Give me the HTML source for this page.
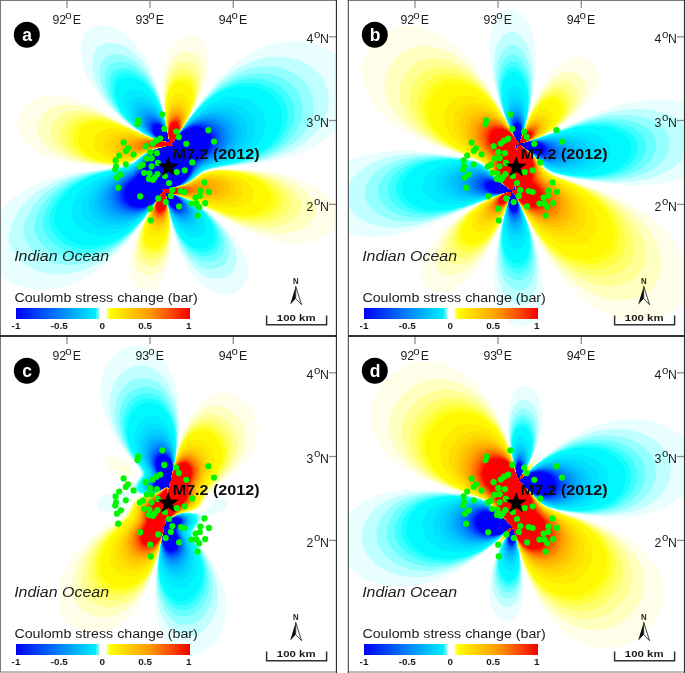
<!DOCTYPE html>
<html><head><meta charset="utf-8"><title>Coulomb stress change</title>
<style>
html,body{margin:0;padding:0;background:#fff;}
body{width:685px;height:673px;overflow:hidden;}
svg{display:block;}
text{font-family:'Liberation Sans', sans-serif;}
.dt{fill:#06f506;}
</style></head><body>
<svg width="685" height="673" viewBox="0 0 685 673">
<defs><clipPath id="cpa"><rect x="0" y="0" width="336" height="336"/></clipPath><clipPath id="cpb"><rect x="348" y="0" width="336" height="336"/></clipPath><clipPath id="cpc"><rect x="0" y="336" width="336" height="336"/></clipPath><clipPath id="cpd"><rect x="348" y="336" width="336" height="336"/></clipPath>
<filter id="soft" x="0" y="0" width="685" height="673" filterUnits="userSpaceOnUse"><feGaussianBlur stdDeviation="0.45"/></filter>
<linearGradient id="gb"><stop offset="0" stop-color="#0000f5"/><stop offset="1" stop-color="#00f0ff"/></linearGradient>
<linearGradient id="gw1"><stop offset="0" stop-color="#00f5ff"/><stop offset="1" stop-color="#fff"/></linearGradient>
<linearGradient id="gw2"><stop offset="0" stop-color="#fff"/><stop offset="1" stop-color="#ffff00"/></linearGradient>
<linearGradient id="gr"><stop offset="0" stop-color="#ffff00"/><stop offset="0.5" stop-color="#ff9900"/><stop offset="1" stop-color="#f50000"/></linearGradient>
</defs>
<rect width="685" height="673" fill="#fff"/>
<g filter="url(#soft)">
<g clip-path="url(#cpa)"><path fill="#e9ffff" fill-rule="evenodd" d="M169.5 142.8L160.1 140.5L148.8 136.5L140.8 132.5L132.8 127.5L122.2 119.5L113.1 111.5L104.5 102.5L96.4 92.5L90.5 83.5L85.9 74.5L82.7 65.5L81.0 57.5L80.5 49.5L81.4 41.5L83.9 34.5L87.5 28.9L93.5 26.1L99.5 25.1L106.5 25.6L114.5 27.9L121.5 31.5L128.5 36.7L134.5 42.5L140.5 50.0L145.5 57.8L149.5 65.5L156.5 83.6L162.5 106.6L169.5 140.6L169.5 142.8ZM45.5 289.5L32.5 289.0L20.5 286.4L9.5 281.7L0.5 275.5L0.5 210.9L6.3 204.5L12.9 198.5L21.2 192.5L29.6 187.5L40.2 182.5L50.5 178.7L62.5 175.3L76.5 172.4L116.5 167.3L125.5 165.6L133.5 162.3L143.6 154.5L150.6 150.5L156.0 148.5L167.9 145.5L172.5 146.1L172.8 145.5L171.5 145.3L170.9 143.5L172.5 142.5L174.1 140.5L202.5 98.7L216.5 81.4L226.5 71.1L237.5 61.9L248.5 54.5L259.5 48.8L269.5 45.1L280.5 42.3L290.5 41.1L300.5 41.1L310.5 42.6L319.5 45.3L328.3 49.5L335.5 54.5L335.5 130.2L327.6 137.5L319.2 143.5L310.4 148.5L300.5 152.9L290.5 156.5L277.5 160.0L262.5 162.9L219.5 167.7L209.5 169.4L201.5 172.7L191.4 180.5L184.4 184.5L179.0 186.5L167.1 189.5L162.5 188.9L162.2 189.5L163.5 189.7L164.1 191.5L162.5 192.5L160.9 194.5L134.5 233.0L121.5 249.1L107.5 262.9L92.5 274.1L77.5 282.0L69.5 285.1L61.5 287.3L53.5 288.8L45.5 289.5ZM226.5 294.5L221.5 294.4L216.5 293.4L210.5 291.0L205.5 288.0L200.5 284.1L195.5 279.0L187.5 268.0L180.8 254.5L175.5 239.0L170.5 218.7L165.5 194.4L165.5 192.2L174.9 194.5L186.1 198.5L195.8 203.5L204.9 209.5L216.1 218.5L225.4 227.5L233.9 237.5L240.0 246.5L244.4 255.5L247.2 264.5L247.9 272.5L246.9 279.5L244.2 285.5L239.5 290.4L233.5 293.5L226.5 294.5Z"/>
<path fill="#bfffff" fill-rule="evenodd" d="M169.5 142.8L160.1 140.5L151.4 137.5L144.8 134.5L136.3 129.5L128.0 123.5L119.9 116.5L113.1 109.5L106.5 101.5L101.1 93.5L97.5 86.5L94.4 78.5L92.8 71.5L92.2 64.5L92.9 57.5L94.8 51.5L98.0 46.5L102.5 44.1L108.5 42.9L114.5 43.2L120.5 44.8L126.5 47.6L132.5 51.7L138.5 57.2L143.5 63.1L151.5 76.2L155.5 85.3L158.5 93.7L164.5 116.7L169.5 140.6L169.5 142.8ZM61.5 274.5L52.5 274.3L43.5 272.8L35.5 270.2L28.5 266.7L22.5 262.5L16.6 256.5L12.5 250.5L9.4 243.5L8.9 238.5L9.9 230.5L11.9 223.5L15.0 216.5L18.6 210.5L23.1 204.5L28.9 198.5L34.7 193.5L41.9 188.5L49.0 184.5L64.5 177.9L74.5 174.9L85.0 172.5L118.5 167.4L126.5 165.6L133.5 162.5L143.7 154.5L150.7 150.5L156.1 148.5L167.9 145.5L172.5 146.1L172.8 145.5L171.5 145.3L170.9 143.5L172.5 142.5L174.1 140.5L198.5 105.3L210.5 90.8L219.5 81.8L229.5 73.7L239.5 67.3L249.5 62.5L259.5 59.1L269.5 57.1L279.5 56.5L289.5 57.5L298.5 59.9L307.5 64.0L314.5 69.1L320.6 75.5L324.8 82.5L327.8 91.5L328.7 100.5L327.6 109.5L324.6 118.5L319.5 127.5L312.9 135.5L304.9 142.5L299.1 146.5L291.5 150.8L275.1 157.5L264.4 160.5L252.5 163.0L217.5 167.6L208.5 169.4L201.5 172.5L191.3 180.5L184.3 184.5L178.9 186.5L167.1 189.5L162.5 188.9L162.2 189.5L163.5 189.7L164.1 191.5L162.5 192.5L160.9 194.5L139.5 225.3L127.5 239.9L115.5 251.6L102.5 261.2L89.5 268.0L75.5 272.6L61.5 274.5ZM220.5 278.6L215.5 278.8L211.5 278.3L206.5 276.7L201.5 274.1L193.5 267.6L185.5 257.6L179.5 246.3L174.5 232.8L169.5 213.5L165.5 194.4L165.5 192.2L174.9 194.5L183.5 197.5L192.0 201.5L200.0 206.5L209.1 213.5L216.6 220.5L222.9 227.5L228.7 235.5L233.1 243.5L235.5 250.5L236.7 257.5L236.3 263.5L234.5 269.1L231.4 273.5L226.5 276.9L220.5 278.6Z"/>
<path fill="#94ffff" fill-rule="evenodd" d="M169.5 142.8L163.6 141.5L154.2 138.5L147.1 135.5L139.8 131.5L132.6 126.5L125.3 120.5L119.2 114.5L113.2 107.5L109.0 101.5L105.0 94.5L102.2 87.5L100.3 80.5L99.7 73.5L100.2 67.5L102.1 61.5L104.5 57.7L108.5 55.5L113.5 54.2L118.5 54.2L124.5 55.5L130.5 58.2L135.5 61.5L140.5 65.9L145.5 71.6L149.5 77.3L153.5 84.4L159.5 99.1L164.5 117.3L169.5 140.6L169.5 142.8ZM77.5 264.6L68.5 265.1L60.5 264.5L52.5 262.7L45.5 260.0L39.4 256.5L33.5 251.6L29.2 246.5L25.8 240.5L23.7 234.5L23.8 231.5L25.0 223.5L27.4 216.5L30.9 209.5L35.0 203.5L40.3 197.5L45.9 192.5L57.8 184.5L72.5 177.8L91.2 172.5L119.5 167.6L126.5 165.9L133.5 162.7L143.8 154.5L150.8 150.5L157.5 148.1L167.9 145.5L172.5 146.1L172.8 145.5L171.5 145.3L170.9 143.5L172.5 142.5L174.1 140.5L192.5 114.0L205.5 97.9L213.5 89.9L222.5 82.5L231.5 76.6L240.5 72.1L249.5 68.9L259.5 66.9L268.5 66.3L277.5 67.1L285.5 69.2L293.5 72.7L300.3 77.5L305.5 82.8L309.8 89.5L312.6 97.5L313.5 105.5L312.8 113.5L310.4 121.5L306.2 129.5L300.8 136.5L293.3 143.5L280.9 151.5L267.1 157.5L247.5 162.7L216.5 167.4L208.5 169.2L201.5 172.3L191.2 180.5L184.2 184.5L177.5 186.9L167.1 189.5L162.5 188.9L162.2 189.5L163.5 189.7L164.1 191.5L162.5 192.5L160.9 194.5L144.5 218.1L133.5 231.7L122.5 242.8L111.5 251.3L100.5 257.6L89.5 262.0L77.5 264.6ZM215.5 268.5L211.5 268.9L207.5 268.5L202.5 267.0L198.5 265.0L190.5 258.7L183.5 249.9L177.5 238.6L172.5 224.6L168.5 208.6L165.5 194.4L165.5 192.2L174.8 194.5L183.4 197.5L189.8 200.5L196.5 204.5L204.6 210.5L211.3 216.5L216.8 222.5L222.0 229.5L226.0 236.5L228.2 242.5L229.4 248.5L229.3 254.5L227.5 260.3L224.5 264.3L220.5 267.1L215.5 268.5Z"/>
<path fill="#6affff" fill-rule="evenodd" d="M169.5 142.8L163.6 141.5L154.3 138.5L141.8 132.5L135.8 128.5L128.3 122.5L122.2 116.5L117.1 110.5L113.0 104.5L109.2 97.5L106.9 91.5L105.5 85.5L105.1 79.5L105.5 74.5L107.0 69.5L109.5 65.4L113.5 63.2L118.5 62.1L123.5 62.3L128.5 63.6L133.5 65.8L138.5 69.1L143.5 73.6L147.5 78.2L154.5 89.3L160.5 103.8L165.5 122.0L169.5 140.6L169.5 142.8ZM86.5 257.6L78.5 258.4L70.5 258.1L62.5 256.6L55.5 254.1L49.5 250.7L44.2 246.5L39.8 241.5L36.3 235.5L34.3 229.5L34.4 226.5L35.6 219.5L38.0 212.5L41.1 206.5L45.4 200.5L49.8 195.5L55.5 190.5L65.9 183.5L79.0 177.5L94.5 172.8L120.5 167.7L127.5 165.9L133.5 163.0L144.0 154.5L150.8 150.5L157.5 148.1L167.9 145.5L172.5 146.1L172.8 145.5L171.5 145.3L170.9 143.5L172.5 142.5L174.1 140.5L190.5 117.0L202.5 102.4L210.5 94.5L218.5 88.0L226.5 82.8L234.5 78.8L242.5 75.9L251.5 73.9L260.5 73.3L268.5 73.9L276.5 75.9L283.5 78.9L290.2 83.5L295.2 88.5L299.1 94.5L301.6 101.5L302.7 108.5L302.1 116.5L299.8 124.5L296.2 131.5L290.8 138.5L284.5 144.5L274.2 151.5L261.2 157.5L243.9 162.5L214.5 167.5L207.5 169.2L201.5 172.1L191.0 180.5L184.2 184.5L177.5 186.9L167.1 189.5L162.5 188.9L162.2 189.5L163.5 189.7L164.1 191.5L162.5 192.5L160.9 194.5L142.5 220.3L134.5 229.6L127.5 236.6L118.5 243.9L107.5 250.6L97.5 254.8L86.5 257.6ZM210.5 261.6L203.5 261.4L199.5 260.1L195.5 258.1L188.5 252.5L181.5 243.6L176.5 234.1L172.2 222.5L168.5 208.4L165.5 194.4L165.5 192.2L171.4 193.5L180.7 196.5L187.6 199.5L194.6 203.5L201.5 208.5L208.2 214.5L213.7 220.5L218.0 226.5L221.3 232.5L223.5 238.5L224.4 244.5L224.0 249.5L222.5 253.9L219.5 257.8L215.5 260.4L210.5 261.6Z"/>
<path fill="#3fffff" fill-rule="evenodd" d="M169.5 142.8L163.6 141.5L154.4 138.5L142.1 132.5L130.1 123.5L120.7 113.5L113.8 102.5L111.3 96.5L109.7 90.5L109.2 84.5L109.6 79.5L111.2 74.5L113.2 71.5L117.5 69.1L121.5 68.2L125.5 68.2L130.5 69.3L134.5 70.9L139.5 73.9L144.5 78.2L148.5 82.6L155.0 92.5L160.5 105.1L165.5 122.4L169.5 140.6L169.5 142.8ZM91.5 252.6L83.5 253.3L76.5 253.0L69.5 251.7L63.5 249.7L57.5 246.5L52.3 242.5L47.8 237.5L44.8 232.5L42.4 225.5L43.3 218.5L45.4 211.5L48.2 205.5L52.3 199.5L56.6 194.5L62.2 189.5L72.7 182.5L86.0 176.5L97.5 173.0L122.5 167.6L129.5 165.4L134.5 162.5L145.5 153.5L152.5 149.8L167.9 145.5L172.5 146.1L172.8 145.5L171.5 145.3L170.9 143.5L172.5 142.5L174.1 140.5L188.5 119.9L199.5 106.5L206.5 99.5L214.5 92.8L221.5 88.2L229.5 84.0L237.5 81.1L245.5 79.3L253.5 78.6L261.5 79.1L268.5 80.6L275.6 83.5L281.8 87.5L287.0 92.5L291.0 98.5L293.2 104.5L294.4 111.5L293.8 119.5L291.8 126.5L288.2 133.5L283.7 139.5L277.5 145.5L267.2 152.5L255.5 157.9L240.1 162.5L214.5 167.2L207.5 169.0L201.5 171.8L190.9 180.5L184.1 184.5L177.5 186.9L167.1 189.5L162.5 188.9L162.2 189.5L163.5 189.7L164.1 191.5L162.5 192.5L160.9 194.5L151.5 208.1L143.5 218.6L136.5 226.6L129.5 233.5L121.5 239.9L111.5 245.9L101.5 250.1L91.5 252.6ZM210.5 255.6L203.5 256.4L199.5 255.6L195.5 254.1L188.5 249.3L181.5 241.2L176.5 232.4L171.8 220.5L168.5 208.2L165.5 194.4L165.5 192.2L171.4 193.5L180.6 196.5L192.7 202.5L198.4 206.5L204.3 211.5L213.1 221.5L216.7 227.5L218.9 232.5L220.1 237.5L220.4 242.5L219.5 247.1L217.5 250.9L214.5 253.8L210.5 255.6Z"/>
<path fill="#15ffff" fill-rule="evenodd" d="M169.5 142.7L157.2 139.5L149.7 136.5L144.0 133.5L132.9 125.5L127.6 120.5L123.3 115.5L119.8 110.5L116.5 104.5L114.1 98.5L112.9 93.5L112.5 88.5L112.9 83.5L114.5 78.5L116.5 76.0L119.5 74.3L123.5 73.2L127.5 73.0L132.5 74.0L137.5 76.1L141.5 78.7L145.5 82.0L149.5 86.4L156.5 97.2L161.5 109.0L166.5 126.8L169.5 140.6L169.5 142.7ZM95.5 248.6L88.5 249.2L81.5 249.0L74.5 247.6L68.4 245.5L62.9 242.5L57.9 238.5L53.6 233.5L50.8 228.5L49.1 223.5L49.0 221.5L50.1 214.5L52.1 208.5L55.2 202.5L58.8 197.5L63.3 192.5L67.8 188.5L78.4 181.5L90.5 176.1L100.5 173.0L122.5 167.9L129.5 165.6L134.5 162.7L145.7 153.5L152.5 149.9L167.9 145.5L172.5 146.1L172.8 145.5L171.5 145.3L170.9 143.5L173.3 141.5L188.5 120.1L198.5 108.3L205.5 101.5L212.5 95.8L219.5 91.3L226.5 87.8L234.5 84.9L242.5 83.3L250.5 82.8L257.5 83.4L264.5 85.2L270.5 87.8L276.1 91.5L281.1 96.5L284.9 102.5L286.9 108.5L287.7 114.5L287.2 121.5L285.2 128.5L282.2 134.5L277.8 140.5L271.6 146.5L261.2 153.5L247.4 159.5L235.5 162.9L213.5 167.1L205.5 169.5L200.5 172.3L189.3 181.5L181.5 185.5L167.1 189.5L162.5 188.9L162.2 189.5L163.5 189.7L164.1 191.5L162.5 192.5L160.9 194.5L151.5 208.0L144.5 217.1L131.5 230.6L122.5 237.6L113.5 242.8L104.5 246.4L95.5 248.6ZM206.5 251.7L200.5 252.1L193.5 249.8L186.5 244.8L180.5 237.8L175.5 228.9L171.5 219.0L168.5 208.1L165.5 194.4L165.5 192.3L177.8 195.5L185.2 198.5L190.8 201.5L196.7 205.5L202.6 210.5L207.3 215.5L211.1 220.5L214.0 225.5L216.0 230.5L217.1 235.5L217.0 240.5L215.9 244.5L213.5 248.0L210.5 250.3L206.5 251.7Z"/>
<path fill="#00f8ff" fill-rule="evenodd" d="M169.5 142.7L157.3 139.5L146.0 134.5L134.6 126.5L125.8 117.5L119.4 107.5L115.9 97.5L115.3 92.5L115.5 87.5L117.0 82.5L118.5 80.4L121.5 78.4L125.5 77.2L129.5 77.0L133.5 77.7L137.5 79.2L142.5 82.1L146.5 85.4L150.5 89.7L156.5 98.6L161.5 109.8L166.5 127.0L169.5 140.6L169.5 142.7ZM96.5 245.6L89.5 245.9L83.5 245.3L77.5 244.0L71.5 241.6L66.4 238.5L61.8 234.5L58.6 230.5L55.9 225.5L54.4 220.5L54.4 218.5L55.5 212.5L57.6 206.5L60.2 201.5L63.6 196.5L68.2 191.5L72.7 187.5L81.7 181.5L93.5 176.1L104.7 172.5L124.5 167.7L130.5 165.4L135.5 162.2L145.8 153.5L152.5 149.9L167.9 145.5L172.5 146.1L172.8 145.5L171.5 145.3L170.9 143.5L173.4 141.5L186.5 122.9L196.5 111.0L202.5 105.0L209.5 99.3L216.5 94.6L223.5 91.1L231.5 88.2L238.5 86.8L246.5 86.2L253.5 86.9L260.5 88.7L266.5 91.5L271.5 94.9L276.0 99.5L279.2 104.5L281.4 110.5L282.2 116.5L281.7 123.5L279.6 130.5L276.5 136.5L271.9 142.5L266.6 147.5L255.9 154.5L244.4 159.5L233.5 162.7L213.5 166.8L205.5 169.3L200.5 172.1L189.2 181.5L182.5 185.1L167.1 189.5L162.5 188.9L162.2 189.5L163.5 189.7L164.1 191.5L162.5 192.5L160.9 194.5L151.5 208.0L144.5 216.8L132.5 228.9L124.5 235.0L115.5 240.1L105.5 243.8L96.5 245.6ZM202.5 248.6L196.5 248.1L189.5 244.9L183.5 239.8L178.5 233.2L173.5 223.6L170.5 215.4L165.5 194.4L165.5 192.3L171.3 193.5L180.4 196.5L190.5 201.5L200.9 209.5L205.6 214.5L209.3 219.5L212.0 224.5L213.8 229.5L214.6 234.5L214.2 238.5L212.7 242.5L210.2 245.5L206.7 247.5L202.5 248.6Z"/>
<path fill="#00ebff" fill-rule="evenodd" d="M169.5 142.7L157.6 139.5L148.7 135.5L139.9 129.5L132.8 122.5L127.4 114.5L124.5 106.5L124.0 98.5L124.9 94.5L126.5 92.4L129.5 90.4L132.5 89.5L135.5 89.3L139.5 89.9L146.5 93.2L153.5 99.6L158.5 106.8L163.5 117.7L167.5 131.7L169.5 140.7L169.5 142.7ZM105.5 235.6L99.5 235.5L94.5 234.8L85.3 231.5L80.7 228.5L77.4 225.5L74.4 221.5L72.4 217.5L71.1 211.5L72.1 206.5L73.9 201.5L78.7 193.5L86.6 185.5L93.9 180.5L101.8 176.5L130.5 166.5L135.5 163.2L144.9 154.5L151.5 150.5L158.5 147.9L167.9 145.5L172.5 146.1L172.8 145.5L171.5 145.3L170.9 143.5L173.4 141.5L183.5 127.3L190.5 118.9L196.5 113.0L202.5 108.1L208.5 104.1L214.5 101.1L220.5 98.9L227.5 97.3L233.5 96.9L239.5 97.3L245.5 98.7L250.5 100.8L255.5 104.0L259.5 108.0L262.5 112.5L264.4 117.5L265.2 122.5L264.8 128.5L263.2 134.5L260.7 139.5L257.1 144.5L252.0 149.5L244.5 154.8L234.7 159.5L227.5 162.0L210.5 166.4L204.5 168.7L199.5 171.9L190.1 180.5L182.5 184.9L167.1 189.5L162.5 188.9L162.2 189.5L163.5 189.7L164.1 191.5L161.6 193.5L148.5 211.3L143.5 216.7L137.5 222.0L129.5 227.7L121.5 231.7L113.5 234.3L105.5 235.6ZM197.5 237.6L192.5 237.7L186.5 235.4L181.5 231.6L176.5 225.7L173.5 220.9L170.5 213.8L167.5 203.2L165.5 194.3L165.5 192.3L177.4 195.5L186.2 199.5L194.6 205.5L200.9 212.5L205.1 220.5L206.0 224.5L206.0 228.5L205.2 231.5L203.5 234.2L201.5 235.9L197.5 237.6Z"/>
<path fill="#00dfff" fill-rule="evenodd" d="M169.5 142.7L160.6 140.5L151.2 136.5L143.5 131.5L136.4 124.5L131.8 117.5L129.3 109.5L129.6 102.5L130.7 100.5L132.5 98.7L137.5 96.7L143.5 97.3L149.5 100.2L155.5 105.6L160.5 112.9L164.5 121.8L167.5 132.0L169.5 140.7L169.5 142.7ZM111.5 229.5L102.5 228.8L97.5 227.3L93.5 225.4L89.5 222.6L86.5 219.6L84.3 216.5L82.4 212.5L81.3 207.5L82.1 203.5L83.9 198.5L88.1 191.5L95.0 184.5L100.5 180.5L107.8 176.5L126.5 169.4L131.5 167.0L135.5 164.1L145.4 154.5L151.8 150.5L158.5 148.0L168.0 145.5L172.5 146.1L172.8 145.5L171.5 145.3L170.9 143.5L173.4 141.5L181.5 130.2L187.5 123.0L197.5 113.9L203.5 109.8L208.5 107.2L214.5 105.0L220.5 103.6L226.5 103.2L231.5 103.6L236.5 104.7L241.5 106.7L245.8 109.5L249.5 113.0L252.5 117.5L254.0 121.5L254.8 126.5L254.6 131.5L253.3 136.5L250.9 141.5L247.3 146.5L243.3 150.5L236.4 155.5L228.5 159.5L209.5 165.6L203.5 168.2L199.5 171.0L189.6 180.5L183.2 184.5L176.5 187.0L167.0 189.5L162.5 188.9L162.2 189.5L163.5 189.7L164.1 191.5L161.6 193.5L149.5 209.6L141.5 217.2L133.5 222.7L126.5 226.2L118.5 228.6L111.5 229.5ZM194.5 230.9L190.5 231.4L185.5 230.2L180.5 227.0L175.5 221.9L172.5 217.1L169.5 210.0L165.5 194.3L165.5 192.3L174.4 194.5L183.7 198.5L191.0 203.5L196.6 209.5L199.8 215.5L200.8 219.5L200.9 222.5L200.3 225.5L199.2 227.5L197.5 229.2L194.5 230.9Z"/>
<path fill="#00d2ff" fill-rule="evenodd" d="M169.5 142.7L160.8 140.5L153.6 137.5L147.0 133.5L140.4 127.5L135.5 120.5L133.2 114.5L132.9 108.5L133.6 106.5L135.5 104.0L139.5 102.0L142.5 101.7L145.5 102.1L151.5 104.9L156.5 109.3L160.5 114.6L164.5 122.7L167.5 132.2L169.5 140.7L169.5 142.7ZM122.5 224.6L112.5 225.3L103.5 223.3L99.5 221.3L95.6 218.5L90.8 212.5L89.2 208.5L88.4 204.5L89.6 199.5L93.7 191.5L100.0 184.5L105.3 180.5L110.4 177.5L127.5 170.1L132.5 167.4L136.5 164.1L144.7 155.5L151.5 150.8L158.5 148.0L168.0 145.5L172.5 146.1L172.8 145.5L171.5 145.3L170.9 143.5L173.4 141.5L185.5 125.6L193.5 118.1L203.5 111.9L208.5 109.8L214.5 108.2L220.5 107.6L225.5 107.8L230.5 108.9L235.5 110.9L239.4 113.5L242.5 116.5L245.2 120.5L246.8 124.5L247.6 129.5L247.2 134.5L245.7 139.5L243.6 143.5L240.7 147.5L236.8 151.5L231.4 155.5L226.5 158.3L208.5 164.9L202.5 167.8L198.5 170.9L190.3 179.5L182.8 184.5L176.5 187.0L167.0 189.5L162.5 188.9L162.2 189.5L163.5 189.7L164.1 191.5L161.6 193.5L151.5 207.0L145.5 213.0L140.5 216.8L133.5 220.8L128.5 223.0L122.5 224.6ZM191.5 226.5L187.5 227.0L183.5 225.9L178.5 223.0L174.5 218.8L171.5 214.0L169.5 209.3L166.5 198.6L165.5 192.3L174.2 194.5L183.2 198.5L188.8 202.5L193.5 207.5L196.7 213.5L197.3 218.5L196.7 221.5L195.6 223.5L193.5 225.5L191.5 226.5Z"/>
<path fill="#00c5ff" fill-rule="evenodd" d="M169.5 142.7L160.9 140.5L154.0 137.5L147.7 133.5L142.4 128.5L138.3 122.5L135.9 116.5L135.9 111.5L138.4 107.5L142.5 105.6L145.5 105.5L148.5 106.2L153.5 108.8L158.5 113.4L162.5 119.3L165.5 126.0L169.5 140.7L169.5 142.7ZM125.5 221.6L116.5 222.1L108.5 220.4L101.5 216.5L98.5 213.5L96.4 210.5L94.2 204.5L93.9 201.5L94.4 199.5L98.1 191.5L104.0 184.5L112.2 178.5L132.5 168.4L136.5 165.0L145.1 155.5L150.6 151.5L157.3 148.5L168.0 145.5L172.5 146.1L172.8 145.5L171.5 145.2L170.9 143.5L173.4 141.5L183.5 128.2L191.5 120.6L200.5 114.9L210.5 111.5L215.5 110.8L220.5 110.9L225.5 111.9L229.5 113.4L233.2 115.5L236.7 118.5L239.0 121.5L241.0 125.5L241.9 129.5L242.0 134.5L240.8 139.5L239.0 143.5L236.3 147.5L232.6 151.5L225.9 156.5L202.5 166.8L198.5 170.0L189.9 179.5L183.5 184.0L176.5 186.9L167.0 189.5L162.5 188.9L162.2 189.5L163.5 189.8L164.1 191.5L162.5 192.5L154.5 203.2L147.5 210.7L143.5 213.9L138.5 216.9L131.5 220.0L125.5 221.6ZM188.5 223.5L184.5 223.7L180.5 222.4L176.5 219.6L173.5 216.2L170.5 211.0L168.5 205.9L165.5 194.3L165.5 192.3L174.1 194.5L180.9 197.5L186.9 201.5L191.5 206.5L194.4 212.5L194.6 217.5L193.8 219.5L192.2 221.5L188.5 223.5Z"/>
<path fill="#00b8ff" fill-rule="evenodd" d="M169.5 142.7L164.0 141.5L156.3 138.5L149.7 134.5L145.2 130.5L140.8 124.5L138.4 118.5L138.2 114.5L140.5 110.4L144.5 108.5L148.5 108.7L153.5 110.7L158.5 114.8L162.5 120.3L165.5 126.5L168.5 136.6L169.5 142.7ZM125.5 219.6L117.5 219.4L110.5 217.4L104.5 213.5L101.8 210.5L100.0 207.5L98.9 204.5L98.3 200.5L99.2 196.5L102.9 189.5L108.3 183.5L115.3 178.5L133.5 168.7L136.5 166.0L144.5 156.5L150.9 151.5L158.5 148.1L168.0 145.5L172.5 146.1L172.8 145.5L171.5 145.2L170.9 143.5L173.4 141.5L181.5 130.7L188.5 123.6L196.5 118.1L206.5 114.3L211.5 113.4L216.5 113.4L221.5 114.2L225.5 115.6L229.5 117.9L232.5 120.6L234.8 123.5L236.8 127.5L237.6 131.5L237.5 136.5L236.5 140.5L234.7 144.5L232.0 148.5L228.2 152.5L221.5 156.9L206.5 163.7L201.5 166.5L197.5 170.2L190.5 178.5L183.5 183.8L176.5 186.9L167.0 189.5L162.5 188.9L162.2 189.5L163.5 189.8L164.1 191.5L162.5 192.5L154.5 203.1L147.5 210.2L142.5 213.8L137.5 216.4L130.5 218.7L125.5 219.6ZM185.5 221.6L181.5 221.1L178.5 219.7L175.5 217.4L172.5 213.8L168.5 205.5L165.5 194.3L165.5 192.3L174.0 194.5L180.5 197.5L186.2 201.5L189.8 205.5L192.3 210.5L192.6 215.5L190.3 219.5L188.5 220.8L185.5 221.6Z"/>
<path fill="#00acff" fill-rule="evenodd" d="M169.5 142.7L164.1 141.5L156.6 138.5L150.2 134.5L145.9 130.5L142.4 125.5L140.5 120.5L140.5 116.0L142.5 112.6L146.5 110.9L150.5 111.2L155.5 113.6L159.5 117.1L162.5 121.1L165.5 127.0L168.5 136.6L169.5 142.7ZM128.5 217.5L121.5 217.6L114.5 215.9L108.7 212.5L104.3 207.5L102.3 202.5L102.0 197.5L105.1 190.5L109.9 184.5L117.8 178.5L133.7 169.5L137.5 165.7L144.9 156.5L151.2 151.5L157.6 148.5L168.0 145.5L172.5 146.1L172.8 145.5L171.5 145.2L170.9 143.5L173.4 141.5L180.5 132.0L187.5 124.9L194.5 120.1L204.5 116.2L213.5 115.4L218.5 116.2L222.5 117.6L225.9 119.5L229.3 122.5L231.6 125.5L233.4 129.5L234.1 133.5L233.9 137.5L232.9 141.5L231.1 145.5L225.5 152.4L218.5 157.0L201.5 165.6L197.5 169.3L190.1 178.5L183.8 183.5L177.4 186.5L167.0 189.5L162.5 188.9L162.2 189.5L163.5 189.8L164.1 191.5L162.5 192.5L154.5 202.9L148.5 209.0L144.5 211.9L139.5 214.6L134.5 216.3L128.5 217.5ZM185.5 219.6L182.5 219.7L178.5 218.4L175.5 216.4L172.5 213.1L168.5 205.2L165.5 194.3L165.5 192.3L170.9 193.5L178.4 196.5L184.4 200.5L188.2 204.5L190.7 209.5L191.0 213.5L189.1 217.5L185.5 219.6Z"/>
<path fill="#009fff" fill-rule="evenodd" d="M169.5 142.7L164.1 141.5L156.8 138.5L152.0 135.5L147.5 131.5L144.0 126.5L142.2 121.5L142.4 117.5L144.3 114.5L147.5 113.0L151.5 113.2L156.5 115.5L160.5 119.2L163.5 123.4L166.5 129.9L169.5 140.7L169.5 142.7ZM132.5 215.6L124.5 216.1L117.5 214.5L112.0 211.5L107.5 206.6L105.4 201.5L105.0 196.5L107.6 190.5L112.3 184.5L118.5 179.5L134.5 169.7L137.5 166.7L144.3 157.5L150.5 152.1L156.5 149.0L164.1 146.5L168.5 145.4L172.5 146.1L172.8 145.5L171.5 145.2L170.9 143.5L173.4 141.5L180.5 132.1L186.5 126.1L193.5 121.3L202.5 118.0L211.5 117.2L219.5 119.1L223.5 121.3L226.1 123.5L228.4 126.5L229.9 129.5L230.8 132.5L231.0 136.5L229.4 143.5L227.2 147.5L224.9 150.5L217.5 156.1L200.5 165.4L197.5 168.3L189.8 178.5L183.5 183.5L177.2 186.5L169.5 188.9L166.5 189.6L162.5 188.9L162.2 189.5L163.5 189.8L164.1 191.5L162.5 192.5L155.5 201.6L150.5 206.9L146.5 210.1L141.5 213.0L132.5 215.6ZM185.5 217.7L182.5 218.3L178.5 217.3L175.5 215.5L172.5 212.4L168.5 204.9L165.5 194.3L165.5 192.3L170.9 193.5L178.2 196.5L182.8 199.5L186.7 203.5L189.0 207.5L189.7 211.5L188.4 215.5L185.5 217.7Z"/>
<path fill="#0092ff" fill-rule="evenodd" d="M169.5 142.7L164.2 141.5L157.1 138.5L152.4 135.5L149.1 132.5L146.0 128.5L143.9 123.5L143.9 119.5L145.5 116.4L148.5 114.8L152.5 114.9L156.5 116.6L160.5 120.0L163.5 123.9L166.5 130.2L169.5 140.7L169.5 142.7ZM132.5 214.6L125.5 214.6L119.5 213.1L114.5 210.4L110.0 205.5L108.0 200.5L107.6 195.5L110.3 189.5L114.4 184.5L120.5 179.5L131.5 172.8L135.5 169.7L144.7 157.5L150.2 152.5L156.5 149.1L164.2 146.5L168.5 145.4L172.5 146.2L172.8 145.5L171.5 145.2L170.9 143.5L173.4 141.5L182.5 130.1L187.5 125.7L191.5 123.0L195.5 121.0L200.5 119.4L209.5 118.6L213.5 119.2L217.4 120.5L223.4 124.5L225.8 127.5L227.3 130.5L228.2 133.5L228.4 137.5L226.6 144.5L224.5 148.2L222.4 150.5L216.2 155.5L203.5 162.5L199.5 165.4L197.5 167.4L190.3 177.5L184.8 182.5L178.5 185.9L170.8 188.5L166.5 189.6L162.5 188.8L162.2 189.5L163.5 189.8L164.1 191.5L162.5 192.5L155.5 201.5L150.5 206.6L142.5 211.9L137.5 213.7L132.5 214.6ZM183.5 216.8L180.5 216.8L177.5 215.9L174.5 213.9L171.5 210.4L169.5 207.0L167.5 201.8L165.5 194.3L165.5 192.3L170.8 193.5L177.9 196.5L182.4 199.5L186.1 203.5L188.1 207.5L188.4 211.5L186.5 215.2L183.5 216.8Z"/>
<path fill="#0085ff" fill-rule="evenodd" d="M169.5 142.7L164.3 141.5L157.3 138.5L152.8 135.5L149.6 132.5L146.8 128.5L145.3 124.5L145.3 120.5L147.2 117.5L150.5 116.2L154.5 116.7L158.5 118.9L161.5 121.8L164.5 126.1L166.5 130.5L169.5 140.7L169.5 142.7ZM133.5 213.5L126.5 213.3L120.5 211.6L115.6 208.5L112.2 204.5L110.2 199.5L110.0 194.5L112.2 189.5L116.3 184.5L122.2 179.5L135.5 170.6L138.5 167.1L145.0 157.5L150.5 152.5L156.5 149.2L164.2 146.5L168.5 145.4L172.5 146.2L172.8 145.5L171.5 145.2L170.9 143.5L172.5 142.5L182.5 130.3L190.5 124.1L198.5 120.8L207.5 119.8L215.0 121.5L218.5 123.3L221.2 125.5L223.6 128.5L225.1 131.5L226.1 137.5L224.6 144.5L222.9 147.5L220.3 150.5L214.2 155.5L199.5 164.5L196.5 167.9L190.0 177.5L184.5 182.5L178.5 185.8L170.8 188.5L166.5 189.6L162.5 188.8L162.2 189.5L163.5 189.8L164.1 191.5L162.5 192.5L155.5 201.4L150.5 206.4L146.5 209.3L142.5 211.4L137.5 213.0L133.5 213.5ZM182.5 215.7L179.5 215.6L176.5 214.5L173.5 212.3L171.5 210.0L169.5 206.6L167.5 201.6L165.5 194.3L165.5 192.3L170.7 193.5L177.7 196.5L182.0 199.5L184.8 202.5L186.9 206.5L187.3 210.5L186.7 212.5L185.5 214.2L182.5 215.7Z"/>
<path fill="#0079ff" fill-rule="evenodd" d="M169.5 142.7L164.3 141.5L159.4 139.5L154.4 136.5L150.1 132.5L147.5 128.5L146.3 124.5L146.5 121.5L148.5 118.6L151.5 117.5L154.5 117.8L158.5 119.7L161.5 122.4L164.5 126.5L166.5 130.7L169.5 140.8L169.5 142.7ZM135.5 212.5L129.5 212.5L122.5 210.7L117.5 207.6L114.1 203.5L112.2 198.5L112.1 193.5L114.0 189.5L118.0 184.5L123.8 179.5L135.5 171.5L138.5 168.0L145.4 157.5L150.7 152.5L156.5 149.2L164.3 146.5L168.5 145.4L172.5 146.2L172.8 145.5L171.5 145.2L170.9 143.5L172.5 142.5L182.5 130.4L189.5 125.0L197.5 121.7L205.5 120.9L213.2 122.5L216.5 124.2L219.3 126.5L221.7 129.5L223.2 132.5L224.1 138.5L222.7 144.5L218.4 150.5L213.5 154.7L202.5 161.5L198.5 164.6L190.4 176.5L184.3 182.5L178.5 185.8L170.7 188.5L166.5 189.6L162.5 188.8L162.2 189.5L163.5 189.8L164.1 191.5L162.5 192.5L156.5 200.2L151.5 205.4L144.5 210.0L139.5 211.8L135.5 212.5ZM181.5 214.7L179.5 214.7L176.5 213.8L173.5 211.7L171.5 209.5L169.5 206.3L167.5 201.5L165.5 194.2L165.5 192.3L170.7 193.5L177.5 196.5L181.6 199.5L184.3 202.5L186.2 206.5L186.3 210.5L184.5 213.4L181.5 214.7Z"/>
<path fill="#006cff" fill-rule="evenodd" d="M169.5 142.7L164.4 141.5L159.6 139.5L154.7 136.5L151.4 133.5L148.6 129.5L147.4 125.5L147.5 122.5L149.5 119.7L152.5 118.6L155.5 119.0L159.5 121.1L162.5 124.0L166.5 130.9L169.5 140.8L169.5 142.7ZM137.5 211.6L130.5 211.6L124.5 210.0L120.1 207.5L116.3 203.5L114.2 198.5L113.9 193.5L115.6 189.5L119.5 184.5L123.9 180.5L136.5 171.3L144.9 158.5L151.0 152.5L156.1 149.5L164.3 146.5L168.5 145.4L172.5 146.2L172.8 145.5L171.5 145.2L170.9 143.5L172.5 142.5L181.5 131.6L188.5 126.0L195.5 122.9L203.5 121.8L207.5 122.2L211.5 123.4L214.5 124.9L217.5 127.2L221.1 132.5L222.2 138.5L220.9 144.5L216.7 150.5L212.2 154.5L198.5 163.7L196.5 166.1L190.1 176.5L184.0 182.5L178.9 185.5L170.7 188.5L166.5 189.6L162.5 188.8L162.2 189.5L163.5 189.8L164.1 191.5L162.5 192.5L156.5 200.2L152.5 204.3L145.5 209.1L137.5 211.6ZM181.5 213.7L179.5 213.9L176.5 213.1L173.5 211.2L171.5 209.1L169.5 206.1L167.5 201.4L165.5 194.2L165.5 192.3L170.6 193.5L175.4 195.5L180.2 198.5L183.1 201.5L185.3 205.5L185.6 208.5L184.5 211.7L181.5 213.7Z"/>
<path fill="#005fff" fill-rule="evenodd" d="M169.5 142.7L164.4 141.5L159.7 139.5L152.7 134.5L150.3 131.5L148.5 127.5L148.3 124.5L149.5 121.4L151.5 120.0L154.5 119.7L158.5 121.1L161.5 123.4L164.5 127.2L166.5 131.1L169.5 140.8L169.5 142.7ZM139.5 210.7L133.5 211.1L127.5 209.9L122.5 207.4L118.3 203.5L115.9 198.5L115.6 193.5L117.1 189.5L120.9 184.5L125.3 180.5L136.5 172.2L139.5 168.2L145.2 158.5L151.2 152.5L156.2 149.5L163.5 146.8L168.5 145.4L172.5 146.2L172.8 145.5L171.5 145.2L170.9 143.5L172.5 142.5L181.5 131.7L187.5 126.9L194.5 123.8L202.5 122.7L209.5 124.0L215.5 127.5L219.2 132.5L220.6 138.5L219.2 144.5L215.2 150.5L210.7 154.5L200.5 161.3L197.5 163.9L189.8 176.5L185.1 181.5L180.7 184.5L173.8 187.5L166.5 189.6L162.5 188.8L162.2 189.5L163.5 189.8L164.1 191.5L162.5 192.5L153.5 203.3L146.5 208.3L139.5 210.7ZM181.5 212.7L179.5 213.1L176.5 212.5L173.5 210.7L171.5 208.7L169.5 205.8L167.5 201.2L165.5 194.2L165.5 192.3L170.6 193.5L175.3 195.5L179.9 198.5L182.7 201.5L184.7 205.5L184.8 208.5L183.5 211.4L181.5 212.7Z"/>
<path fill="#0052ff" fill-rule="evenodd" d="M169.5 142.7L164.5 141.5L159.8 139.5L153.1 134.5L150.8 131.5L149.2 127.5L149.2 124.5L150.5 122.1L153.5 120.6L156.5 120.9L159.5 122.3L162.5 124.9L166.5 131.3L169.5 140.8L169.5 142.7ZM141.5 209.8L137.5 210.4L132.5 210.2L128.5 209.2L124.5 207.3L121.1 204.5L118.8 201.5L117.4 197.5L117.2 193.5L118.4 189.5L122.1 184.5L137.8 171.5L144.1 160.5L147.1 156.5L152.8 151.5L159.5 148.1L168.2 145.5L172.5 146.2L172.8 145.5L171.5 145.2L170.9 143.5L172.5 142.5L179.5 133.8L184.5 129.2L191.5 125.2L197.5 123.6L204.5 123.7L210.1 125.5L214.5 128.5L217.9 133.5L219.0 138.5L217.7 144.5L213.8 150.5L209.3 154.5L197.5 163.1L190.2 175.5L184.9 181.5L179.5 185.1L172.5 187.9L166.5 189.5L162.5 188.8L162.2 189.5L163.5 189.8L164.1 191.5L162.5 192.5L154.5 202.2L148.5 206.9L141.5 209.8ZM181.5 211.7L179.5 212.3L176.5 211.9L173.5 210.3L171.5 208.4L169.5 205.5L167.5 201.1L165.5 194.2L165.5 192.3L170.5 193.5L175.2 195.5L178.4 197.5L181.6 200.5L183.5 203.5L184.2 206.5L183.7 209.5L181.5 211.7Z"/>
<path fill="#0046ff" fill-rule="evenodd" d="M169.5 142.7L164.5 141.5L159.9 139.5L156.7 137.5L153.4 134.5L151.3 131.5L149.9 127.5L150.2 124.5L151.5 122.6L153.5 121.6L156.5 121.6L159.5 122.8L162.5 125.3L165.5 129.5L167.5 133.9L169.5 140.8L169.5 142.7ZM140.5 209.5L135.5 209.8L131.5 209.2L127.5 207.8L124.5 205.9L121.9 203.5L119.9 200.5L118.8 197.5L118.6 193.5L119.7 189.5L123.3 184.5L127.6 180.5L135.6 174.5L138.5 171.5L143.8 161.5L147.3 156.5L153.0 151.5L158.7 148.5L168.2 145.5L172.5 146.2L172.8 145.5L171.5 145.2L170.9 143.5L172.5 142.5L178.5 135.0L182.5 131.0L186.5 128.1L190.5 126.0L196.5 124.3L202.5 124.3L207.5 125.5L212.5 128.5L215.8 132.5L217.3 136.5L217.4 140.5L215.9 145.5L213.3 149.5L210.5 152.5L197.3 162.5L195.5 165.0L191.2 173.5L187.7 178.5L182.0 183.5L176.3 186.5L166.8 189.5L162.5 188.8L162.2 189.5L163.5 189.8L164.1 191.5L162.5 192.5L154.5 202.1L147.5 207.2L140.5 209.5ZM179.5 211.6L177.5 211.6L174.5 210.5L170.5 206.8L167.5 201.0L165.5 194.2L165.5 192.3L170.5 193.5L175.1 195.5L178.2 197.5L181.3 200.5L183.3 204.5L183.5 207.5L181.9 210.5L179.5 211.6Z"/>
<path fill="#0039ff" fill-rule="evenodd" d="M169.5 142.7L164.6 141.5L160.1 139.5L156.9 137.5L153.7 134.5L151.7 131.5L150.6 128.5L150.8 125.5L151.9 123.5L153.5 122.5L156.5 122.2L159.5 123.3L162.5 125.6L165.5 129.7L167.5 134.0L169.5 140.8L169.5 142.7ZM142.5 208.7L138.5 209.2L134.5 209.1L130.5 208.1L126.5 206.1L123.5 203.5L121.3 200.5L120.2 197.5L119.9 193.5L120.9 189.5L124.4 184.5L138.5 172.3L144.1 161.5L147.6 156.5L152.5 152.0L158.8 148.5L168.2 145.5L172.5 146.2L172.8 145.5L171.5 145.2L170.9 143.5L172.5 142.5L181.5 132.0L185.5 128.9L189.5 126.8L195.5 125.0L201.5 124.9L207.4 126.5L211.5 129.2L214.3 132.5L215.9 136.5L216.1 140.5L214.6 145.5L212.1 149.5L209.3 152.5L199.5 159.8L196.5 162.7L190.9 173.5L187.4 178.5L182.5 183.0L176.2 186.5L166.8 189.5L162.5 188.8L162.2 189.5L163.5 189.8L164.1 191.5L162.5 192.5L155.5 201.0L149.5 205.8L142.5 208.7ZM180.5 210.5L178.5 211.1L175.5 210.6L172.5 208.7L170.5 206.5L167.5 200.9L165.5 194.2L165.5 192.3L172.9 194.5L176.6 196.5L180.1 199.5L182.2 202.5L183.0 205.5L182.5 208.5L180.5 210.5Z"/>
<path fill="#002cff" fill-rule="evenodd" d="M169.5 142.7L162.2 140.5L158.6 138.5L154.9 135.5L152.6 132.5L151.4 129.5L151.3 126.5L152.5 124.2L154.5 123.0L157.5 123.0L160.5 124.4L163.5 127.0L165.5 129.9L167.5 134.2L169.5 140.8L169.5 142.7ZM140.5 208.6L136.5 208.7L132.5 207.9L128.9 206.5L126.0 204.5L123.3 201.5L121.8 198.5L121.1 195.5L121.2 192.5L122.5 188.5L125.4 184.5L136.5 175.2L139.0 172.5L145.0 160.5L147.8 156.5L152.0 152.5L158.9 148.5L168.2 145.5L172.5 146.2L172.8 145.5L171.5 145.2L170.9 143.5L172.5 142.5L181.5 132.1L185.5 129.1L189.5 127.0L194.5 125.6L200.5 125.4L205.5 126.7L210.2 129.5L212.8 132.5L214.6 136.5L214.9 140.5L213.5 145.5L211.0 149.5L208.2 152.5L196.5 161.9L194.5 165.0L190.0 174.5L187.2 178.5L183.0 182.5L176.1 186.5L166.8 189.5L162.5 188.8L162.2 189.5L163.5 189.8L164.1 191.5L162.5 192.5L154.5 201.9L147.5 206.7L140.5 208.6ZM180.5 209.7L178.5 210.4L175.5 210.1L172.5 208.4L170.5 206.3L167.5 200.8L165.5 194.2L165.5 192.3L172.8 194.5L176.4 196.5L179.9 199.5L181.8 202.5L182.5 205.5L182.2 207.5L180.5 209.7Z"/>
<path fill="#001fff" fill-rule="evenodd" d="M169.5 142.7L162.2 140.5L158.7 138.5L155.1 135.5L153.0 132.5L151.9 129.5L152.0 126.5L153.3 124.5L155.5 123.6L158.5 123.8L161.5 125.5L163.5 127.3L165.5 130.1L167.5 134.3L169.5 140.8L169.5 142.7ZM143.5 207.8L139.5 208.3L135.5 208.0L131.5 206.9L128.5 205.3L126.3 203.5L123.9 200.5L122.6 197.5L122.2 193.5L123.1 189.5L125.5 185.5L129.4 181.5L136.9 175.5L139.5 172.6L144.7 161.5L148.0 156.5L152.2 152.5L159.0 148.5L168.2 145.5L172.5 146.3L172.8 145.5L171.5 145.2L170.9 143.5L172.5 142.5L180.5 133.1L184.5 129.9L188.5 127.7L194.5 126.0L199.5 125.9L204.5 127.1L208.7 129.5L211.5 132.5L213.3 136.5L213.7 140.5L212.4 145.5L208.2 151.5L196.2 161.5L194.5 164.1L190.3 173.5L187.0 178.5L182.8 182.5L176.0 186.5L166.8 189.5L162.5 188.7L162.2 189.5L163.5 189.8L164.1 191.5L162.5 192.5L155.5 200.9L150.5 204.9L143.5 207.8ZM179.5 209.5L177.5 210.0L174.5 209.3L170.5 206.1L167.5 200.7L165.5 194.2L165.5 192.3L172.8 194.5L176.3 196.5L179.6 199.5L181.5 202.5L182.0 205.5L181.5 207.6L179.5 209.5Z"/>
<path fill="#0013ff" fill-rule="evenodd" d="M169.5 142.7L162.3 140.5L158.8 138.5L155.4 135.5L153.3 132.5L152.3 129.5L152.4 127.5L153.5 125.4L155.5 124.2L158.5 124.3L161.5 125.8L163.5 127.6L165.5 130.3L167.5 134.4L169.5 140.8L169.5 142.7ZM142.5 207.6L138.5 207.8L134.5 207.2L128.5 204.3L125.8 201.5L124.1 198.5L123.3 195.5L123.3 192.5L124.5 188.5L127.3 184.5L139.5 173.4L145.0 161.5L148.3 156.5L153.7 151.5L159.1 148.5L168.2 145.5L172.5 146.3L172.8 145.5L171.5 145.2L170.9 143.5L172.5 142.5L180.5 133.2L184.5 130.1L188.5 128.0L194.5 126.4L199.5 126.5L204.5 127.9L208.4 130.5L210.9 133.5L212.4 137.5L212.6 141.5L211.4 145.5L207.2 151.5L195.6 161.5L190.0 173.5L186.7 178.5L181.3 183.5L175.9 186.5L166.8 189.5L162.5 188.7L162.2 189.5L163.5 189.8L164.1 191.5L162.5 192.5L155.5 200.8L149.5 205.3L142.5 207.6ZM179.5 208.8L177.5 209.5L174.5 209.0L170.5 205.9L167.5 200.6L165.5 194.2L165.5 192.3L172.7 194.5L176.2 196.5L179.4 199.5L181.1 202.5L181.6 204.5L180.9 207.5L179.5 208.8Z"/>
<path fill="#0006ff" fill-rule="evenodd" d="M169.5 142.7L162.4 140.5L159.0 138.5L155.6 135.5L153.6 132.5L152.8 129.5L153.0 127.5L154.4 125.5L156.5 124.7L158.5 124.8L161.5 126.1L163.5 127.9L165.5 130.5L167.5 134.5L169.5 140.9L169.5 142.7ZM145.5 206.7L141.5 207.4L137.5 207.3L133.5 206.2L130.5 204.7L127.7 202.5L125.6 199.5L124.5 196.5L124.2 193.5L125.0 189.5L127.3 185.5L139.9 173.5L145.2 161.5L148.5 156.5L153.9 151.5L159.2 148.5L168.3 145.5L172.5 146.3L172.8 145.5L171.5 145.2L170.9 143.5L172.5 142.5L180.5 133.3L187.5 128.7L192.5 127.1L197.5 126.8L202.5 127.9L207.1 130.5L209.8 133.5L211.4 137.5L211.6 141.5L210.5 145.5L206.3 151.5L195.5 160.9L193.5 164.3L189.8 173.5L186.5 178.5L181.1 183.5L175.8 186.5L166.7 189.5L162.5 188.7L162.2 189.5L163.5 189.8L164.1 191.5L162.5 192.5L156.5 199.7L151.5 203.9L145.5 206.7ZM178.5 208.7L176.5 209.0L174.5 208.6L170.5 205.6L167.5 200.5L165.5 194.1L165.5 192.3L172.6 194.5L176.0 196.5L179.2 199.5L180.8 202.5L181.2 204.5L180.5 207.0L178.5 208.7Z"/>
<path fill="#0000ff" fill-rule="evenodd" d="M169.5 142.7L162.5 140.5L159.1 138.5L155.8 135.5L153.9 132.5L153.4 130.5L153.3 128.5L154.5 126.2L156.5 125.2L158.5 125.2L160.5 125.9L163.5 128.1L165.5 130.6L167.5 134.6L169.5 140.9L169.5 142.7ZM144.5 206.6L137.5 206.8L133.5 205.6L130.5 203.9L127.9 201.5L126.1 198.5L125.2 195.5L125.2 192.5L126.3 188.5L128.1 185.5L138.5 176.0L140.5 173.5L145.0 162.5L148.7 156.5L154.0 151.5L160.5 148.0L168.3 145.5L172.5 146.3L172.9 145.5L171.5 145.2L170.9 143.5L172.5 142.5L180.5 133.4L187.5 128.9L192.5 127.4L197.5 127.3L202.4 128.5L205.8 130.5L208.7 133.5L210.4 137.5L210.7 141.5L209.6 145.5L205.5 151.5L195.2 160.5L193.5 163.4L190.0 172.5L186.3 178.5L181.0 183.5L174.5 187.0L166.7 189.5L162.5 188.7L162.1 189.5L163.5 189.8L164.1 191.5L162.5 192.5L156.5 199.7L150.5 204.4L144.5 206.6ZM177.5 208.5L173.5 207.8L169.5 204.2L166.5 197.6L165.5 192.3L170.2 193.5L174.4 195.5L179.0 199.5L180.5 202.5L180.6 205.5L179.5 207.5L177.5 208.5Z"/>
<path fill="#ffffe9" fill-rule="evenodd" d="M118.5 165.5L107.5 166.0L95.5 165.7L72.5 163.3L62.5 161.2L53.0 158.5L45.2 155.5L37.4 151.5L31.5 147.5L26.0 142.5L22.0 137.5L19.0 131.5L17.6 125.5L17.7 120.5L18.9 115.5L21.6 109.5L24.6 105.5L29.2 101.5L34.5 98.6L39.5 96.9L45.5 95.7L52.5 95.3L59.5 95.7L67.5 97.1L80.5 101.0L94.5 107.0L107.5 114.0L133.8 129.5L145.7 135.5L156.6 139.5L169.5 142.8L165.0 115.5L162.9 92.5L163.5 73.5L164.7 65.5L166.5 58.5L169.2 51.5L172.5 45.7L176.5 41.0L180.5 38.1L184.5 36.4L188.5 35.9L196.5 37.2L200.5 39.0L203.5 41.7L205.5 44.6L207.5 49.3L208.5 53.8L208.8 64.5L206.4 77.5L200.9 93.5L192.7 110.5L178.2 134.5L173.3 141.5L170.9 143.5L171.5 145.3L172.8 145.5L172.5 146.1L167.9 145.5L152.7 149.5L144.5 153.5L131.5 162.4L125.5 164.5L118.5 165.5ZM150.5 289.7L145.5 290.0L139.5 288.3L136.5 286.9L133.5 284.3L131.1 280.5L129.5 275.5L128.8 269.5L129.1 262.5L132.2 248.5L138.1 233.5L144.1 221.5L151.1 209.5L160.9 194.5L162.5 192.5L164.1 191.5L163.5 189.7L162.2 189.5L162.5 188.9L167.1 189.5L183.5 185.0L190.5 181.5L202.5 173.0L210.5 170.2L218.5 169.2L229.5 168.7L256.5 169.9L270.0 171.5L283.5 174.1L295.7 177.5L306.1 181.5L315.7 186.5L323.0 191.5L329.6 197.5L335.5 205.0L335.5 226.2L329.5 232.8L321.5 237.9L312.5 241.2L301.5 243.1L289.5 243.2L280.5 242.1L271.5 240.1L253.5 234.0L234.5 224.8L193.7 201.5L181.5 196.5L165.5 192.2L169.7 217.5L171.1 230.5L171.5 245.5L170.4 258.5L167.5 270.4L163.5 279.0L160.5 283.1L157.5 286.1L154.5 288.2L150.5 289.7Z"/>
<path fill="#ffffbf" fill-rule="evenodd" d="M123.5 164.6L115.5 165.3L106.5 165.4L86.1 163.5L69.2 159.5L61.4 156.5L55.5 153.5L49.6 149.5L45.2 145.5L42.0 141.5L39.3 136.5L38.0 131.5L37.9 126.5L38.9 122.5L41.5 116.5L43.7 113.5L47.5 110.1L51.5 107.8L56.5 105.9L61.5 104.9L67.5 104.4L80.5 105.7L91.5 108.8L102.5 113.2L145.4 135.5L156.5 139.5L169.5 142.8L165.3 116.5L163.9 100.5L164.3 84.5L166.9 71.5L169.5 64.7L172.5 59.7L175.5 56.3L179.5 53.4L182.5 52.2L186.5 51.8L192.5 52.9L196.5 54.7L198.5 56.5L200.7 59.5L202.4 63.5L203.2 67.5L203.4 76.5L201.4 87.5L196.9 100.5L189.7 115.5L176.2 137.5L172.5 142.5L170.9 143.5L171.5 145.3L172.7 145.5L172.5 146.1L167.9 145.5L152.6 149.5L144.4 153.5L132.5 161.7L128.5 163.4L123.5 164.6ZM153.5 274.8L149.5 275.4L146.5 274.9L141.5 273.2L138.0 270.5L136.1 267.5L134.5 263.1L133.9 258.5L134.0 252.5L136.2 241.5L141.1 228.5L146.0 218.5L153.0 206.5L160.9 194.5L162.5 192.5L164.1 191.5L163.5 189.7L162.3 189.5L162.5 188.9L167.1 189.5L183.5 185.1L190.6 181.5L202.5 173.2L210.5 170.5L217.5 169.6L227.5 169.2L248.5 170.3L261.5 172.2L272.5 174.7L284.0 178.5L292.7 182.5L300.7 187.5L306.7 192.5L311.9 198.5L315.8 205.5L316.5 207.5L316.3 210.5L314.3 216.5L310.0 222.5L304.5 226.9L297.5 230.4L289.5 232.6L280.5 233.6L271.5 233.4L257.5 231.0L242.5 226.2L226.5 218.9L191.9 200.5L178.5 195.5L165.5 192.2L165.5 194.4L168.9 212.5L170.2 223.5L170.6 236.5L169.8 247.5L167.5 257.5L163.9 265.5L159.5 271.1L156.5 273.4L153.5 274.8Z"/>
<path fill="#ffff94" fill-rule="evenodd" d="M121.5 164.5L106.5 164.8L89.5 162.6L75.5 158.6L65.1 153.5L60.9 150.5L56.7 146.5L53.8 142.5L51.6 137.5L50.8 133.5L51.0 129.5L52.9 123.5L54.5 120.5L57.0 117.5L60.5 114.7L68.5 111.3L78.5 110.1L89.5 111.3L99.5 114.0L109.5 117.9L138.6 132.5L147.6 136.5L159.8 140.5L169.5 142.8L165.9 120.5L164.5 104.5L165.0 90.5L167.2 79.5L169.0 74.5L171.5 70.0L174.5 66.3L177.5 63.8L180.5 62.4L184.5 61.8L190.5 62.8L193.5 64.2L195.5 65.9L197.5 68.6L199.8 75.5L200.1 83.5L198.3 93.5L194.2 105.5L187.9 118.5L174.8 139.5L172.5 142.5L170.9 143.5L171.5 145.3L172.7 145.5L172.5 146.0L167.9 145.5L152.6 149.5L145.9 152.5L131.5 162.0L127.5 163.4L121.5 164.5ZM154.5 265.7L151.5 266.2L148.5 265.8L143.5 264.0L140.5 261.4L138.5 257.9L137.5 254.5L137.2 245.5L139.2 235.5L143.4 224.5L147.2 216.5L153.0 206.5L160.9 194.5L162.5 192.5L164.1 191.5L163.5 189.7L162.3 189.5L162.5 189.0L167.1 189.5L178.5 186.7L184.5 184.7L190.8 181.5L201.5 174.0L208.5 171.2L221.5 169.7L238.5 170.2L249.5 171.6L260.5 173.9L269.5 176.6L278.8 180.5L285.7 184.5L292.2 189.5L297.6 195.5L301.1 201.5L301.9 203.5L301.8 205.5L300.1 211.5L296.8 216.5L291.5 221.1L285.5 224.2L278.5 226.3L270.5 227.4L262.5 227.4L250.5 225.7L237.5 222.0L223.5 216.1L189.9 199.5L178.6 195.5L165.5 192.2L169.7 220.5L170.0 231.5L169.2 241.5L167.1 250.5L163.9 257.5L159.5 262.8L154.5 265.7Z"/>
<path fill="#ffff6a" fill-rule="evenodd" d="M125.5 163.6L119.5 164.4L112.5 164.5L97.5 162.9L84.3 159.5L73.7 154.5L66.2 148.5L63.1 144.5L61.2 140.5L60.2 136.5L60.3 132.5L63.1 124.5L65.4 121.5L68.5 118.8L75.5 115.6L84.5 114.3L94.5 115.0L103.5 117.2L112.5 120.4L148.5 136.9L159.8 140.5L169.5 142.8L166.1 121.5L165.0 108.5L165.3 95.5L167.5 84.8L171.5 76.2L174.5 72.6L177.5 70.4L180.5 69.2L183.5 68.9L188.5 69.8L191.5 71.0L193.5 72.7L195.5 75.5L197.4 81.5L197.7 88.5L196.2 97.5L192.4 108.5L186.6 120.5L174.8 139.5L172.5 142.5L170.9 143.5L171.5 145.3L172.7 145.5L172.5 146.0L167.9 145.5L151.5 149.9L144.1 153.5L132.5 161.2L125.5 163.6ZM153.5 259.6L150.5 259.4L145.5 257.7L142.0 254.5L140.5 251.5L139.5 247.5L139.6 239.5L142.3 228.5L147.9 215.5L158.8 197.5L162.5 192.5L164.1 191.5L163.5 189.7L162.3 189.5L162.5 189.0L167.1 189.5L184.5 184.8L190.9 181.5L201.5 174.2L208.5 171.4L218.5 170.1L232.5 170.4L242.3 171.5L252.5 173.5L261.5 176.2L269.5 179.5L276.6 183.5L283.0 188.5L287.4 193.5L290.9 199.5L291.4 201.5L291.0 204.5L289.1 209.5L286.2 213.5L281.5 217.3L275.5 220.3L269.5 222.1L262.5 223.1L254.5 223.1L243.5 221.5L231.5 218.1L218.5 212.8L190.2 199.5L178.7 195.5L165.5 192.2L169.4 219.5L169.5 230.4L168.6 238.5L166.5 246.4L162.7 253.5L158.5 257.6L153.5 259.6Z"/>
<path fill="#ffff3f" fill-rule="evenodd" d="M123.5 163.6L111.5 163.9L98.5 162.1L86.8 158.5L77.7 153.5L71.4 147.5L69.4 144.5L67.8 140.5L67.3 136.5L67.7 133.5L69.3 128.5L71.1 125.5L75.5 121.5L82.5 118.4L90.5 117.4L100.5 118.2L108.5 120.1L116.5 122.9L139.9 133.5L149.9 137.5L163.4 141.5L169.5 142.8L166.3 122.5L165.3 111.5L165.6 99.5L167.5 89.7L169.5 84.5L171.5 81.0L176.5 76.0L179.5 74.6L182.5 74.2L187.5 75.1L190.5 76.6L193.8 80.5L195.7 86.5L195.8 93.5L194.3 101.5L190.4 112.5L184.9 123.5L174.1 140.5L172.5 142.5L170.9 143.5L171.5 145.3L172.7 145.5L172.5 146.0L167.9 145.5L152.4 149.5L144.5 153.2L132.5 161.0L128.5 162.6L123.5 163.6ZM154.5 254.6L151.5 254.5L147.5 253.2L145.5 252.0L143.5 249.8L141.4 244.5L141.2 236.5L143.6 226.5L148.1 215.5L158.8 197.5L162.5 192.5L164.1 191.5L163.5 189.7L162.3 189.5L162.5 189.0L167.1 189.5L184.5 184.8L191.1 181.5L201.5 174.4L207.5 172.0L216.5 170.6L228.5 170.6L237.5 171.6L247.3 173.5L256.5 176.3L263.9 179.5L270.6 183.5L275.6 187.5L280.0 192.5L282.9 197.5L283.1 201.5L281.4 206.5L278.6 210.5L274.5 214.0L269.5 216.7L263.5 218.6L256.5 219.7L249.5 219.8L239.5 218.5L228.5 215.7L216.5 211.1L187.9 198.5L175.3 194.5L165.5 192.2L169.1 217.5L169.3 225.5L168.4 234.5L166.5 242.1L163.5 248.1L159.5 252.4L154.5 254.6Z"/>
<path fill="#ffff15" fill-rule="evenodd" d="M120.5 163.6L109.5 163.1L98.5 161.0L88.9 157.5L81.0 152.5L75.7 146.5L73.4 140.5L73.6 134.5L74.9 130.5L76.7 127.5L81.2 123.5L87.5 120.9L95.5 119.8L104.5 120.6L111.5 122.2L119.5 124.9L149.8 137.5L163.4 141.5L169.5 142.8L166.4 122.5L165.6 112.5L166.0 101.5L167.8 92.5L171.5 84.8L173.5 82.3L176.5 80.0L179.5 78.7L182.5 78.6L186.5 79.4L189.5 80.8L192.5 84.5L194.1 89.5L194.4 95.5L193.1 103.5L189.7 113.5L184.8 123.5L174.1 140.5L172.5 142.5L170.9 143.5L171.5 145.3L172.7 145.5L172.5 146.0L167.9 145.5L152.3 149.5L144.5 153.1L131.5 161.2L126.5 162.8L120.5 163.6ZM155.5 250.6L152.5 250.6L148.5 249.3L145.0 246.5L143.5 243.7L142.7 240.5L142.6 233.5L144.7 224.5L149.2 213.5L160.2 195.5L162.5 192.5L164.1 191.5L163.5 189.7L162.3 189.5L162.5 189.0L167.1 189.5L184.5 184.8L191.2 181.5L201.5 174.6L207.5 172.2L216.5 170.9L227.5 171.0L236.5 172.1L244.5 173.9L252.7 176.5L258.5 179.1L264.4 182.5L269.4 186.5L273.1 190.5L276.2 195.5L276.7 198.5L275.5 203.5L273.0 207.5L268.6 211.5L263.5 214.2L258.5 215.9L252.5 216.9L245.5 217.1L235.5 216.0L224.5 213.2L213.5 209.2L188.2 198.5L175.3 194.5L165.5 192.2L168.9 216.5L169.1 223.5L168.3 231.5L166.5 238.6L163.5 244.6L159.5 248.8L155.5 250.6Z"/>
<path fill="#fff800" fill-rule="evenodd" d="M126.5 162.5L116.5 163.2L105.5 161.8L95.5 158.8L87.5 154.5L83.8 151.5L81.2 148.5L78.4 142.5L78.3 136.5L79.4 132.5L81.1 129.5L85.5 125.5L91.5 122.9L98.5 121.9L106.5 122.4L120.5 125.9L150.5 137.8L169.5 142.8L166.9 126.5L165.8 114.5L166.1 104.5L167.9 95.5L171.5 87.9L173.5 85.5L176.5 83.2L179.5 82.2L181.5 82.1L186.5 83.1L188.5 84.2L191.5 88.0L192.9 92.5L193.1 98.5L192.0 105.5L189.0 114.5L184.1 124.5L174.1 140.5L172.5 142.5L170.9 143.5L171.5 145.3L172.7 145.5L172.5 146.0L167.9 145.5L152.2 149.5L144.5 153.0L133.5 160.0L126.5 162.5ZM157.5 246.9L154.5 247.5L152.5 247.2L148.5 245.7L146.5 244.1L144.2 239.5L143.6 232.5L145.7 222.5L149.4 213.5L158.8 197.5L162.5 192.5L164.1 191.5L163.5 189.7L162.3 189.5L162.5 189.0L167.1 189.5L184.5 184.9L190.5 182.0L201.5 174.9L207.5 172.5L215.5 171.3L225.5 171.3L240.5 173.8L248.5 176.3L254.5 179.0L259.5 181.9L264.1 185.5L267.8 189.5L270.9 194.5L271.2 198.5L269.9 202.5L267.1 206.5L263.6 209.5L258.5 212.2L253.5 213.8L247.5 214.8L241.5 214.9L232.5 214.0L222.5 211.6L212.5 208.2L187.5 198.2L175.3 194.5L165.5 192.2L168.6 213.5L168.9 220.5L168.5 226.5L166.9 234.5L164.5 240.2L161.5 244.2L157.5 246.9Z"/>
<path fill="#ffeb00" fill-rule="evenodd" d="M128.5 160.7L121.5 161.4L113.8 160.5L106.5 158.2L100.1 154.5L96.1 150.5L93.7 145.5L93.8 139.5L96.0 134.5L99.5 131.4L104.5 129.2L110.5 128.2L117.5 128.5L126.5 130.4L151.9 138.5L169.5 142.8L167.2 127.5L166.5 118.5L166.9 110.5L168.5 103.5L171.5 97.5L175.5 93.8L179.5 92.8L183.5 93.6L185.5 94.7L187.8 97.5L189.3 102.5L189.3 107.5L188.2 113.5L185.7 120.5L181.1 129.5L174.1 140.5L172.5 142.5L170.9 143.5L171.5 145.3L172.7 145.5L172.5 146.0L167.9 145.5L151.7 149.5L144.6 152.5L133.5 159.0L128.5 160.7ZM156.5 237.5L151.5 236.2L148.7 233.5L147.2 228.5L147.3 222.5L149.1 215.5L152.8 207.5L160.9 194.5L162.5 192.5L164.1 191.5L163.5 189.7L162.3 189.5L162.5 189.0L167.1 189.5L181.5 186.1L189.5 182.9L200.5 176.4L204.5 174.5L210.5 173.1L217.5 172.8L227.5 173.7L239.1 177.5L244.5 180.5L248.4 183.5L251.3 186.5L254.0 190.5L254.2 193.5L253.0 197.5L251.0 200.5L248.5 202.8L244.5 205.2L240.5 206.7L230.5 208.1L222.5 207.6L214.5 206.2L186.7 197.5L165.5 192.2L168.1 211.5L168.2 217.5L167.5 223.5L165.5 229.5L163.5 233.0L160.5 236.1L156.5 237.5Z"/>
<path fill="#ffdf00" fill-rule="evenodd" d="M126.5 159.6L121.5 159.5L115.5 158.1L110.1 155.5L106.5 152.5L104.4 149.5L103.3 145.5L103.8 140.5L106.3 136.5L109.5 134.2L113.5 132.7L118.5 131.9L123.5 132.1L132.5 133.6L169.5 142.8L167.0 122.5L167.2 115.5L168.5 109.1L171.5 103.2L175.5 99.8L179.5 99.3L182.5 100.2L184.5 101.6L186.3 104.5L187.0 107.5L187.1 112.5L186.1 117.5L184.0 123.5L179.8 131.5L174.1 140.5L172.5 142.5L170.9 143.5L171.5 145.3L172.7 145.5L172.5 146.0L167.8 145.5L152.5 149.1L145.9 151.5L133.5 157.9L126.5 159.6ZM157.5 231.6L153.5 230.6L150.9 228.5L149.1 223.5L149.0 219.5L150.4 213.5L154.1 205.5L160.9 194.5L162.5 192.5L164.1 191.5L163.5 189.7L162.3 189.5L162.5 189.0L167.2 189.5L182.5 185.9L190.5 182.8L203.5 176.0L208.5 174.7L213.5 174.3L224.5 175.4L230.9 177.5L237.5 181.5L240.8 184.5L243.1 187.5L243.5 190.5L242.8 193.5L241.2 196.5L239.3 198.5L236.4 200.5L232.5 202.3L223.5 203.9L215.5 203.7L208.5 202.5L165.5 192.2L167.8 209.5L167.3 219.5L165.7 224.5L163.5 227.8L160.5 230.6L157.5 231.6Z"/>
<path fill="#ffd200" fill-rule="evenodd" d="M130.5 157.5L125.5 157.8L121.5 157.2L117.2 155.5L113.3 152.5L110.9 148.5L110.4 144.5L111.1 141.5L113.3 138.5L116.2 136.5L119.5 135.3L124.5 134.6L129.5 134.7L139.5 136.3L169.5 142.8L167.3 123.5L167.5 117.5L169.0 111.5L171.5 107.1L173.5 105.1L175.5 104.0L177.5 103.6L180.5 104.2L183.5 106.1L184.8 108.5L185.7 112.5L184.9 119.5L182.8 125.5L179.2 132.5L174.1 140.5L172.5 142.5L170.9 143.5L171.5 145.3L172.7 145.5L172.5 146.0L167.8 145.5L152.5 148.9L145.0 151.5L134.5 156.4L130.5 157.5ZM158.5 227.6L155.5 227.1L151.9 224.5L150.5 221.5L150.2 217.5L151.6 211.5L154.7 204.5L160.9 194.5L162.5 192.5L164.1 191.5L163.5 189.7L162.3 189.5L162.5 189.0L167.2 189.5L182.5 186.1L190.0 183.5L202.5 177.5L210.5 175.9L218.5 176.4L226.5 178.4L231.2 181.5L235.1 185.5L235.6 187.5L235.4 190.5L234.1 193.5L232.4 195.5L229.9 197.5L226.5 199.2L218.5 200.9L210.5 200.7L201.5 199.6L165.5 192.2L167.5 208.5L167.0 217.5L165.5 221.9L163.5 224.8L161.5 226.4L158.5 227.6Z"/>
<path fill="#ffc500" fill-rule="evenodd" d="M132.5 155.7L128.5 156.1L125.5 155.7L122.0 154.5L119.1 152.5L117.5 150.5L116.1 146.5L116.4 143.5L118.4 140.5L121.2 138.5L124.5 137.3L133.5 136.6L147.5 138.4L169.5 142.8L167.5 124.5L167.9 118.5L169.3 113.5L171.5 109.8L175.5 107.1L178.5 107.1L180.5 107.7L182.5 109.2L183.9 111.5L184.6 114.5L183.9 121.5L181.7 127.5L177.9 134.5L173.3 141.5L170.9 143.5L171.5 145.3L172.7 145.5L172.5 146.0L167.8 145.5L152.5 148.8L132.5 155.7ZM160.5 224.6L157.5 225.0L153.5 223.2L151.7 220.5L151.1 216.5L152.0 211.5L154.9 204.5L160.9 194.5L162.5 192.5L164.1 191.5L163.5 189.7L162.3 189.5L162.5 189.0L167.2 189.5L183.5 186.0L190.5 183.7L202.5 178.7L208.5 177.4L214.5 177.7L221.6 179.5L226.1 181.5L228.9 184.5L229.4 186.5L229.2 189.5L226.7 193.5L221.5 196.9L215.5 198.2L206.5 198.5L196.5 197.8L181.5 195.5L165.5 192.2L167.3 206.5L167.0 214.5L165.9 218.5L164.5 221.3L162.5 223.5L160.5 224.6Z"/>
<path fill="#ffb800" fill-rule="evenodd" d="M135.5 153.7L131.5 154.3L128.5 154.0L125.5 152.9L123.5 151.5L121.9 149.5L121.1 147.5L121.3 144.5L122.4 142.5L124.7 140.5L127.5 139.2L131.5 138.3L136.5 138.0L151.5 139.3L169.5 142.8L167.7 125.5L168.0 120.5L169.4 115.5L171.5 111.9L174.5 109.7L177.5 109.4L181.5 111.1L182.6 112.5L183.7 115.5L183.8 118.5L183.2 122.5L181.0 128.5L177.9 134.5L173.3 141.5L170.9 143.5L171.5 145.3L172.5 145.3L172.5 146.0L168.5 145.4L154.5 148.2L135.5 153.7ZM160.5 222.8L157.5 223.0L154.3 221.5L152.3 218.5L151.9 214.5L152.9 209.5L156.0 202.5L160.9 194.5L162.5 192.5L164.1 191.5L163.5 189.7L162.5 189.7L162.5 189.0L166.5 189.6L183.5 186.2L201.5 180.2L207.5 179.1L212.5 179.3L217.1 180.5L221.2 182.5L223.3 184.5L224.1 187.5L223.6 189.5L222.2 191.5L217.1 194.5L209.5 196.3L200.5 196.9L189.5 196.3L179.5 195.0L165.5 192.2L167.1 205.5L166.8 213.5L164.5 219.5L162.5 221.7L160.5 222.8Z"/>
<path fill="#ffac00" fill-rule="evenodd" d="M134.5 152.5L131.5 152.4L128.8 151.5L126.4 149.5L125.5 147.5L125.9 144.5L127.5 142.5L132.5 140.0L138.5 139.1L147.5 139.2L156.5 140.3L169.5 142.8L167.8 126.5L168.2 121.5L169.5 116.9L171.5 113.6L174.5 111.5L177.5 111.3L179.5 111.9L181.5 113.5L182.6 115.5L183.1 118.5L182.3 124.5L180.0 130.5L176.1 137.5L172.5 142.5L170.9 143.5L171.5 145.3L172.5 145.3L172.5 146.0L167.8 145.5L134.5 152.5ZM158.5 221.5L155.5 220.5L153.5 218.5L152.6 215.5L152.6 212.5L153.8 207.5L157.2 200.5L161.7 193.5L164.1 191.5L163.5 189.7L162.5 189.7L162.5 189.0L167.2 189.5L185.5 185.9L204.5 181.2L211.5 181.8L214.9 183.5L216.6 185.5L216.7 188.5L214.1 191.5L209.5 193.7L202.5 195.2L194.5 195.8L185.5 195.5L165.5 192.2L167.0 205.5L166.5 213.1L165.5 216.2L163.5 219.3L161.5 220.9L158.5 221.5Z"/>
<path fill="#ff9f00" fill-rule="evenodd" d="M140.5 150.5L135.5 150.9L131.5 149.7L129.8 147.5L130.2 144.5L132.2 142.5L134.5 141.3L138.5 140.2L143.5 139.7L155.5 140.3L169.5 142.8L168.0 127.5L168.4 122.5L169.5 118.4L171.5 115.1L174.5 113.0L177.5 112.9L180.6 114.5L182.4 118.5L182.0 124.5L180.3 129.5L177.2 135.5L173.3 141.5L170.9 143.5L171.5 145.3L172.5 145.3L172.5 146.0L167.8 145.5L140.5 150.5ZM161.5 219.6L158.5 220.1L155.5 218.9L153.5 216.1L153.0 212.5L154.0 207.5L156.7 201.5L160.9 194.5L162.5 192.5L164.1 191.5L163.5 189.7L162.5 189.7L162.5 189.0L167.2 189.5L201.5 183.3L206.5 183.7L209.6 185.5L210.3 187.5L208.4 190.5L204.5 192.7L197.2 194.5L189.5 195.2L182.5 195.0L165.5 192.2L166.9 203.5L166.7 210.5L164.7 216.5L161.5 219.6Z"/>
<path fill="#ff9200" fill-rule="evenodd" d="M140.5 149.5L135.5 148.7L133.7 146.5L134.2 144.5L135.1 143.5L140.5 141.0L145.5 140.2L152.5 140.2L169.5 142.8L168.1 128.5L168.5 123.5L169.5 119.7L171.5 116.3L174.5 114.3L177.5 114.3L180.5 116.1L181.5 117.9L182.0 120.5L181.5 125.5L179.8 130.5L176.0 137.5L172.5 142.5L170.9 143.5L171.5 145.3L172.5 145.3L172.5 146.0L168.5 145.4L156.5 147.6L140.5 149.5ZM160.5 218.8L158.5 219.0L155.5 217.5L153.8 214.5L153.5 211.5L154.5 206.5L157.3 200.5L161.7 193.5L164.1 191.5L163.5 189.7L162.5 189.7L162.5 189.0L166.5 189.6L178.5 187.4L195.5 185.3L200.5 185.4L203.2 186.5L203.9 188.5L202.4 190.5L200.9 191.5L196.5 193.3L191.5 194.3L180.5 194.7L165.5 192.2L166.8 203.5L166.5 210.2L164.5 215.7L162.5 217.9L160.5 218.8Z"/>
<path fill="#ff8500" fill-rule="evenodd" d="M155.5 147.6L141.5 148.4L138.5 147.5L137.5 145.5L138.7 143.5L140.2 142.5L143.5 141.3L148.5 140.5L156.5 140.6L169.5 142.8L168.2 129.5L168.5 124.6L169.5 120.8L171.5 117.4L173.5 115.8L176.5 115.3L179.5 116.6L180.9 118.5L181.5 120.5L181.0 126.5L179.2 131.5L176.0 137.5L172.5 142.5L170.9 143.5L171.5 145.3L172.5 145.3L172.5 145.9L168.5 145.4L155.5 147.6ZM160.5 217.9L158.5 217.9L155.5 216.2L154.1 213.5L153.9 210.5L155.0 205.5L157.3 200.5L161.7 193.5L164.1 191.5L163.5 189.7L162.5 189.7L162.5 189.1L166.5 189.6L178.5 187.5L190.5 186.5L195.5 186.8L197.5 187.5L198.4 188.5L197.6 190.5L194.4 192.5L186.5 194.4L178.5 194.4L165.5 192.2L166.7 203.5L166.4 209.5L164.5 214.8L162.5 216.9L160.5 217.9Z"/>
<path fill="#ff7900" fill-rule="evenodd" d="M154.5 147.6L143.5 147.5L141.3 146.5L140.7 145.5L140.9 144.5L141.7 143.5L144.5 142.0L151.5 140.7L158.5 140.9L169.5 142.8L168.3 129.5L169.5 121.8L171.5 118.3L173.5 116.8L176.5 116.3L179.1 117.5L180.5 119.3L181.1 121.5L180.8 126.5L179.1 131.5L176.0 137.5L172.5 142.5L170.9 143.5L171.5 145.3L172.5 145.3L172.5 145.9L168.5 145.4L154.5 147.6ZM161.5 216.6L158.5 217.0L156.5 216.0L154.7 213.5L154.2 210.5L155.2 205.5L157.3 200.5L161.7 193.5L164.1 191.5L163.5 189.7L162.5 189.7L162.5 189.1L166.5 189.6L177.5 187.8L185.5 187.1L191.5 187.5L193.9 188.5L194.4 189.5L193.0 191.5L189.5 193.2L185.5 194.1L177.5 194.2L165.5 192.2L166.6 202.5L166.4 208.5L164.5 213.9L161.5 216.6Z"/>
<path fill="#ff6c00" fill-rule="evenodd" d="M153.5 147.5L148.9 147.5L145.5 146.9L143.4 145.5L143.4 144.5L144.1 143.5L146.5 142.1L152.5 140.9L159.5 141.1L169.5 142.8L168.3 130.5L169.5 122.7L171.5 119.2L173.5 117.7L175.5 117.2L178.5 118.1L179.8 119.5L180.6 121.5L180.6 126.5L179.1 131.5L176.0 137.5L172.5 142.5L170.9 143.5L171.5 145.3L172.5 145.3L172.5 145.9L168.5 145.4L153.5 147.5ZM161.5 215.9L158.5 216.1L156.5 215.0L154.9 212.5L154.5 209.5L155.3 205.5L157.9 199.5L161.7 193.5L164.1 191.5L163.5 189.7L162.5 189.7L162.5 189.1L166.5 189.6L176.5 187.9L184.5 187.4L189.5 188.1L191.5 189.5L190.6 191.5L189.0 192.5L182.5 194.1L175.5 193.9L165.5 192.2L166.6 202.5L166.2 208.5L164.5 213.2L161.5 215.9Z"/>
<path fill="#ff5f00" fill-rule="evenodd" d="M161.5 146.6L154.5 147.3L149.5 147.1L147.0 146.5L145.6 145.5L145.4 144.5L147.4 142.5L153.5 141.1L159.5 141.2L169.5 142.8L168.4 130.5L169.5 123.5L171.5 120.0L173.5 118.5L175.5 118.0L178.5 119.1L180.4 122.5L180.2 127.5L179.0 131.5L176.0 137.5L172.5 142.5L170.9 143.5L171.5 145.3L172.5 145.3L172.5 145.9L168.5 145.4L161.5 146.6ZM162.5 214.6L159.5 215.5L157.5 214.8L155.5 212.7L154.8 209.5L155.7 204.5L157.9 199.5L161.7 193.5L164.1 191.5L163.5 189.7L162.5 189.7L162.5 189.1L166.5 189.6L174.5 188.2L182.5 187.7L187.5 188.4L189.3 189.5L189.4 190.5L188.8 191.5L187.3 192.5L182.5 193.8L175.5 193.8L165.5 192.2L166.5 201.5L166.4 206.5L165.0 211.5L162.5 214.6Z"/>
<path fill="#ff5200" fill-rule="evenodd" d="M161.5 146.6L155.5 147.1L150.5 146.8L147.5 145.6L147.1 144.5L148.9 142.5L154.5 141.2L160.5 141.3L169.5 142.8L168.5 131.5L169.5 124.2L170.5 122.0L172.5 119.7L174.5 118.8L177.5 119.3L178.9 120.5L179.9 122.5L180.1 127.5L178.9 131.5L175.9 137.5L172.5 142.5L170.9 143.5L171.5 145.4L172.5 145.3L172.5 145.9L168.5 145.4L161.5 146.6ZM161.5 214.5L158.5 214.6L156.5 213.3L155.5 211.5L155.1 208.5L155.8 204.5L158.0 199.5L161.7 193.5L164.1 191.5L163.5 189.6L162.5 189.7L162.5 189.1L166.5 189.6L174.5 188.3L181.5 187.9L186.0 188.5L187.6 189.5L187.9 190.5L185.9 192.5L181.5 193.7L175.5 193.8L165.5 192.2L166.4 201.5L166.1 207.5L164.5 211.9L161.5 214.5Z"/>
<path fill="#ff4600" fill-rule="evenodd" d="M161.5 146.6L155.5 147.0L151.5 146.7L148.8 145.5L148.4 144.5L150.2 142.5L155.5 141.3L160.5 141.4L169.5 142.8L168.5 131.5L169.5 124.9L170.5 122.7L172.5 120.4L174.5 119.5L177.5 120.1L179.0 121.5L179.8 123.5L179.7 128.5L178.4 132.5L175.9 137.5L172.5 142.5L170.9 143.5L171.5 145.4L172.5 145.3L172.5 145.9L168.5 145.4L161.5 146.6ZM161.5 213.9L158.5 213.9L156.5 212.5L155.6 210.5L155.4 207.5L156.3 203.5L159.1 197.5L162.5 192.5L164.1 191.5L163.5 189.6L162.5 189.7L162.5 189.1L166.5 189.6L179.5 188.0L184.3 188.5L186.2 189.5L186.6 190.5L185.5 192.0L180.5 193.6L174.5 193.6L165.5 192.2L166.4 201.5L166.2 206.5L164.5 211.3L161.5 213.9Z"/>
<path fill="#ff3900" fill-rule="evenodd" d="M161.5 146.6L152.5 146.6L149.9 145.5L149.5 144.5L149.9 143.5L151.3 142.5L155.5 141.4L160.5 141.4L169.5 142.8L168.6 132.5L169.5 125.5L170.5 123.2L172.5 121.0L174.5 120.1L177.5 120.8L179.5 123.7L179.6 128.5L178.4 132.5L175.9 137.5L172.5 142.5L170.9 143.5L171.5 145.4L172.5 145.3L172.5 145.9L168.5 145.4L161.5 146.6ZM160.5 213.6L158.5 213.3L156.5 211.7L155.5 207.5L156.3 203.5L159.1 197.5L162.5 192.5L164.1 191.5L163.5 189.6L162.5 189.7L162.5 189.1L166.5 189.6L173.5 188.4L179.5 188.1L182.9 188.5L185.1 189.5L185.5 190.5L185.1 191.5L183.7 192.5L180.3 193.5L174.5 193.6L165.5 192.2L166.4 201.5L165.8 207.5L163.5 212.1L160.5 213.6Z"/>
<path fill="#ff2c00" fill-rule="evenodd" d="M161.5 146.5L153.4 146.5L150.9 145.5L150.4 144.5L150.8 143.5L152.2 142.5L156.0 141.5L160.5 141.5L169.5 142.8L168.6 132.5L169.5 126.0L170.5 123.8L172.5 121.5L174.5 120.7L177.5 121.5L179.4 124.5L179.2 129.5L175.9 137.5L172.5 142.5L170.9 143.5L171.5 145.4L172.5 145.3L172.5 145.9L168.5 145.4L161.5 146.5ZM161.5 212.9L159.5 213.1L157.5 212.1L156.3 210.5L155.7 207.5L156.4 203.5L158.1 199.5L161.7 193.5L164.1 191.5L163.5 189.6L162.5 189.7L162.5 189.1L166.5 189.6L178.5 188.2L181.6 188.5L184.1 189.5L184.6 190.5L184.2 191.5L182.8 192.5L179.5 193.4L174.5 193.5L165.5 192.2L166.3 201.5L165.9 206.5L164.5 210.3L161.5 212.9Z"/>
<path fill="#ff1f00" fill-rule="evenodd" d="M161.5 146.5L154.5 146.5L151.8 145.5L151.2 144.5L151.6 143.5L152.9 142.5L156.5 141.6L161.5 141.6L169.5 142.8L168.7 132.5L169.5 126.5L170.5 124.3L172.5 122.0L174.5 121.3L177.5 122.1L178.6 123.5L179.3 125.5L179.1 129.5L175.9 137.5L172.5 142.5L170.9 143.5L171.5 145.4L172.5 145.4L172.5 145.9L168.5 145.4L161.5 146.5ZM160.5 212.6L158.5 212.2L156.7 210.5L155.9 206.5L156.8 202.5L159.1 197.5L162.5 192.5L164.1 191.5L163.5 189.6L162.5 189.6L162.5 189.1L166.5 189.6L177.5 188.3L180.5 188.5L183.2 189.5L183.8 190.5L183.4 191.5L182.1 192.5L178.5 193.4L173.5 193.4L165.5 192.2L166.3 201.5L165.8 206.5L163.5 211.1L160.5 212.6Z"/>
<path fill="#ff1300" fill-rule="evenodd" d="M160.5 146.6L154.5 146.2L152.6 145.5L151.9 144.5L152.3 143.5L153.7 142.5L157.5 141.6L169.5 142.8L168.7 132.5L169.7 126.5L171.5 123.4L173.5 122.0L175.5 121.8L177.5 122.8L179.0 125.5L178.8 130.5L175.3 138.5L172.5 142.5L170.9 143.5L171.5 145.4L172.5 145.4L172.5 145.9L168.5 145.4L160.5 146.6ZM162.5 211.5L159.5 212.1L157.5 210.9L156.5 209.3L156.1 206.5L156.9 202.5L159.1 197.5L162.5 192.5L164.1 191.5L163.5 189.6L162.5 189.6L162.5 189.1L166.5 189.6L177.5 188.4L182.4 189.5L183.1 190.5L182.7 191.5L181.3 192.5L178.5 193.3L173.5 193.3L165.5 192.2L166.1 204.5L165.0 208.5L162.5 211.5Z"/>
<path fill="#ff0600" fill-rule="evenodd" d="M160.5 146.5L154.5 146.0L153.3 145.5L152.6 144.5L152.9 143.5L154.5 142.4L158.5 141.7L169.5 142.8L168.8 132.5L169.9 126.5L171.5 123.8L173.5 122.4L175.5 122.3L177.5 123.3L178.9 126.5L178.7 130.5L175.3 138.5L172.5 142.5L170.8 143.5L171.5 145.4L172.5 145.4L172.5 145.8L168.5 145.4L160.5 146.5ZM161.5 211.6L159.5 211.6L157.5 210.4L156.5 208.5L156.3 206.5L157.0 202.5L159.2 197.5L162.5 192.5L164.2 191.5L163.5 189.6L162.5 189.6L162.5 189.2L166.5 189.6L176.5 188.4L181.7 189.5L182.4 190.5L182.1 191.5L178.5 193.1L173.5 193.3L165.5 192.2L166.2 200.5L165.8 205.5L164.5 209.0L161.5 211.6Z"/>
<path fill="#ff0000" fill-rule="evenodd" d="M159.5 146.5L153.9 145.5L153.1 144.5L153.5 143.5L155.5 142.3L159.5 141.7L169.5 142.8L168.8 133.5L169.7 127.5L170.5 125.6L172.5 123.4L174.5 122.7L177.0 123.5L178.7 126.5L178.6 130.5L175.2 138.5L172.5 142.5L170.8 143.5L171.5 145.4L172.5 145.4L172.5 145.8L168.5 145.4L159.5 146.5ZM162.5 210.8L160.5 211.4L158.5 210.8L157.3 209.5L156.4 206.5L157.0 202.5L159.2 197.5L162.5 192.5L164.2 191.5L163.5 189.6L162.5 189.6L162.5 189.2L166.5 189.6L176.5 188.5L181.1 189.5L181.9 190.5L181.5 191.5L180.1 192.5L177.5 193.1L173.5 193.2L165.5 192.2L166.2 200.5L165.9 204.5L164.5 208.7L162.5 210.8Z"/></g>
<g clip-path="url(#cpb)"><path fill="#e9ffff" fill-rule="evenodd" d="M653.5 184.5L632.5 185.4L609.5 184.1L581.5 180.1L558.5 174.9L550.5 171.9L546.5 169.4L533.4 155.5L522.1 146.5L518.6 144.5L519.1 143.5L517.5 142.5L516.1 140.5L509.2 126.5L500.2 104.5L494.1 84.5L490.5 66.5L489.2 49.5L490.5 35.0L492.1 28.5L494.5 22.4L497.5 17.4L500.5 14.0L505.5 10.7L511.5 9.3L515.5 9.9L520.5 13.4L525.5 19.2L529.5 26.3L532.9 35.5L535.1 45.5L536.1 54.5L536.3 64.5L535.7 75.5L534.4 86.5L530.2 107.5L525.9 123.5L520.5 140.0L519.9 142.5L520.5 143.1L527.5 141.5L542.2 136.5L594.5 113.7L609.5 108.2L623.5 104.1L639.5 100.9L655.5 99.5L670.5 100.1L683.5 102.3L683.5 177.6L669.5 181.9L653.5 184.5ZM517.5 149.3L516.5 149.2L515.0 146.5L516.5 144.6L518.5 144.7L519.3 145.5L517.9 146.5L517.5 149.3ZM525.5 325.7L520.5 326.3L514.5 324.8L509.5 322.1L505.5 318.3L501.5 312.6L498.5 306.1L495.9 297.5L494.4 288.5L493.7 279.5L493.8 270.5L496.1 249.5L500.2 229.5L505.1 211.5L510.5 195.0L511.1 192.5L510.5 191.9L500.4 194.5L486.3 199.5L436.5 222.1L422.5 227.6L409.5 231.8L394.5 235.3L380.5 237.1L367.5 237.3L355.5 235.8L348.5 234.1L348.5 160.7L358.5 156.8L368.5 154.1L380.5 152.0L392.5 150.9L405.5 150.7L419.5 151.3L434.5 152.9L450.5 155.3L470.5 159.6L478.5 162.2L482.5 164.3L486.5 167.4L494.5 176.5L498.7 180.5L508.9 188.5L511.5 189.6L512.4 190.5L511.9 191.5L513.5 192.5L514.9 194.5L520.8 206.5L527.0 220.5L531.5 232.5L538.4 255.5L540.7 266.5L542.1 276.5L542.6 285.5L542.4 294.5L541.3 302.5L539.5 309.4L536.8 315.5L533.5 320.3L529.5 323.8L525.5 325.7ZM514.5 190.4L512.5 190.3L511.7 189.5L513.1 188.5L513.5 185.7L514.5 185.8L516.0 188.5L514.5 190.4Z"/>
<path fill="#bfffff" fill-rule="evenodd" d="M632.5 181.6L614.5 182.4L595.5 181.2L574.5 178.3L556.5 174.0L550.5 171.6L546.5 169.1L533.5 155.5L522.1 146.5L518.6 144.5L519.1 143.5L516.7 141.5L511.1 130.5L502.7 110.5L497.5 93.5L494.5 78.5L493.5 64.5L494.7 52.5L497.9 42.5L500.5 38.2L503.5 34.9L507.5 32.4L512.5 31.4L515.5 31.8L520.5 35.4L524.5 40.2L528.0 46.5L530.5 53.5L532.4 62.5L533.4 78.5L532.0 95.5L527.6 116.5L519.9 142.5L520.5 143.1L527.5 141.5L542.5 136.5L578.5 121.9L592.5 116.8L608.5 112.3L622.5 109.8L631.5 109.0L640.5 109.0L648.5 109.6L656.5 111.0L663.5 113.0L670.5 115.8L677.0 119.5L682.0 123.5L683.5 125.4L683.5 157.1L681.0 160.5L677.1 164.5L672.1 168.5L661.2 174.5L647.5 179.0L632.5 181.6ZM517.5 149.3L516.5 149.2L515.0 146.5L516.5 144.6L518.5 144.7L519.3 145.5L517.9 146.5L517.5 149.3ZM523.5 303.6L519.5 304.1L514.5 302.9L510.5 300.8L506.5 297.1L503.4 292.5L500.5 286.2L498.6 279.5L497.4 272.5L496.8 257.5L498.7 239.5L503.3 218.5L511.1 192.5L510.5 191.9L503.5 193.5L488.6 198.5L447.5 215.8L427.5 222.7L416.5 225.4L406.5 227.0L396.5 227.7L387.5 227.5L376.5 225.7L366.5 222.2L357.5 216.7L351.5 210.5L348.5 205.5L348.5 185.2L352.4 178.5L356.7 173.5L361.2 169.5L367.1 165.5L373.5 162.2L380.2 159.5L388.5 157.1L405.5 154.3L426.5 153.8L450.5 156.0L462.5 158.1L472.5 160.5L479.5 163.0L484.5 165.9L497.5 179.5L508.9 188.5L512.4 190.5L511.9 191.5L513.5 192.5L514.9 194.5L523.9 213.5L529.0 226.5L532.9 238.5L535.9 250.5L537.6 261.5L538.2 272.5L537.5 281.5L535.5 290.1L532.5 296.3L528.5 301.0L523.5 303.6ZM514.5 190.4L512.5 190.3L511.7 189.5L513.1 188.5L513.5 185.7L514.5 185.8L516.0 188.5L514.5 190.4Z"/>
<path fill="#94ffff" fill-rule="evenodd" d="M620.5 179.6L604.5 180.4L587.5 179.4L569.5 176.8L554.5 173.0L550.5 171.4L546.5 168.9L533.5 155.5L522.1 146.5L518.6 144.5L519.1 143.5L517.5 142.5L515.1 138.5L508.9 125.5L504.4 114.5L500.0 100.5L497.2 87.5L496.2 74.5L497.3 63.5L500.3 54.5L504.7 48.5L508.5 46.0L512.5 45.0L515.5 45.3L519.5 48.0L523.5 52.5L526.5 57.8L529.0 64.5L530.6 71.5L531.7 85.5L530.5 100.5L526.7 119.5L519.9 142.5L520.5 143.1L527.5 141.5L539.9 137.5L585.5 120.8L599.5 117.2L612.5 115.2L628.5 114.9L642.5 117.1L648.5 118.9L654.5 121.5L660.5 125.2L664.3 128.5L666.9 132.5L668.6 136.5L669.4 140.5L669.6 144.5L668.9 149.5L667.5 153.5L665.3 157.5L662.3 161.5L654.2 168.5L644.9 173.5L633.5 177.3L620.5 179.6ZM517.5 149.3L516.5 149.2L515.0 146.5L516.5 144.6L518.5 144.7L519.3 145.5L517.9 146.5L517.5 149.3ZM523.5 289.6L519.5 290.4L514.5 289.4L510.5 287.2L507.6 284.5L504.5 280.1L502.5 275.9L500.5 269.7L499.3 263.5L498.7 249.5L500.1 234.5L504.2 215.5L511.1 192.5L510.5 191.9L503.5 193.5L491.2 197.5L454.5 212.0L436.5 217.8L426.5 220.1L417.5 221.4L408.5 221.8L400.5 221.4L390.2 219.5L381.5 216.1L374.4 211.5L368.9 205.5L365.9 199.5L364.7 192.5L366.5 184.5L370.4 177.5L373.9 173.5L378.4 169.5L388.4 163.5L401.5 158.9L416.5 156.2L435.5 155.6L455.5 157.4L473.5 161.1L479.5 163.2L484.5 166.1L497.5 179.5L508.9 188.5L512.4 190.5L511.9 191.5L513.5 192.5L514.9 194.5L522.1 209.5L529.7 229.5L532.7 240.5L534.6 250.5L535.4 259.5L535.1 268.5L533.8 275.5L531.5 281.6L527.5 287.0L523.5 289.6ZM514.5 190.4L512.5 190.3L511.7 189.5L513.1 188.5L513.5 185.7L514.5 185.8L516.0 188.5L514.5 190.4Z"/>
<path fill="#6affff" fill-rule="evenodd" d="M607.5 178.5L594.5 178.9L579.5 177.9L564.5 175.4L553.5 172.4L549.5 170.6L545.5 167.9L533.6 155.5L522.1 146.5L518.6 144.5L519.1 143.5L517.5 142.5L515.1 138.5L505.3 116.5L501.2 103.5L498.9 91.5L498.2 80.5L499.3 70.5L502.2 62.5L506.5 57.1L509.5 55.3L513.5 54.5L515.5 54.8L519.5 57.4L522.5 60.8L525.5 65.8L527.7 71.5L529.5 79.0L530.4 91.5L529.3 105.5L525.9 122.5L519.9 142.5L520.5 143.1L524.1 142.5L537.1 138.5L579.5 124.0L592.5 120.8L604.5 119.1L618.5 119.0L631.5 121.0L637.5 123.0L643.1 125.5L647.9 128.5L651.4 131.5L653.9 135.5L655.5 139.5L656.2 143.5L656.1 147.5L655.3 151.5L653.7 155.5L648.7 162.5L641.4 168.5L631.4 173.5L620.5 176.7L607.5 178.5ZM517.5 149.3L516.5 149.1L515.0 146.5L516.5 144.6L518.5 144.7L519.3 145.5L517.9 146.5L517.5 149.3ZM520.5 280.7L517.5 280.7L513.5 279.6L510.5 277.7L507.5 274.7L504.8 270.5L502.7 265.5L500.3 254.5L500.0 242.5L501.4 229.5L505.1 212.5L511.1 192.5L510.5 191.9L506.9 192.5L494.0 196.5L459.5 209.3L443.5 214.2L434.5 216.2L425.5 217.4L417.5 217.7L409.5 217.2L400.5 215.3L392.5 212.0L386.0 207.5L380.9 201.5L378.4 195.5L377.9 189.5L379.8 182.5L383.4 176.5L390.7 169.5L400.5 163.8L412.5 159.7L425.5 157.5L442.5 157.1L460.5 158.7L475.5 162.0L480.5 163.9L484.5 166.3L497.4 179.5L508.9 188.5L512.4 190.5L511.9 191.5L513.5 192.5L514.9 194.5L522.1 209.5L528.5 226.5L531.2 236.5L532.8 245.5L533.4 254.5L532.9 262.5L531.3 269.5L528.5 275.1L524.5 279.1L520.5 280.7ZM514.5 190.4L512.5 190.3L511.7 189.5L513.1 188.5L513.5 185.7L514.5 185.9L516.0 188.5L514.5 190.4Z"/>
<path fill="#3fffff" fill-rule="evenodd" d="M599.5 177.5L587.5 177.7L574.5 176.7L561.5 174.4L552.5 171.7L545.5 167.7L533.6 155.5L522.1 146.5L518.6 144.5L519.1 143.5L517.5 142.5L515.1 138.5L506.2 118.5L502.4 106.5L500.2 95.5L499.6 85.5L500.6 76.5L503.5 68.7L507.5 63.9L510.5 62.3L514.5 61.7L516.5 62.4L519.5 64.6L522.5 68.0L525.5 73.4L527.5 79.1L528.7 84.5L529.5 95.5L528.5 108.5L525.8 122.5L519.9 142.5L520.5 143.1L530.9 140.5L575.5 126.1L587.5 123.4L598.5 122.1L611.5 122.1L623.5 124.1L633.5 128.0L641.5 133.7L643.4 136.5L645.1 140.5L646.0 144.5L645.9 148.5L644.0 155.5L639.1 162.5L631.6 168.5L622.5 172.9L611.5 176.0L599.5 177.5ZM517.5 149.3L516.5 149.1L515.0 146.5L516.5 144.6L518.5 144.7L519.3 145.5L517.9 146.5L517.5 149.3ZM519.5 273.5L516.5 273.4L512.5 272.0L507.5 267.4L503.5 259.6L501.3 249.5L501.0 238.5L502.2 226.5L505.2 212.5L511.1 192.5L510.5 191.9L497.0 195.5L463.5 207.3L448.5 211.7L432.5 214.4L424.5 214.6L417.5 214.1L409.5 212.5L401.9 209.5L395.9 205.5L391.4 200.5L388.8 195.5L387.8 189.5L389.3 182.5L392.8 176.5L396.4 172.5L400.0 169.5L408.6 164.5L419.5 160.8L431.5 158.7L446.5 158.1L462.5 159.5L476.5 162.6L480.5 164.2L484.5 166.5L497.4 179.5L508.9 188.5L512.4 190.5L511.9 191.5L514.3 193.5L519.8 204.5L526.9 222.5L529.5 231.5L531.2 240.5L531.9 248.5L531.5 256.5L530.2 262.5L527.5 268.1L523.5 272.1L519.5 273.5ZM514.5 190.4L512.5 190.3L511.7 189.5L513.1 188.5L513.5 185.7L514.5 185.9L516.0 188.5L514.5 190.4Z"/>
<path fill="#15ffff" fill-rule="evenodd" d="M595.5 176.5L584.5 176.8L572.5 175.9L560.5 173.9L551.5 171.1L545.5 167.5L533.7 155.5L522.1 146.5L518.6 144.5L519.1 143.5L517.5 142.5L515.1 138.5L507.1 120.5L503.5 109.5L501.5 99.5L500.8 89.5L501.7 81.5L504.1 74.5L507.5 70.0L510.5 68.1L514.5 67.4L516.5 68.0L519.5 70.2L522.5 73.7L524.5 77.2L526.5 82.4L527.8 87.5L528.7 98.5L527.9 110.5L524.9 125.5L519.9 142.5L520.5 143.1L527.6 141.5L571.5 128.1L582.5 125.7L593.5 124.4L605.5 124.5L616.5 126.4L626.5 130.4L633.7 135.5L635.7 138.5L637.3 142.5L637.8 149.5L635.7 156.5L631.4 162.5L625.4 167.5L616.5 172.0L606.5 174.9L595.5 176.5ZM517.5 149.3L516.5 149.1L515.0 146.5L516.5 144.6L518.5 144.7L519.3 145.5L517.9 146.5L517.5 149.3ZM520.5 267.6L517.5 267.9L513.5 266.9L510.5 265.0L508.5 262.9L504.5 255.9L502.2 246.5L501.7 236.5L502.7 225.5L506.0 209.5L511.1 192.5L510.5 191.9L500.1 194.5L465.5 206.1L452.5 209.7L437.5 212.0L430.5 212.2L423.5 211.7L415.5 210.0L408.5 207.0L403.3 203.5L398.9 198.5L396.5 193.5L395.7 188.5L396.9 182.5L400.2 176.5L406.1 170.5L414.3 165.5L424.5 161.8L435.5 159.7L449.5 159.0L464.5 160.2L476.5 162.9L480.5 164.4L484.5 166.7L498.5 180.5L508.9 188.5L512.4 190.5L511.9 191.5L513.5 192.5L515.9 196.5L525.0 217.5L527.9 226.5L529.8 235.5L530.7 243.5L530.5 250.3L529.5 256.1L527.4 261.5L524.5 265.3L520.5 267.6ZM514.5 190.4L512.5 190.3L511.7 189.5L513.1 188.5L513.5 185.7L514.5 185.9L516.0 188.5L514.5 190.4Z"/>
<path fill="#00f8ff" fill-rule="evenodd" d="M592.5 175.6L582.5 176.0L571.5 175.3L560.5 173.5L551.5 170.8L545.5 167.3L532.5 154.5L522.1 146.5L518.6 144.5L519.1 143.5L517.5 142.5L516.2 140.5L508.3 123.5L504.6 112.5L502.4 102.5L501.8 93.5L502.5 85.5L505.0 78.5L508.5 74.1L511.5 72.4L514.5 72.0L516.5 72.6L519.5 74.7L522.5 78.4L524.5 82.1L527.3 91.5L528.1 101.5L527.4 112.5L524.9 125.5L519.9 142.5L520.5 143.1L527.6 141.5L567.5 129.8L579.5 127.3L589.5 126.2L601.5 126.5L611.7 128.5L621.2 132.5L627.7 137.5L630.6 143.5L631.1 150.5L629.3 156.5L625.0 162.5L618.9 167.5L611.5 171.3L602.5 174.0L592.5 175.6ZM517.5 149.3L516.5 149.1L515.1 146.5L516.5 144.6L518.5 144.7L519.3 145.5L517.9 146.5L517.5 149.3ZM520.5 262.8L517.5 263.2L514.5 262.7L511.5 261.2L509.5 259.4L505.5 253.2L502.9 243.5L502.3 234.5L503.2 223.5L506.1 209.5L511.1 192.5L510.5 191.9L503.4 193.5L467.5 205.0L455.5 208.1L441.5 210.1L428.5 209.7L421.5 208.2L414.8 205.5L409.5 201.9L405.5 197.5L403.0 192.5L402.2 187.5L403.6 181.5L406.4 176.5L412.3 170.5L419.5 166.1L429.1 162.5L439.5 160.5L452.5 159.8L465.5 160.8L477.5 163.5L484.5 166.9L498.5 180.5L508.9 188.5L512.4 190.5L511.9 191.5L513.5 192.5L515.9 196.5L523.8 214.5L526.8 223.5L528.6 231.5L529.6 238.5L529.6 245.5L528.5 252.4L526.5 257.4L523.5 261.1L520.5 262.8ZM514.5 190.4L512.5 190.3L511.7 189.5L513.1 188.5L513.5 185.7L514.5 185.9L515.9 188.5L514.5 190.4Z"/>
<path fill="#00ebff" fill-rule="evenodd" d="M582.5 172.5L574.5 173.2L565.5 172.7L557.5 171.4L550.5 169.3L544.5 165.6L530.2 152.5L518.6 144.5L519.1 143.5L517.5 142.5L516.2 140.5L510.2 127.5L507.3 119.5L505.4 111.5L504.7 104.5L505.2 97.5L506.7 92.5L509.5 88.2L511.5 86.7L514.5 85.9L516.5 86.3L518.5 87.6L522.5 92.6L525.5 101.1L526.3 109.5L526.0 117.5L523.9 128.5L519.9 142.5L520.5 143.1L556.5 134.2L568.5 132.4L577.5 131.9L587.0 132.5L595.5 134.5L602.5 137.8L608.3 142.5L610.3 147.5L610.5 152.5L608.9 157.5L606.2 161.5L601.7 165.5L596.5 168.5L589.5 171.1L582.5 172.5ZM517.5 149.2L516.5 149.1L515.1 146.5L516.5 144.6L518.5 144.8L519.3 145.5L517.9 146.5L517.5 149.2ZM519.5 248.8L517.5 249.2L514.5 248.9L510.5 246.5L508.5 244.1L506.6 240.5L504.7 233.5L504.2 226.5L504.9 217.5L507.1 206.5L511.1 192.5L510.5 191.9L466.5 203.2L453.5 204.5L442.5 203.6L436.5 201.9L431.6 199.5L427.7 196.5L424.5 192.5L422.9 188.5L422.5 183.5L423.8 179.5L426.3 175.5L431.6 170.5L437.5 167.2L445.1 164.5L453.5 163.0L463.5 162.6L472.5 163.6L480.5 165.8L485.5 168.6L498.3 180.5L508.9 188.5L512.4 190.5L511.9 191.5L514.3 193.5L520.0 205.5L525.1 220.5L526.3 227.5L526.6 233.5L526.1 238.5L524.5 243.6L522.5 246.6L519.5 248.8ZM514.5 190.4L512.5 190.2L511.7 189.5L513.1 188.5L513.5 185.8L514.5 185.9L515.9 188.5L514.5 190.4Z"/>
<path fill="#00dfff" fill-rule="evenodd" d="M574.5 170.5L561.5 170.6L554.5 169.4L549.5 167.8L544.5 164.8L528.9 151.5L518.6 144.5L519.1 143.5L516.7 141.5L511.1 129.5L508.4 121.5L506.9 114.5L506.5 108.5L507.2 102.5L508.8 98.5L511.5 95.3L513.5 94.2L515.5 94.0L519.5 96.5L522.5 100.9L524.6 107.5L525.3 114.5L525.0 121.5L522.8 132.5L519.9 142.5L520.5 143.1L549.5 136.5L559.5 135.3L569.5 135.1L578.5 136.0L585.5 138.0L592.3 141.5L596.6 145.5L598.0 149.5L598.0 153.5L596.8 157.5L594.0 161.5L590.7 164.5L585.4 167.5L579.7 169.5L574.5 170.5ZM517.5 149.2L516.5 149.0L515.1 146.5L516.5 144.6L518.5 144.8L519.2 145.5L517.9 146.5L517.5 149.2ZM518.5 240.7L514.5 240.9L510.5 238.4L507.5 233.7L505.8 227.5L505.4 220.5L505.9 213.5L508.2 202.5L511.1 192.5L510.5 191.9L485.5 198.0L472.5 200.5L461.5 201.3L451.5 200.1L446.5 198.5L442.5 196.5L438.8 193.5L436.5 190.5L434.9 186.5L434.7 182.5L436.0 178.5L438.0 175.5L441.0 172.5L445.5 169.5L454.5 166.1L465.5 164.7L476.5 165.8L481.5 167.3L485.5 169.5L498.1 180.5L508.9 188.5L511.5 189.6L512.4 190.5L511.9 191.5L513.5 192.5L514.8 194.5L519.9 205.5L522.7 213.5L524.4 221.5L524.7 228.5L523.6 234.5L521.5 238.5L518.5 240.7ZM514.5 190.4L512.5 190.2L511.8 189.5L513.1 188.5L513.5 185.8L514.5 186.0L515.9 188.5L514.5 190.4Z"/>
<path fill="#00d2ff" fill-rule="evenodd" d="M569.5 168.6L558.5 168.7L552.5 167.7L548.5 166.3L543.5 163.2L529.0 151.5L518.6 144.5L519.1 143.5L516.7 141.5L512.0 131.5L509.6 124.5L508.2 118.5L507.7 113.5L508.1 108.5L509.5 104.0L511.5 101.2L513.5 99.9L515.5 99.5L518.5 101.0L521.5 104.6L524.0 111.5L524.6 117.5L524.4 123.5L522.7 132.5L519.9 142.5L520.5 143.1L544.5 138.0L553.5 137.0L561.5 137.0L570.5 138.0L577.5 139.9L582.8 142.5L587.5 146.5L589.1 149.5L589.4 153.5L588.2 157.5L586.2 160.5L583.1 163.5L579.5 165.7L575.5 167.4L569.5 168.6ZM517.5 149.1L516.5 149.0L515.1 146.5L516.5 144.6L518.5 144.8L519.2 145.5L517.9 146.5L517.5 149.1ZM516.5 235.5L513.5 235.1L510.5 233.0L507.9 228.5L506.5 223.3L506.1 217.5L506.5 211.5L508.2 202.5L511.1 192.5L510.5 191.9L492.5 196.1L478.5 198.5L467.5 199.2L458.5 198.0L453.9 196.5L450.1 194.5L446.6 191.5L444.5 188.5L443.5 185.5L443.3 181.5L444.4 178.5L446.4 175.5L449.6 172.5L452.7 170.5L460.5 167.6L469.5 166.5L478.5 167.4L482.5 168.7L486.5 171.0L499.3 181.5L508.9 188.5L511.5 189.6L512.4 190.5L511.9 191.5L513.5 192.5L514.8 194.5L519.0 203.5L522.0 212.5L523.3 219.5L523.4 225.5L522.2 230.5L519.5 234.3L516.5 235.5ZM514.5 190.4L512.5 190.2L511.8 189.5L513.1 188.5L513.5 185.9L514.5 186.0L515.9 188.5L514.5 190.4Z"/>
<path fill="#00c5ff" fill-rule="evenodd" d="M567.5 166.6L562.5 167.2L557.5 167.2L551.5 166.3L547.5 164.9L542.5 161.8L522.1 146.5L518.6 144.5L519.1 143.5L516.7 141.5L512.1 131.5L509.0 120.5L508.6 115.5L509.2 110.5L510.5 107.1L512.5 104.7L515.5 103.5L518.5 104.9L521.5 108.7L523.5 114.3L524.1 119.5L523.9 125.5L522.7 132.5L519.9 142.5L520.5 143.1L540.5 138.9L549.5 138.1L557.5 138.3L565.5 139.5L572.1 141.5L577.5 144.4L580.9 147.5L582.3 149.5L582.7 153.5L582.0 156.5L580.3 159.5L575.5 163.8L567.5 166.6ZM517.5 149.1L516.5 148.9L515.1 146.5L516.5 144.6L518.5 144.8L519.2 145.5L517.9 146.5L517.5 149.1ZM518.5 230.7L516.5 231.4L514.5 231.4L511.5 230.0L508.9 226.5L507.2 221.5L506.7 216.5L506.9 210.5L508.3 202.5L511.1 192.5L510.5 191.9L493.5 195.7L482.5 197.3L472.5 197.7L463.5 196.5L456.5 193.5L453.8 191.5L451.4 188.5L450.1 185.5L449.7 182.5L450.3 179.5L452.0 176.5L456.4 172.5L463.5 169.4L471.5 168.2L479.5 168.8L486.5 171.8L508.9 188.5L511.5 189.6L512.4 190.5L511.9 191.5L514.3 193.5L518.1 201.5L520.6 208.5L522.1 214.5L522.5 219.5L522.1 224.5L520.5 228.6L518.5 230.7ZM514.5 190.4L512.5 190.2L511.8 189.5L513.1 188.5L513.5 185.9L514.5 186.1L515.9 188.5L514.5 190.4Z"/>
<path fill="#00b8ff" fill-rule="evenodd" d="M560.5 165.6L551.5 165.2L545.5 163.0L522.2 146.5L518.6 144.5L519.1 143.5L516.7 141.5L513.0 133.5L509.7 122.5L509.6 114.5L510.5 111.1L512.5 108.1L515.5 106.6L518.5 108.0L521.5 111.8L523.1 116.5L523.7 121.5L523.5 126.5L521.9 135.5L519.9 142.5L520.5 143.2L539.5 139.4L553.5 139.2L560.5 140.3L567.3 142.5L572.5 145.4L575.7 148.5L577.0 150.5L577.4 153.5L576.7 156.5L574.8 159.5L572.5 161.5L568.9 163.5L560.5 165.6ZM517.5 149.1L516.5 148.8L515.2 146.5L516.5 144.6L518.5 144.8L519.2 145.5L517.9 146.5L517.5 149.1ZM517.5 227.9L514.5 228.3L511.5 226.9L509.1 223.5L507.5 218.5L507.1 213.5L507.4 208.5L509.1 199.5L511.1 192.5L510.5 191.8L495.5 195.1L485.5 196.4L475.5 196.5L467.5 195.2L460.5 192.1L456.2 187.5L455.1 184.5L455.0 181.5L455.9 178.5L457.3 176.5L461.5 173.1L467.5 170.6L473.5 169.7L480.5 170.1L487.5 173.1L508.8 188.5L511.5 189.6L512.4 190.5L511.9 191.5L514.3 193.5L518.0 201.5L520.1 207.5L521.5 213.5L521.8 218.5L521.2 222.5L519.5 226.2L517.5 227.9ZM514.5 190.4L512.5 190.2L511.8 189.5L513.1 188.5L513.5 185.9L514.5 186.2L515.8 188.5L514.5 190.4Z"/>
<path fill="#00acff" fill-rule="evenodd" d="M561.5 163.5L552.5 164.1L545.5 162.2L518.6 144.5L519.1 143.5L516.7 141.5L513.8 135.5L510.4 124.5L510.1 116.5L510.9 113.5L512.5 110.9L515.5 109.2L518.5 110.4L521.1 113.5L522.6 117.5L523.3 121.5L523.3 126.5L522.1 134.5L519.8 142.5L520.5 143.2L537.5 139.8L550.5 139.8L556.5 140.9L562.5 142.9L567.3 145.5L570.7 148.5L572.9 152.5L572.4 155.5L571.3 157.5L566.8 161.5L561.5 163.5ZM517.5 149.0L516.5 148.8L515.2 146.5L516.5 144.6L518.5 144.8L519.2 145.5L517.9 146.5L517.5 149.0ZM516.5 225.7L513.5 225.6L511.5 224.4L509.4 221.5L507.8 216.5L507.7 207.5L509.1 199.5L511.2 192.5L510.5 191.8L496.5 194.8L488.5 195.8L478.5 195.7L470.5 194.2L464.5 191.3L462.4 189.5L460.3 186.5L459.6 184.5L459.5 181.5L460.6 178.5L462.0 176.5L466.2 173.5L470.5 171.9L477.5 171.0L482.5 171.7L488.5 174.4L508.8 188.5L511.5 189.6L512.4 190.5L511.9 191.5L514.3 193.5L517.2 199.5L519.7 206.5L521.0 212.5L521.1 217.5L520.5 220.9L518.5 224.4L516.5 225.7ZM514.5 190.4L512.5 190.2L511.8 189.5L513.1 188.5L513.5 186.0L514.5 186.2L515.8 188.5L514.5 190.4Z"/>
<path fill="#009fff" fill-rule="evenodd" d="M556.5 162.5L549.5 162.6L543.5 160.6L518.6 144.5L519.1 143.5L516.8 141.5L513.1 133.5L510.7 124.5L510.7 117.5L511.7 114.5L513.5 112.2L515.5 111.3L518.5 112.4L521.0 115.5L522.5 119.5L523.1 123.5L523.0 128.5L521.8 135.5L519.8 142.5L520.5 143.2L536.5 140.1L547.5 140.2L553.5 141.3L558.5 143.1L563.0 145.5L566.3 148.5L568.2 151.5L568.7 153.5L566.9 157.5L562.5 160.9L556.5 162.5ZM517.5 149.0L516.5 148.7L515.2 146.5L516.5 144.6L518.5 144.8L519.2 145.5L517.9 146.5L517.5 149.0ZM515.5 223.7L512.5 223.1L510.5 221.2L509.1 218.5L508.0 214.5L507.9 206.5L509.2 199.5L511.2 192.5L510.5 191.8L497.5 194.5L490.5 195.3L481.5 195.1L473.5 193.5L467.7 190.5L464.2 186.5L463.5 184.5L463.5 181.5L465.5 177.4L468.5 174.9L472.5 173.2L478.5 172.3L483.5 172.9L490.5 176.1L510.4 189.5L511.5 189.6L512.4 190.5L511.9 191.5L514.2 193.5L517.1 199.5L519.3 205.5L520.5 211.5L520.6 216.5L519.5 220.5L517.5 223.0L515.5 223.7ZM514.5 190.4L512.5 190.2L511.8 189.5L513.1 188.5L513.5 186.0L514.5 186.3L515.8 188.5L514.5 190.4Z"/>
<path fill="#0092ff" fill-rule="evenodd" d="M552.5 161.6L547.5 161.3L541.5 159.0L518.6 144.5L519.1 143.5L516.8 141.5L513.9 135.5L511.2 126.5L511.0 119.5L511.9 116.5L513.5 114.1L515.5 113.1L518.5 114.1L520.5 116.3L522.3 120.5L522.9 124.5L522.8 129.5L521.8 135.5L519.8 142.5L520.5 143.2L535.5 140.4L544.7 140.5L550.3 141.5L555.9 143.5L559.4 145.5L562.7 148.5L564.7 152.5L564.7 154.5L563.7 156.5L559.5 159.8L552.5 161.6ZM517.5 148.9L516.5 148.7L515.2 146.5L516.5 144.6L518.5 144.8L519.2 145.5L517.9 146.5L517.5 148.9ZM516.5 221.6L513.5 221.8L511.5 220.6L509.5 217.6L508.5 214.5L508.0 210.5L508.2 205.5L511.2 192.5L510.5 191.8L498.5 194.2L491.5 195.0L483.5 194.7L476.5 193.1L471.2 190.5L467.6 186.5L466.9 184.5L466.9 181.5L469.2 177.5L472.5 175.2L477.5 173.7L480.5 173.4L484.5 174.0L491.5 177.1L510.3 189.5L511.5 189.6L512.4 190.5L511.9 191.5L514.2 193.5L516.7 198.5L518.9 204.5L520.0 209.5L520.2 213.5L519.7 217.5L518.5 220.0L516.5 221.6ZM514.5 190.4L512.5 190.2L511.8 189.5L513.1 188.5L513.5 186.1L514.5 186.3L515.8 188.5L514.5 190.4Z"/>
<path fill="#0085ff" fill-rule="evenodd" d="M550.5 160.6L545.5 160.0L540.5 158.0L518.6 144.5L519.1 143.5L516.8 141.5L513.9 135.5L511.6 127.5L511.4 120.5L512.4 117.5L513.5 115.8L515.5 114.6L518.5 115.6L520.5 117.8L522.0 121.5L522.7 129.5L521.8 135.5L519.8 142.5L520.5 143.2L534.5 140.6L543.5 140.8L553.0 143.5L556.4 145.5L559.6 148.5L561.4 152.5L561.3 154.5L560.5 156.0L556.5 159.0L550.5 160.6ZM517.5 148.9L516.5 148.6L515.2 146.5L516.5 144.6L518.5 144.8L519.2 145.5L517.9 146.5L517.5 148.9ZM516.5 220.0L513.5 220.3L511.5 219.1L509.8 216.5L508.7 213.5L508.3 205.5L509.2 199.5L511.2 192.5L510.5 191.8L499.5 194.0L492.5 194.7L486.5 194.4L479.5 193.0L474.3 190.5L470.6 186.5L469.8 182.5L470.3 180.5L471.7 178.5L474.4 176.5L478.5 174.9L481.5 174.5L485.5 175.0L492.5 178.0L510.3 189.5L511.5 189.6L512.4 190.5L511.9 191.5L514.2 193.5L516.2 197.5L518.5 203.5L519.6 208.5L519.5 215.5L518.5 218.1L516.5 220.0ZM514.5 190.4L512.5 190.2L511.8 189.5L513.1 188.5L513.5 186.1L514.5 186.4L515.8 188.5L514.5 190.4Z"/>
<path fill="#0079ff" fill-rule="evenodd" d="M549.5 159.5L544.5 159.0L539.5 157.1L518.6 144.5L519.1 143.5L516.8 141.5L514.0 135.5L511.8 127.5L511.5 123.5L511.9 120.5L512.7 118.5L514.5 116.4L516.5 116.0L519.5 117.7L521.2 120.5L522.1 123.5L522.5 130.5L519.8 142.5L520.5 143.2L533.5 140.8L541.5 140.9L550.5 143.5L556.2 147.5L558.4 151.5L558.4 153.5L557.6 155.5L553.3 158.5L549.5 159.5ZM517.5 148.8L516.5 148.6L515.3 146.5L516.5 144.6L518.5 144.8L519.2 145.5L517.8 146.5L517.5 148.8ZM516.5 218.6L513.5 219.0L511.5 217.7L510.0 215.5L508.9 212.5L508.4 205.5L509.3 199.5L511.2 192.5L510.5 191.8L499.5 193.9L493.5 194.5L487.5 194.1L481.5 192.7L476.9 190.5L473.1 186.5L472.5 182.5L473.9 179.5L479.5 176.0L482.5 175.5L486.5 176.0L493.5 178.9L510.3 189.5L511.5 189.6L512.4 190.5L511.9 191.5L513.5 192.5L515.8 196.5L519.1 206.5L519.5 210.5L519.1 214.5L518.4 216.5L516.5 218.6ZM514.5 190.4L512.5 190.2L511.8 189.5L513.2 188.5L513.5 186.2L514.5 186.4L515.7 188.5L514.5 190.4Z"/>
<path fill="#006cff" fill-rule="evenodd" d="M548.5 158.5L543.5 158.1L538.5 156.3L518.6 144.5L519.1 143.5L516.8 141.5L514.8 137.5L512.1 128.5L511.8 124.5L512.2 121.5L513.0 119.5L514.5 117.7L516.5 117.1L518.5 117.9L520.5 120.2L522.0 124.5L522.2 132.5L519.8 142.5L520.5 143.2L531.5 141.2L538.5 140.9L544.5 142.0L550.3 144.5L554.7 148.5L555.7 150.5L555.9 152.5L555.2 154.5L553.4 156.5L551.5 157.7L548.5 158.5ZM517.5 148.8L516.5 148.5L515.3 146.5L516.5 144.7L518.5 144.8L519.2 145.5L517.8 146.5L517.5 148.8ZM515.5 217.8L513.5 217.8L511.5 216.6L509.6 213.5L508.8 210.5L508.6 204.5L511.2 192.5L510.5 191.8L494.5 194.3L488.5 193.9L483.2 192.5L477.8 189.5L475.4 186.5L474.8 184.5L474.9 182.5L476.8 179.5L479.4 177.5L481.5 176.7L484.5 176.4L488.5 177.1L495.5 180.2L510.3 189.5L511.5 189.6L512.4 190.5L511.9 191.5L513.5 192.5L515.7 196.5L518.9 206.5L519.3 210.5L518.6 214.5L517.5 216.5L515.5 217.8ZM514.5 190.3L512.5 190.2L511.8 189.5L513.2 188.5L513.5 186.2L514.5 186.5L515.7 188.5L514.5 190.3Z"/>
<path fill="#005fff" fill-rule="evenodd" d="M547.5 157.6L542.5 157.3L537.5 155.6L530.5 151.9L518.7 144.5L519.1 143.5L517.5 142.5L515.7 139.5L512.4 129.5L512.4 122.5L514.5 118.8L516.5 118.2L518.5 118.9L520.5 121.3L521.7 124.5L522.1 132.5L519.8 142.5L520.5 143.2L530.5 141.4L536.5 141.0L541.5 141.6L546.8 143.5L552.0 147.5L553.2 149.5L553.6 151.5L553.2 153.5L552.0 155.5L550.5 156.7L547.5 157.6ZM517.5 148.7L516.5 148.5L515.3 146.5L516.5 144.7L518.5 144.8L519.2 145.5L517.8 146.5L517.5 148.7ZM515.5 216.7L513.5 216.8L511.5 215.5L509.7 212.5L508.9 209.5L508.9 202.5L511.2 192.5L510.5 191.8L500.5 193.6L494.5 194.1L489.5 193.7L485.1 192.5L479.7 189.5L477.4 186.5L476.9 183.5L479.1 179.5L481.5 177.9L483.5 177.4L486.5 177.3L490.5 178.2L498.5 182.0L512.3 190.5L511.9 191.5L514.2 193.5L516.2 197.5L518.8 206.5L518.5 213.2L517.5 215.2L515.5 216.7ZM514.5 190.3L512.5 190.2L511.8 189.5L513.2 188.5L513.5 186.3L514.5 186.5L515.7 188.5L514.5 190.3Z"/>
<path fill="#0052ff" fill-rule="evenodd" d="M547.5 156.6L542.5 156.8L537.5 155.3L530.5 151.8L518.7 144.5L519.1 143.5L516.8 141.5L514.9 137.5L512.5 129.5L512.5 123.8L514.5 119.8L516.5 119.1L518.5 119.8L520.5 122.2L521.7 125.5L522.1 132.5L519.8 142.5L520.5 143.2L530.5 141.4L535.5 141.1L540.5 141.7L545.5 143.5L549.5 146.5L551.0 148.5L551.7 150.5L551.7 152.5L550.8 154.5L547.5 156.6ZM517.5 148.7L516.5 148.5L515.3 146.5L516.5 144.7L518.5 144.8L519.2 145.5L517.8 146.5L517.5 148.7ZM515.5 215.8L513.5 215.9L511.5 214.6L510.1 212.5L509.1 209.5L508.9 202.5L511.2 192.5L510.5 191.8L495.5 193.9L490.5 193.5L486.6 192.5L481.4 189.5L479.2 186.5L478.8 183.5L480.5 180.1L482.5 178.8L485.5 178.0L491.5 179.0L499.5 182.6L512.3 190.5L511.9 191.5L514.2 193.5L516.1 197.5L518.5 205.5L518.8 209.5L518.2 212.5L517.2 214.5L515.5 215.8ZM514.5 190.3L512.5 190.2L511.8 189.5L513.2 188.5L513.5 186.3L514.5 186.5L515.7 188.5L514.5 190.3Z"/>
<path fill="#0046ff" fill-rule="evenodd" d="M546.5 155.9L542.5 156.3L536.5 154.6L529.5 151.2L518.7 144.5L519.1 143.5L517.5 142.5L515.8 139.5L512.8 130.5L512.7 124.5L514.5 120.8L516.5 119.9L518.5 120.7L520.5 123.0L521.5 125.6L522.0 132.5L519.8 142.5L520.5 143.2L530.5 141.5L535.5 141.3L540.5 142.0L544.4 143.5L548.3 146.5L550.3 150.5L549.7 153.5L548.5 154.8L546.5 155.9ZM517.5 148.6L516.5 148.4L515.3 146.5L516.5 144.7L518.5 144.8L519.2 145.5L517.8 146.5L517.5 148.6ZM515.5 214.9L513.5 215.1L511.5 213.8L510.1 211.5L509.2 208.5L509.1 201.5L511.2 192.5L510.5 191.8L500.5 193.5L495.5 193.8L491.5 193.4L487.5 192.3L484.0 190.5L481.2 187.5L480.3 183.5L481.9 180.5L483.5 179.5L486.5 178.7L492.5 179.6L500.5 183.3L512.3 190.5L511.9 191.5L514.2 193.5L516.1 197.5L518.4 205.5L518.1 211.5L517.2 213.5L515.5 214.9ZM514.5 190.3L512.5 190.2L511.8 189.5L513.2 188.5L513.5 186.4L514.5 186.6L515.7 188.5L514.5 190.3Z"/>
<path fill="#0039ff" fill-rule="evenodd" d="M544.5 155.5L540.5 155.5L534.5 153.6L518.7 144.5L519.1 143.5L517.5 142.5L516.3 140.5L513.0 131.5L512.8 125.5L514.5 121.6L516.5 120.7L518.5 121.4L520.5 123.8L521.5 126.6L521.8 133.5L519.8 142.5L520.5 143.2L529.5 141.7L534.5 141.4L539.5 142.1L543.3 143.5L547.2 146.5L549.0 150.5L548.1 153.5L546.5 154.8L544.5 155.5ZM517.5 148.6L516.5 148.4L515.4 146.5L516.5 144.7L518.5 144.8L519.2 145.5L517.8 146.5L517.5 148.6ZM515.5 214.1L513.5 214.3L511.5 213.0L509.5 209.0L509.0 203.5L511.2 192.5L510.5 191.8L497.5 193.7L493.5 193.5L489.1 192.5L485.1 190.5L482.4 187.5L481.6 184.5L482.7 181.5L484.5 180.1L486.5 179.4L492.5 179.9L499.5 182.8L510.3 189.5L511.5 189.7L512.3 190.5L511.9 191.5L513.5 192.5L515.7 196.5L518.2 204.5L518.0 210.5L517.2 212.5L515.5 214.1ZM514.5 190.3L512.5 190.2L511.8 189.5L513.2 188.5L513.5 186.4L514.5 186.6L515.6 188.5L514.5 190.3Z"/>
<path fill="#002cff" fill-rule="evenodd" d="M544.5 154.7L540.5 155.1L534.5 153.4L529.5 151.0L518.7 144.5L519.1 143.5L517.5 142.5L516.3 140.5L513.1 131.5L512.9 126.5L514.5 122.5L516.5 121.4L518.5 122.1L520.5 124.5L521.3 126.5L521.8 133.5L519.8 142.5L520.5 143.2L529.5 141.7L534.5 141.5L538.5 142.1L542.4 143.5L546.2 146.5L547.8 149.5L547.4 152.5L544.5 154.7ZM517.5 148.6L516.5 148.4L515.4 146.5L516.5 144.7L518.5 144.8L519.2 145.5L517.8 146.5L517.5 148.6ZM514.5 213.7L512.5 213.2L511.5 212.3L509.9 209.5L509.2 206.5L509.3 200.5L511.2 192.5L510.5 191.8L497.5 193.6L493.5 193.3L489.5 192.3L486.1 190.5L483.4 187.5L482.7 184.5L484.2 181.5L485.7 180.5L488.5 179.9L494.5 180.8L501.5 184.0L512.3 190.5L511.9 191.5L514.2 193.5L516.1 197.5L518.2 205.5L517.5 211.0L516.5 212.6L514.5 213.7ZM514.5 190.3L512.5 190.2L511.8 189.5L513.2 188.5L513.5 186.4L514.5 186.6L515.6 188.5L514.5 190.3Z"/>
<path fill="#001fff" fill-rule="evenodd" d="M542.5 154.6L538.5 154.5L533.5 152.9L518.7 144.5L519.1 143.5L516.8 141.5L513.4 132.5L513.0 127.5L514.5 123.2L516.5 122.1L518.5 122.7L520.5 125.2L521.3 127.5L521.7 133.5L519.8 142.5L520.5 143.2L533.5 141.6L537.5 142.1L541.5 143.5L545.4 146.5L546.7 149.5L546.1 152.5L544.5 153.9L542.5 154.6ZM517.5 148.5L516.5 148.4L515.4 146.5L516.5 144.7L518.5 144.9L519.2 145.5L517.8 146.5L517.5 148.5ZM515.5 212.7L513.5 213.0L511.5 211.7L509.5 207.2L509.4 200.5L511.2 192.5L510.5 191.8L498.5 193.4L491.1 192.5L487.1 190.5L485.0 188.5L483.8 185.5L484.7 182.5L485.7 181.5L488.2 180.5L493.5 180.8L499.5 183.0L510.3 189.5L511.5 189.7L512.3 190.5L511.9 191.5L513.5 192.5L515.2 195.5L517.8 203.5L517.7 209.5L516.5 211.9L515.5 212.7ZM514.5 190.3L512.5 190.1L511.8 189.5L513.2 188.5L513.5 186.5L514.5 186.6L515.6 188.5L514.5 190.3Z"/>
<path fill="#0013ff" fill-rule="evenodd" d="M543.5 153.6L539.5 154.2L534.5 153.1L528.5 150.4L518.7 144.5L519.1 143.5L516.8 141.5L513.4 132.5L513.4 126.5L514.9 123.5L516.5 122.7L518.5 123.3L520.5 125.8L521.4 128.5L521.6 134.5L519.8 142.5L520.5 143.2L533.5 141.7L537.5 142.3L540.8 143.5L543.6 145.5L545.6 148.5L545.5 151.5L543.5 153.6ZM517.5 148.5L516.5 148.3L515.4 146.5L516.5 144.7L518.5 144.9L519.1 145.5L517.8 146.5L517.5 148.5ZM515.5 212.0L514.5 212.4L512.5 211.9L510.5 209.6L509.8 207.5L509.2 202.5L511.2 192.5L510.5 191.8L499.5 193.3L495.5 193.2L491.5 192.3L487.9 190.5L485.3 187.5L484.9 184.5L485.9 182.5L489.5 180.8L494.5 181.3L500.5 183.6L510.3 189.5L511.5 189.7L512.3 190.5L511.9 191.5L513.5 192.5L515.2 195.5L517.6 202.5L517.6 208.5L516.9 210.5L515.5 212.0ZM514.5 190.3L512.5 190.1L511.9 189.5L513.2 188.5L513.5 186.5L514.5 186.7L515.6 188.5L514.5 190.3Z"/>
<path fill="#0006ff" fill-rule="evenodd" d="M541.5 153.6L537.5 153.7L532.5 152.2L518.7 144.5L519.1 143.5L517.5 142.5L515.8 139.5L513.3 131.5L513.6 126.5L515.5 123.6L516.5 123.3L518.5 123.8L520.0 125.5L521.2 128.5L521.6 134.5L519.8 142.5L520.5 143.2L532.5 141.8L536.5 142.2L540.1 143.5L543.8 146.5L545.0 149.5L543.7 152.5L541.5 153.6ZM517.5 148.5L516.5 148.3L515.4 146.5L516.5 144.7L518.5 144.9L519.1 145.5L517.8 146.5L517.5 148.5ZM514.5 211.8L512.5 211.4L511.5 210.5L509.5 205.7L509.4 200.5L511.2 192.5L510.5 191.8L498.5 193.3L491.5 192.0L488.7 190.5L486.1 187.5L485.8 184.5L487.1 182.5L489.1 181.5L491.5 181.1L496.5 182.0L502.5 184.7L512.3 190.5L511.9 191.5L513.5 192.5L515.2 195.5L517.7 203.5L517.7 206.5L517.0 209.5L515.5 211.4L514.5 211.8ZM514.5 190.3L512.5 190.1L511.9 189.5L513.2 188.5L513.5 186.5L514.5 186.7L515.6 188.5L514.5 190.3Z"/>
<path fill="#0000ff" fill-rule="evenodd" d="M542.5 152.5L538.5 153.5L533.5 152.5L527.5 149.7L518.7 144.5L519.1 143.5L516.8 141.5L515.0 137.5L513.6 132.5L513.6 127.5L514.5 125.2L515.5 124.1L516.5 123.8L518.5 124.3L520.5 126.9L521.3 129.5L521.5 134.5L519.8 142.5L520.5 143.2L532.5 141.8L536.5 142.4L539.4 143.5L542.2 145.5L544.0 148.5L544.0 150.5L542.5 152.5ZM517.5 148.4L516.5 148.3L515.5 146.5L516.5 144.7L518.5 144.9L519.1 145.5L517.8 146.5L517.5 148.4ZM515.5 210.9L514.5 211.3L512.5 210.9L511.1 209.5L509.8 206.5L509.5 200.5L511.2 192.5L510.5 191.8L499.5 193.2L492.5 192.1L489.4 190.5L487.4 188.5L486.5 185.5L487.5 183.2L489.5 182.0L491.5 181.5L496.5 182.2L501.5 184.2L510.3 189.5L511.5 189.7L512.3 190.5L511.9 191.5L513.5 192.5L515.2 195.5L517.4 202.5L517.4 207.5L516.5 209.8L515.5 210.9ZM514.5 190.3L512.5 190.1L511.9 189.5L513.2 188.5L513.5 186.6L514.5 186.7L515.5 188.5L514.5 190.3Z"/>
<path fill="#ffffe9" fill-rule="evenodd" d="M646.5 321.5L637.5 321.9L627.5 320.9L618.5 318.8L608.5 315.2L598.5 310.2L589.5 304.5L580.5 297.4L571.5 288.9L563.5 280.0L556.5 271.0L548.5 259.1L541.5 247.1L516.0 196.5L513.5 192.5L511.9 191.5L512.5 190.3L514.5 190.4L516.0 188.5L514.5 185.8L513.5 185.6L513.1 188.5L511.7 189.5L510.5 189.5L508.9 188.5L496.7 178.5L485.5 165.4L479.5 161.4L471.5 158.2L433.7 145.5L421.8 140.5L409.8 134.5L394.1 124.5L386.7 118.5L380.5 112.5L373.1 103.5L367.1 93.5L363.1 82.5L361.6 72.5L362.2 63.5L364.9 54.5L368.5 48.1L373.2 41.5L376.7 37.5L383.1 32.5L390.5 28.9L399.5 26.5L408.5 26.0L417.5 26.9L427.5 29.5L437.5 33.8L446.5 39.1L456.5 46.7L466.5 56.4L475.5 67.1L484.5 80.2L495.5 99.5L515.0 138.5L517.5 142.5L519.1 143.5L518.5 144.7L516.5 144.6L515.0 146.5L516.5 149.2L517.5 149.4L517.9 146.5L519.3 145.5L520.5 145.5L522.1 146.5L534.3 156.5L545.5 169.6L551.5 173.5L559.5 176.7L584.7 184.5L602.0 190.5L616.5 196.5L628.7 202.5L639.0 208.5L647.8 214.5L656.5 221.5L663.8 228.5L670.6 236.5L676.1 244.5L680.4 252.5L683.5 260.4L683.5 295.6L681.3 300.5L678.5 305.0L674.2 309.5L669.5 313.2L664.5 316.2L658.5 318.8L646.5 321.5ZM523.5 142.6L520.5 143.1L519.9 142.5L527.5 119.7L533.5 104.3L542.5 86.1L547.5 78.3L553.5 70.8L558.5 65.8L564.5 61.3L570.5 58.2L575.5 56.8L580.5 56.6L584.5 57.4L587.5 58.8L594.1 63.5L597.1 67.5L598.5 71.5L598.9 76.5L598.2 81.5L596.4 87.5L593.4 93.5L589.5 99.5L584.7 105.5L572.1 117.5L556.5 128.5L541.0 136.5L523.5 142.6ZM443.5 292.6L436.5 292.9L429.5 290.8L424.9 286.5L422.0 280.5L421.0 272.5L422.1 264.5L425.3 255.5L430.8 245.5L437.5 236.5L446.0 227.5L455.2 219.5L466.0 211.5L475.7 205.5L487.6 199.5L500.6 194.5L510.5 191.9L511.1 192.5L510.5 195.0L497.5 231.4L489.5 248.9L481.5 262.6L472.5 274.3L463.5 282.8L453.5 289.3L448.5 291.4L443.5 292.6Z"/>
<path fill="#ffffbf" fill-rule="evenodd" d="M626.5 299.6L618.5 299.9L610.5 299.1L601.5 296.9L593.5 293.9L585.5 289.8L577.5 284.7L569.5 278.4L562.5 271.8L555.5 264.1L548.5 255.0L535.5 234.3L514.9 194.5L513.5 192.5L511.9 191.5L512.5 190.3L514.5 190.4L516.0 188.5L514.5 185.8L513.5 185.6L513.1 188.5L512.5 189.1L510.4 189.5L497.8 179.5L486.5 166.0L482.5 162.8L474.5 158.9L443.4 147.5L430.3 141.5L421.3 136.5L413.8 131.5L407.4 126.5L401.1 120.5L394.5 112.5L389.2 103.5L385.9 94.5L384.7 86.5L385.1 78.5L387.5 70.5L393.6 60.5L398.0 55.5L403.5 51.3L410.5 48.1L417.5 46.4L425.5 46.0L433.5 47.0L441.5 49.1L450.5 53.1L458.5 57.9L467.5 65.0L475.5 72.9L483.5 82.7L490.5 92.8L500.5 110.1L516.1 140.5L517.5 142.5L519.1 143.5L518.5 144.7L516.5 144.6L515.0 146.5L516.5 149.2L517.5 149.4L517.9 146.5L518.5 145.9L520.6 145.5L533.2 155.5L544.5 169.0L548.5 172.2L556.5 176.0L592.2 188.5L609.6 196.5L618.5 201.5L627.5 207.5L635.0 213.5L642.2 220.5L647.3 226.5L651.5 232.5L654.9 238.5L657.9 245.5L660.0 252.5L660.9 258.5L661.0 265.5L660.2 271.5L658.5 277.5L656.1 282.5L653.5 286.2L649.5 290.2L644.5 293.7L638.9 296.5L632.7 298.5L626.5 299.6ZM523.5 142.6L520.5 143.1L519.9 142.5L529.5 115.1L534.5 104.0L538.5 96.6L542.5 90.4L547.5 84.0L551.5 80.0L556.5 76.1L561.5 73.4L566.5 71.9L570.5 71.7L574.5 72.5L577.5 74.1L581.6 77.5L584.1 80.5L585.4 83.5L586.0 87.5L585.5 92.5L584.0 97.5L581.6 102.5L574.4 112.5L565.0 121.5L552.3 130.5L538.4 137.5L523.5 142.6ZM451.5 275.6L445.5 274.9L440.7 272.5L437.5 268.5L435.5 262.5L435.5 255.5L437.1 248.5L440.0 241.5L445.0 233.5L450.6 226.5L457.6 219.5L464.8 213.5L473.3 207.5L481.9 202.5L492.6 197.5L503.7 193.5L510.5 191.9L511.1 192.5L510.5 194.9L499.5 225.1L492.5 240.0L485.5 251.4L477.5 261.3L468.5 269.0L459.5 273.8L451.5 275.6Z"/>
<path fill="#ffff94" fill-rule="evenodd" d="M617.5 285.5L611.5 286.2L605.5 286.2L598.5 285.3L592.5 283.8L579.5 278.4L566.5 269.9L558.5 262.9L550.5 254.3L543.5 245.3L536.5 234.7L527.5 218.8L514.9 194.5L513.5 192.5L511.9 191.5L512.5 190.3L514.5 190.4L516.0 188.5L514.5 185.8L513.5 185.6L513.1 188.5L512.5 189.1L510.4 189.5L497.8 179.5L494.1 175.5L487.5 166.8L482.5 162.4L476.5 159.3L451.4 149.5L438.7 143.5L425.7 135.5L419.3 130.5L414.0 125.5L408.2 118.5L403.4 110.5L400.4 102.5L399.2 95.5L399.4 88.5L401.2 81.5L406.5 72.2L410.5 67.3L415.5 63.4L421.5 60.5L428.5 58.8L435.5 58.4L442.5 59.2L450.5 61.4L458.5 64.9L465.5 69.2L473.5 75.5L480.5 82.4L487.5 90.8L494.5 100.9L503.5 116.3L516.1 140.5L517.5 142.5L519.1 143.5L518.5 144.7L516.5 144.6L515.0 146.5L516.5 149.2L517.5 149.4L517.9 146.5L518.5 145.9L520.6 145.5L533.2 155.5L536.9 159.5L543.5 168.2L548.5 172.5L556.5 176.4L584.0 186.5L599.1 193.5L607.8 198.5L615.2 203.5L621.5 208.5L627.7 214.5L636.4 225.5L642.0 236.5L644.9 247.5L645.2 253.5L644.9 258.5L643.8 263.5L641.9 268.5L639.7 272.5L637.0 275.5L633.5 278.6L628.5 281.7L623.5 283.9L617.5 285.5ZM523.5 142.6L520.5 143.1L519.9 142.5L525.5 125.8L533.5 107.5L541.5 94.9L549.5 86.7L553.5 84.0L557.5 82.1L561.5 81.1L565.5 81.0L568.5 81.9L571.1 83.5L575.3 87.5L576.6 89.5L577.7 92.5L577.9 96.5L577.3 100.5L575.5 105.5L569.8 114.5L560.9 123.5L549.9 131.5L538.2 137.5L523.5 142.6ZM460.5 264.6L454.5 264.5L449.5 262.5L446.5 259.3L444.6 254.5L444.2 248.5L445.2 242.5L448.0 235.5L452.2 228.5L456.9 222.5L462.8 216.5L470.0 210.5L477.3 205.5L484.3 201.5L492.8 197.5L503.7 193.5L510.5 191.9L511.1 192.5L510.5 194.9L501.5 219.5L495.5 232.4L489.5 242.4L482.5 251.2L475.5 257.7L468.5 262.1L460.5 264.6Z"/>
<path fill="#ffff6a" fill-rule="evenodd" d="M604.5 276.6L593.5 276.2L582.5 273.4L571.5 268.4L560.5 260.8L553.5 254.5L546.5 246.9L539.5 237.8L533.5 228.7L525.5 214.8L514.9 194.5L513.5 192.5L511.9 191.5L512.5 190.3L514.5 190.4L516.0 188.5L514.5 185.7L513.5 185.6L513.1 188.5L512.5 189.1L510.4 189.5L502.5 183.5L496.9 178.5L487.5 166.5L483.5 162.8L476.5 158.9L453.9 149.5L442.2 143.5L430.4 135.5L421.8 127.5L416.3 120.5L412.5 113.5L410.2 106.5L409.3 99.5L409.8 93.5L411.6 87.5L416.2 79.5L420.5 74.5L425.5 71.0L430.5 68.8L436.5 67.4L443.5 67.1L450.5 68.1L457.5 70.2L463.5 72.9L470.5 77.1L477.5 82.6L484.5 89.5L491.5 98.0L497.5 106.7L505.5 120.3L516.1 140.5L517.5 142.5L519.1 143.5L518.5 144.7L516.5 144.6L515.0 146.5L516.5 149.3L517.5 149.4L517.9 146.5L518.5 145.9L520.6 145.5L533.1 155.5L537.6 160.5L543.5 168.5L548.5 172.9L555.5 176.5L580.5 186.1L593.6 192.5L607.6 201.5L618.7 211.5L626.3 221.5L631.7 232.5L633.1 237.5L634.0 243.5L634.0 248.5L633.3 253.5L631.8 258.5L629.5 263.2L623.5 269.4L619.5 272.1L614.5 274.4L604.5 276.6ZM523.5 142.6L520.5 143.1L519.9 142.5L524.5 128.7L531.5 112.4L535.5 105.5L539.5 99.8L546.5 92.7L553.5 88.6L557.5 87.5L560.5 87.4L563.5 88.1L565.9 89.5L571.1 95.5L572.1 98.5L572.2 101.5L571.6 105.5L570.1 109.5L565.1 117.5L556.1 126.5L547.7 132.5L538.0 137.5L523.5 142.6ZM467.5 256.7L462.5 257.3L457.5 256.4L453.5 253.6L451.2 249.5L450.4 244.5L451.0 238.5L453.1 232.5L457.0 225.5L461.6 219.5L466.5 214.5L472.3 209.5L479.6 204.5L486.6 200.5L495.4 196.5L503.7 193.5L510.5 191.9L511.1 192.5L510.5 194.9L503.5 214.1L498.5 225.3L492.5 235.8L486.5 243.7L480.5 249.6L474.5 253.8L467.5 256.7Z"/>
<path fill="#ffff3f" fill-rule="evenodd" d="M595.5 269.5L585.5 268.7L575.5 265.7L565.5 260.8L555.5 253.6L548.5 247.0L542.5 240.3L536.5 232.3L530.5 223.1L514.9 194.5L513.5 192.5L511.9 191.5L512.5 190.3L514.5 190.4L516.0 188.5L514.5 185.7L513.5 185.6L513.1 188.5L512.5 189.1L510.4 189.5L502.5 183.5L496.9 178.5L487.5 166.2L483.5 162.4L477.5 158.9L458.2 150.5L446.8 144.5L436.6 137.5L428.2 129.5L423.6 123.5L419.8 116.5L417.9 110.5L417.0 103.5L417.6 97.5L419.3 92.5L423.5 85.1L427.5 80.5L432.5 77.0L437.5 75.0L443.5 73.7L449.5 73.7L456.5 74.8L462.5 76.7L468.5 79.5L474.5 83.2L481.5 88.8L487.5 94.8L493.5 102.0L500.5 112.2L516.7 141.5L519.1 143.5L518.5 144.7L516.5 144.6L515.0 146.5L516.5 149.3L517.5 149.4L517.9 146.5L518.5 145.9L520.6 145.5L528.5 151.5L534.1 156.5L543.5 168.8L547.5 172.5L554.5 176.4L574.8 184.5L589.0 191.5L601.1 199.5L612.0 209.5L619.3 219.5L623.7 229.5L625.5 239.5L625.4 244.5L624.5 249.5L621.5 256.6L618.2 260.5L614.5 263.6L610.5 265.9L605.5 267.9L595.5 269.5ZM523.5 142.6L520.5 143.1L519.9 142.5L523.5 131.5L530.5 115.1L537.5 104.1L543.5 97.8L550.5 93.4L554.5 92.4L557.5 92.3L560.5 93.1L562.5 94.4L566.7 99.5L567.7 102.5L567.9 105.5L566.1 112.5L560.9 120.5L554.0 127.5L545.5 133.5L535.4 138.5L523.5 142.6ZM468.5 251.5L463.5 251.3L459.5 249.6L456.8 246.5L455.5 243.0L455.2 237.5L456.2 232.5L458.2 227.5L461.9 221.5L465.9 216.5L470.9 211.5L481.7 203.5L495.5 196.5L503.7 193.5L510.5 191.9L511.1 192.5L510.5 194.9L503.5 213.8L498.5 224.4L492.5 234.1L486.5 241.3L480.5 246.5L474.5 249.9L468.5 251.5Z"/>
<path fill="#ffff15" fill-rule="evenodd" d="M593.5 263.6L583.5 263.4L573.5 261.0L563.5 256.4L553.5 249.5L546.5 243.1L540.5 236.4L534.5 228.5L528.5 219.3L514.3 193.5L511.9 191.5L512.5 190.3L514.5 190.4L516.0 188.5L514.5 185.7L513.5 185.6L513.1 188.5L512.5 189.1L510.4 189.5L502.5 183.5L497.0 178.5L487.5 165.9L483.5 162.1L477.5 158.5L462.0 151.5L450.8 145.5L442.1 139.5L434.6 132.5L429.8 126.5L426.4 120.5L424.0 113.5L423.2 107.5L423.8 101.5L425.4 96.5L429.3 89.5L432.8 85.5L437.5 82.1L442.5 80.0L447.5 79.0L453.5 78.8L459.5 79.6L465.5 81.4L471.5 84.2L477.5 87.9L484.5 93.5L490.5 99.6L496.5 107.0L502.5 115.9L516.7 141.5L519.1 143.5L518.5 144.7L516.5 144.6L515.0 146.5L516.5 149.3L517.5 149.4L517.9 146.5L518.5 145.9L520.6 145.5L528.5 151.5L534.0 156.5L543.5 169.1L547.5 172.9L554.5 176.8L573.1 184.5L584.8 190.5L596.7 198.5L605.3 206.5L612.2 215.5L616.5 224.5L618.7 234.5L618.1 243.5L615.1 251.5L609.5 257.4L602.2 261.5L593.5 263.6ZM523.5 142.6L520.5 143.1L519.9 142.5L523.5 131.6L529.5 117.6L536.5 106.8L542.5 100.7L548.5 97.1L554.5 96.1L557.5 96.8L559.5 98.0L563.6 103.5L564.5 108.5L563.0 114.5L558.7 121.5L552.0 128.5L545.1 133.5L535.3 138.5L523.5 142.6ZM473.5 246.7L468.5 247.1L464.5 246.1L461.5 243.9L459.6 240.5L458.9 236.5L459.4 231.5L461.0 226.5L464.3 220.5L468.1 215.5L473.0 210.5L483.8 202.5L491.2 198.5L498.1 195.5L507.0 192.5L510.5 191.9L511.1 192.5L510.5 194.9L504.5 211.1L499.5 221.8L494.5 230.0L489.5 236.2L484.5 241.0L478.5 244.9L473.5 246.7Z"/>
<path fill="#fff800" fill-rule="evenodd" d="M591.5 258.6L581.5 259.0L571.5 256.9L560.5 252.1L550.5 245.1L544.5 239.6L538.5 232.9L532.5 225.0L526.5 215.7L514.3 193.5L511.9 191.5L512.5 190.3L514.5 190.4L516.0 188.5L514.5 185.7L513.5 185.6L513.1 188.5L511.7 189.5L510.5 189.5L508.9 188.5L497.0 178.5L487.5 165.6L483.5 161.7L478.5 158.7L463.5 151.5L452.9 145.5L444.7 139.5L438.5 133.5L434.6 128.5L431.2 122.5L429.1 116.5L428.3 110.5L428.6 105.5L430.1 100.5L433.8 93.5L437.5 89.3L441.5 86.4L446.5 84.2L451.5 83.2L457.5 83.0L463.5 84.0L469.5 85.9L475.5 88.8L480.5 92.1L486.5 96.9L492.5 103.0L497.5 109.2L503.5 117.8L516.7 141.5L519.1 143.5L518.5 144.7L516.5 144.6L515.0 146.5L516.5 149.3L517.5 149.4L517.9 146.5L518.5 145.9L520.6 145.5L528.5 151.5L534.0 156.5L543.5 169.4L547.5 173.2L553.5 176.7L572.5 185.0L581.1 189.5L591.5 196.5L600.3 204.5L606.5 212.5L611.0 221.5L613.1 230.5L612.9 238.5L610.2 246.5L606.2 251.5L599.5 256.0L591.5 258.6ZM523.5 142.6L520.5 143.1L519.9 142.5L522.5 134.4L528.5 120.0L531.5 114.7L535.5 109.1L541.5 103.2L547.5 99.9L550.5 99.2L553.5 99.3L557.5 101.3L560.9 106.5L561.6 111.5L559.8 117.5L555.1 124.5L550.1 129.5L543.0 134.5L535.2 138.5L523.5 142.6ZM472.5 243.5L468.5 243.0L465.5 241.5L463.5 239.1L462.2 235.5L462.1 231.5L463.1 226.5L465.3 221.5L468.5 216.5L476.0 208.5L485.8 201.5L498.2 195.5L507.0 192.5L510.5 191.9L511.1 192.5L510.5 194.9L504.5 210.9L499.5 221.1L494.5 228.9L489.5 234.7L483.5 239.6L477.5 242.6L472.5 243.5Z"/>
<path fill="#ffeb00" fill-rule="evenodd" d="M577.5 244.6L569.5 245.0L560.5 243.1L551.5 239.1L542.5 232.8L535.5 226.0L529.5 218.7L522.5 208.3L514.3 193.5L511.9 191.5L512.5 190.3L514.5 190.4L516.0 188.5L514.5 185.7L513.5 185.5L513.1 188.5L511.5 189.6L510.4 189.5L507.6 187.5L501.4 182.5L496.4 177.5L488.5 165.4L484.5 161.0L479.5 157.5L464.2 148.5L457.7 143.5L452.6 138.5L448.8 133.5L446.6 129.5L444.8 124.5L444.0 119.5L444.3 114.5L445.5 110.7L447.8 105.5L451.5 101.0L455.5 98.2L459.5 96.6L463.5 95.8L468.5 95.7L473.5 96.5L478.5 98.1L483.5 100.5L488.5 103.8L495.5 109.8L502.5 117.9L510.5 130.1L516.7 141.5L519.1 143.5L518.5 144.7L516.5 144.6L515.0 146.5L516.5 149.3L517.5 149.5L517.9 146.5L518.5 145.9L520.5 145.5L522.1 146.5L533.7 156.5L536.9 160.5L543.5 171.0L546.5 174.0L553.5 178.4L572.7 188.5L579.4 193.5L585.7 199.5L590.9 206.5L594.3 213.5L596.1 221.5L595.7 228.5L593.5 234.5L589.5 239.2L584.4 242.5L577.5 244.6ZM523.5 142.6L520.5 143.1L519.9 142.5L525.5 127.4L531.5 117.2L536.5 112.1L541.5 109.2L545.5 108.5L549.5 109.7L551.8 112.5L553.0 117.5L552.1 122.5L549.3 127.5L544.3 132.5L538.4 136.5L532.4 139.5L523.5 142.6ZM481.5 232.5L478.5 232.6L475.5 231.7L473.5 230.1L472.0 227.5L471.5 224.5L471.9 220.5L473.4 216.5L475.7 212.5L482.1 205.5L490.6 199.5L501.1 194.5L510.5 191.9L511.1 192.5L510.5 194.9L506.5 205.4L502.5 213.7L498.5 220.1L494.5 224.9L490.5 228.4L486.5 230.9L481.5 232.5Z"/>
<path fill="#ffdf00" fill-rule="evenodd" d="M568.5 236.6L560.5 236.5L552.5 234.5L544.5 230.6L536.5 224.6L530.5 218.4L525.5 212.1L519.5 203.0L514.3 193.5L511.9 191.5L512.5 190.3L514.5 190.4L516.1 188.5L514.5 185.6L513.5 185.4L513.1 188.5L512.5 189.1L510.5 189.5L503.9 184.5L495.9 176.5L488.5 163.8L486.5 161.3L482.5 157.8L467.4 147.5L460.4 140.5L455.4 132.5L453.8 127.5L453.4 123.5L453.9 119.5L455.8 113.5L457.5 110.5L460.5 107.3L463.5 105.3L467.5 103.8L471.5 103.1L475.5 103.1L480.5 104.1L484.5 105.4L493.5 110.7L499.5 115.9L504.5 121.7L510.5 130.4L516.7 141.5L519.1 143.5L518.5 144.7L516.5 144.6L514.9 146.5L516.5 149.4L517.5 149.6L517.9 146.5L519.5 145.4L520.6 145.5L523.4 147.5L529.4 152.5L534.3 157.5L537.8 162.5L542.5 171.2L545.5 174.7L550.5 178.3L569.1 189.5L573.8 193.5L577.6 197.5L581.8 203.5L584.9 210.5L585.9 216.5L585.5 222.5L583.5 227.5L579.5 231.9L574.5 234.9L568.5 236.6ZM523.5 142.6L520.5 143.1L519.9 142.5L524.5 130.0L527.5 124.4L530.5 120.2L534.5 116.4L538.5 114.3L542.5 113.8L545.5 115.1L547.8 118.5L548.4 122.5L547.3 126.5L544.7 130.5L541.7 133.5L536.0 137.5L529.6 140.5L523.5 142.6ZM488.5 225.5L484.5 226.3L481.5 225.9L479.2 224.5L477.8 222.5L477.1 219.5L477.4 216.5L480.0 210.5L485.0 204.5L493.1 198.5L501.4 194.5L510.5 191.9L511.1 192.5L510.5 194.9L507.5 202.8L501.5 214.1L495.5 221.1L491.5 224.1L488.5 225.5Z"/>
<path fill="#ffd200" fill-rule="evenodd" d="M564.5 230.7L556.5 231.1L548.5 229.3L540.5 225.3L533.5 220.0L524.5 210.1L519.5 202.8L514.3 193.5L511.9 191.5L512.5 190.3L514.5 190.4L516.1 188.5L514.5 185.5L513.5 185.4L513.1 188.5L511.5 189.6L510.5 189.5L502.8 183.5L497.8 178.5L494.8 174.5L489.5 163.8L487.2 160.5L483.5 157.0L472.2 148.5L467.1 143.5L462.1 135.5L460.7 131.5L460.1 127.5L460.4 123.5L462.1 117.5L463.9 114.5L466.5 111.8L472.5 108.7L476.5 108.1L480.5 108.2L484.5 108.9L489.5 110.8L497.5 115.7L502.5 120.3L506.5 125.0L511.5 132.2L516.7 141.5L519.1 143.5L518.5 144.7L516.5 144.6L514.9 146.5L516.5 149.5L517.5 149.6L517.9 146.5L519.5 145.4L520.5 145.5L527.1 150.5L534.8 158.5L537.9 163.5L541.5 171.2L544.5 175.3L549.5 179.2L563.7 188.5L571.3 195.5L574.9 200.5L577.6 206.5L578.8 212.5L578.5 217.5L576.6 222.5L573.5 226.2L569.5 228.9L564.5 230.7ZM523.5 142.6L520.5 143.1L519.9 142.5L524.5 130.4L529.5 122.7L532.5 119.7L536.5 117.5L540.5 117.1L543.4 118.5L545.2 121.5L545.4 124.5L544.8 127.5L542.4 131.5L539.5 134.5L535.4 137.5L529.4 140.5L523.5 142.6ZM490.5 221.6L485.5 221.8L483.0 220.5L481.5 218.5L481.0 216.5L481.3 213.5L484.1 207.5L488.5 202.5L495.4 197.5L504.1 193.5L510.5 191.9L511.1 192.5L508.5 200.2L503.5 210.0L497.5 217.3L493.5 220.2L490.5 221.6Z"/>
<path fill="#ffc500" fill-rule="evenodd" d="M560.5 226.5L554.5 227.1L547.5 226.0L540.5 223.2L534.5 219.3L529.5 215.0L524.5 209.5L519.5 202.6L514.3 193.5L511.9 191.5L512.5 190.3L514.5 190.5L516.1 188.5L514.5 185.5L513.5 185.3L513.1 188.5L512.5 189.1L510.5 189.5L502.8 183.5L498.0 178.5L494.1 172.5L488.5 160.4L485.5 157.2L472.9 146.5L469.6 142.5L467.2 138.5L465.2 131.5L465.3 126.5L466.8 120.5L470.5 115.5L473.5 113.5L476.5 112.3L483.5 111.8L491.5 113.8L499.5 118.6L507.5 126.8L512.5 134.0L516.7 141.5L519.1 143.5L518.5 144.7L516.5 144.5L514.9 146.5L516.5 149.5L517.5 149.7L517.9 146.5L519.5 145.4L520.5 145.5L528.2 151.5L532.2 155.5L535.2 159.5L541.2 172.5L543.5 175.8L547.5 179.3L560.4 188.5L567.6 195.5L570.8 200.5L572.7 205.5L573.5 210.5L573.0 215.5L571.1 219.5L568.4 222.5L564.5 225.1L560.5 226.5ZM523.5 142.6L520.5 143.1L519.9 142.5L523.5 132.8L527.5 126.0L530.5 122.7L534.5 120.1L538.5 119.5L541.1 120.5L542.7 122.5L543.3 125.5L542.3 129.5L540.5 132.5L537.6 135.5L533.3 138.5L523.5 142.6ZM491.5 218.7L487.5 218.5L485.5 217.2L484.5 215.5L484.1 213.5L484.5 210.5L487.0 205.5L490.6 201.5L495.9 197.5L504.2 193.5L510.5 191.9L511.1 192.5L508.5 200.0L503.5 209.3L497.5 215.7L494.5 217.6L491.5 218.7Z"/>
<path fill="#ffb800" fill-rule="evenodd" d="M555.5 223.7L549.5 223.8L543.5 222.6L537.5 219.9L531.5 215.8L523.5 207.8L518.5 200.9L514.3 193.5L511.9 191.5L512.5 190.3L514.5 190.5L516.1 188.5L514.5 185.4L513.5 185.2L513.1 188.5L511.5 189.6L510.5 189.5L502.9 183.5L498.2 178.5L494.4 172.5L490.7 162.5L489.1 159.5L474.6 145.5L470.3 138.5L468.9 132.5L469.6 125.5L471.5 121.0L474.7 117.5L480.5 114.9L484.5 114.5L488.5 114.9L495.5 117.3L502.5 122.1L509.5 129.8L516.7 141.5L519.1 143.5L518.5 144.7L516.5 144.5L514.9 146.5L516.5 149.6L517.5 149.8L517.9 146.5L519.5 145.4L520.5 145.5L529.1 152.5L532.8 156.5L536.1 161.5L540.5 173.0L542.5 176.2L545.5 179.2L558.8 189.5L564.4 195.5L567.0 199.5L568.5 203.5L569.2 208.5L568.9 212.5L567.1 216.5L564.5 219.5L560.5 222.2L555.5 223.7ZM523.5 142.5L520.5 143.1L519.9 142.5L523.5 133.0L527.5 126.7L530.5 123.7L533.5 121.9L536.5 121.3L539.5 122.3L541.2 124.5L541.5 127.5L540.7 130.5L538.8 133.5L533.0 138.5L523.5 142.5ZM494.5 215.9L491.5 216.4L489.5 216.0L486.9 213.5L486.7 209.5L488.9 204.5L493.6 199.5L497.9 196.5L504.4 193.5L510.5 191.9L511.1 192.5L509.5 197.4L504.5 207.2L499.5 212.9L494.5 215.9Z"/>
<path fill="#ffac00" fill-rule="evenodd" d="M554.5 220.7L549.5 221.4L543.5 220.7L536.5 218.0L530.5 214.1L522.5 206.2L518.5 200.7L514.3 193.5L511.9 191.5L512.5 190.3L514.5 190.5L516.1 188.5L514.5 185.3L513.5 185.1L513.1 188.5L511.5 189.6L510.5 189.5L503.0 183.5L498.4 178.5L494.8 172.5L490.2 159.5L487.8 156.5L476.9 145.5L472.8 138.5L471.9 133.5L472.5 127.5L474.5 122.9L477.5 119.6L482.5 117.2L488.5 116.7L494.5 118.1L500.5 121.3L504.5 124.6L508.5 128.8L512.5 134.3L516.7 141.5L519.1 143.5L518.5 144.7L516.5 144.5L514.9 146.5L516.5 149.7L517.5 149.9L517.9 146.5L519.5 145.4L520.5 145.5L528.0 151.5L532.6 156.5L536.2 162.5L539.5 172.7L541.5 176.5L544.3 179.5L558.3 191.5L562.2 196.5L564.8 201.5L565.7 208.5L564.1 213.5L560.5 217.8L554.5 220.7ZM523.5 142.5L520.5 143.1L519.9 142.5L522.5 135.3L526.5 128.5L529.5 125.3L532.5 123.5L535.5 122.8L538.5 124.0L539.6 125.5L540.1 128.5L539.2 131.5L537.3 134.5L534.1 137.5L530.9 139.5L523.5 142.5ZM496.5 213.7L492.5 214.4L490.5 213.7L489.2 212.5L488.5 210.5L488.5 208.5L490.6 203.5L494.2 199.5L498.3 196.5L504.5 193.5L510.5 191.9L511.1 192.5L510.5 194.8L505.5 205.3L501.5 210.3L496.5 213.7Z"/>
<path fill="#ff9f00" fill-rule="evenodd" d="M552.5 218.5L547.5 219.3L541.5 218.5L535.5 216.3L529.5 212.6L521.5 204.8L514.3 193.5L511.9 191.5L512.5 190.3L514.5 190.5L516.2 188.5L514.5 185.2L513.5 185.0L513.1 188.5L511.5 189.6L510.5 189.5L503.1 183.5L498.6 178.5L494.7 171.5L492.0 161.5L490.7 158.5L478.9 145.5L476.8 142.5L475.1 138.5L474.4 134.5L474.9 128.5L476.7 124.5L479.5 121.5L484.5 119.0L489.5 118.4L495.5 119.7L501.5 122.8L505.5 126.0L509.5 130.3L516.7 141.5L519.1 143.5L518.5 144.7L516.5 144.5L514.8 146.5L516.5 149.8L517.5 150.0L517.9 146.5L519.5 145.4L520.5 145.5L527.9 151.5L532.4 156.5L535.9 162.5L539.0 173.5L540.5 176.8L542.8 179.5L556.0 191.5L559.7 196.5L562.0 201.5L562.8 206.5L561.3 211.5L557.5 216.0L552.5 218.5ZM523.5 142.5L520.5 143.1L519.9 142.5L522.5 135.4L526.5 128.9L529.5 126.0L532.5 124.4L535.5 124.2L537.5 125.3L538.8 127.5L538.9 129.5L537.9 132.5L535.9 135.5L530.7 139.5L523.5 142.5ZM495.5 212.7L492.5 212.4L491.1 211.5L490.1 209.5L490.2 206.5L492.2 202.5L495.8 198.5L500.3 195.5L507.4 192.5L510.5 191.9L511.1 192.5L510.5 194.8L505.5 205.0L500.5 210.4L495.5 212.7Z"/>
<path fill="#ff9200" fill-rule="evenodd" d="M550.5 216.7L545.5 217.4L539.5 216.6L533.5 214.3L528.5 211.2L521.5 204.5L514.3 193.5L511.9 191.5L512.5 190.3L514.5 190.5L516.2 188.5L514.5 185.2L513.5 184.9L513.1 188.5L511.5 189.6L510.5 189.5L503.2 183.5L498.8 178.5L495.1 171.5L492.5 160.5L491.5 158.1L480.6 145.5L478.7 142.5L477.0 138.5L476.5 133.5L477.0 129.5L478.8 125.5L481.8 122.5L486.5 120.3L491.5 120.0L496.5 121.0L502.5 124.1L509.5 130.5L513.5 136.0L516.7 141.5L519.1 143.5L518.5 144.7L516.5 144.5L514.8 146.5L516.5 149.8L517.5 150.1L517.9 146.5L519.5 145.4L520.5 145.5L527.8 151.5L532.2 156.5L535.9 163.5L538.5 174.5L539.9 177.5L554.0 191.5L556.9 195.5L559.2 200.5L560.0 205.5L558.5 210.5L555.0 214.5L550.5 216.7ZM523.5 142.5L520.5 143.1L519.9 142.5L522.5 135.5L525.5 130.5L528.5 127.4L531.5 125.6L534.5 125.3L536.5 126.2L537.8 128.5L537.8 130.5L535.4 135.5L530.5 139.5L523.5 142.5ZM498.5 210.7L494.5 211.3L491.9 209.5L491.4 206.5L492.9 202.5L496.2 198.5L500.5 195.5L504.6 193.5L510.5 191.9L511.1 192.5L510.5 194.8L506.5 203.2L502.5 208.1L498.5 210.7Z"/>
<path fill="#ff8500" fill-rule="evenodd" d="M546.5 215.6L542.5 215.8L537.5 214.9L532.5 213.0L527.5 209.9L520.5 203.1L514.3 193.5L511.9 191.5L512.5 190.3L514.5 190.5L516.2 188.5L514.5 185.1L513.5 184.9L513.1 188.5L511.5 189.6L510.5 189.5L503.2 183.5L498.9 178.5L496.6 174.5L495.1 170.5L492.5 158.2L490.8 155.5L483.5 147.5L480.3 142.5L479.1 139.5L478.3 134.5L478.8 130.5L480.6 126.5L483.7 123.5L488.5 121.5L493.5 121.3L498.5 122.6L503.5 125.4L510.5 131.9L516.7 141.5L519.1 143.5L518.5 144.7L516.5 144.5L514.8 146.5L516.5 149.9L517.5 150.1L517.9 146.5L519.5 145.4L520.5 145.5L527.8 151.5L532.1 156.5L535.6 163.5L537.7 174.5L538.8 177.5L541.2 180.5L547.6 186.5L553.0 192.5L555.5 196.5L557.0 200.5L557.3 205.5L555.3 210.5L551.5 213.9L546.5 215.6ZM523.5 142.5L520.5 143.1L519.9 142.5L522.5 135.6L525.5 130.8L528.5 127.9L530.5 126.7L533.5 126.2L535.5 127.0L536.6 128.5L537.0 130.5L536.5 132.5L534.9 135.5L530.3 139.5L523.5 142.5ZM498.5 209.9L495.5 210.2L493.0 208.5L492.5 205.5L494.2 201.5L496.6 198.5L500.7 195.5L504.7 193.5L510.5 191.9L511.1 192.5L510.5 194.8L506.5 203.0L502.5 207.5L498.5 209.9Z"/>
<path fill="#ff7900" fill-rule="evenodd" d="M546.5 213.8L541.5 214.4L536.5 213.7L531.5 211.8L526.5 208.7L520.5 203.0L513.6 192.5L511.9 191.5L512.5 190.3L514.5 190.5L516.2 188.5L514.5 185.0L513.5 184.8L513.1 188.5L511.5 189.6L510.5 189.5L503.3 183.5L499.1 178.5L495.7 171.5L493.1 157.5L484.8 147.5L480.6 139.5L479.9 134.5L480.6 130.5L482.5 127.0L485.2 124.5L489.5 122.7L493.5 122.3L498.5 123.4L503.5 125.8L510.5 132.1L517.4 142.5L519.1 143.5L518.5 144.7L516.5 144.5L514.8 146.5L516.5 150.0L517.5 150.2L517.9 146.5L519.5 145.4L520.5 145.5L527.7 151.5L531.9 156.5L535.3 163.5L537.9 177.5L540.0 180.5L546.2 186.5L551.3 192.5L553.2 195.5L554.8 199.5L555.1 204.5L553.7 208.5L550.5 211.9L546.5 213.8ZM523.5 142.5L520.5 143.1L519.9 142.5L521.5 137.8L524.5 132.3L526.5 130.0L529.5 127.8L532.5 127.0L534.5 127.6L535.5 128.6L536.1 130.5L535.9 132.5L534.5 135.5L530.1 139.5L523.5 142.5ZM499.5 208.8L496.5 209.2L494.8 208.5L493.9 207.5L493.6 204.5L495.3 200.5L498.1 197.5L500.9 195.5L504.8 193.5L510.5 191.9L511.1 192.5L510.5 194.7L506.5 202.7L503.5 206.2L499.5 208.8Z"/>
<path fill="#ff6c00" fill-rule="evenodd" d="M544.5 212.7L540.5 213.2L535.5 212.5L531.5 211.1L526.5 208.3L520.5 202.8L513.6 192.5L511.9 191.5L512.5 190.3L514.5 190.5L516.2 188.5L514.5 184.9L513.5 184.7L513.1 188.5L511.5 189.6L510.5 189.5L503.4 183.5L499.3 178.5L497.1 174.5L495.7 170.5L494.0 157.5L492.5 154.9L485.2 146.5L481.8 138.5L481.4 134.5L482.3 130.5L484.1 127.5L486.5 125.4L490.5 123.7L494.5 123.3L499.5 124.4L504.5 126.9L510.5 132.2L517.4 142.5L519.1 143.5L518.5 144.7L516.5 144.5L514.8 146.5L516.5 150.1L517.5 150.3L517.9 146.5L519.5 145.4L520.5 145.5L527.6 151.5L531.7 156.5L533.9 160.5L535.3 164.5L536.5 175.5L537.4 178.5L539.5 181.2L545.9 187.5L549.8 192.5L552.1 196.5L553.0 199.5L553.2 203.5L551.8 207.5L549.1 210.5L544.5 212.7ZM522.5 142.7L520.5 143.1L519.9 142.5L522.5 135.8L525.5 131.3L528.5 128.8L530.5 127.9L532.5 127.8L534.1 128.5L535.0 129.5L535.4 131.5L534.7 134.5L533.4 136.5L528.2 140.5L522.5 142.7ZM500.5 207.8L498.5 208.3L496.5 208.1L494.7 206.5L494.5 203.5L495.8 200.5L498.4 197.5L501.0 195.5L504.8 193.5L510.5 191.9L511.1 192.5L510.5 194.7L507.5 201.0L504.5 204.9L500.5 207.8Z"/>
<path fill="#ff5f00" fill-rule="evenodd" d="M543.5 211.5L539.5 212.1L534.5 211.5L530.5 210.1L525.5 207.2L520.5 202.6L513.6 192.5L512.0 191.5L512.5 190.4L514.5 190.5L516.3 188.5L514.5 184.8L513.5 184.6L513.1 188.5L511.5 189.6L510.5 189.5L503.5 183.5L499.4 178.5L497.3 174.5L496.0 170.5L495.2 159.5L494.5 156.6L486.3 146.5L483.1 138.5L482.8 134.5L483.5 131.5L485.2 128.5L487.5 126.3L491.5 124.6L495.5 124.2L500.5 125.3L505.5 128.0L510.5 132.4L517.4 142.5L519.0 143.5L518.5 144.6L516.5 144.5L514.7 146.5L516.5 150.2L517.5 150.4L517.9 146.5L519.5 145.4L520.5 145.5L527.5 151.5L531.6 156.5L533.7 160.5L535.0 164.5L535.8 175.5L536.5 178.5L538.5 181.3L546.3 189.5L549.6 194.5L551.2 198.5L551.4 202.5L550.2 206.5L547.5 209.5L543.5 211.5ZM522.5 142.7L520.5 143.1L519.9 142.5L521.5 137.9L524.5 132.7L526.5 130.6L529.5 128.8L531.5 128.4L533.5 129.1L534.6 130.5L534.8 132.5L533.1 136.5L528.1 140.5L522.5 142.7ZM498.5 207.6L496.5 207.0L495.3 205.5L495.4 202.5L496.8 199.5L499.8 196.5L502.9 194.5L507.6 192.5L510.5 191.9L511.1 192.5L510.5 194.7L506.5 202.3L502.5 206.2L498.5 207.6Z"/>
<path fill="#ff5200" fill-rule="evenodd" d="M541.5 210.8L537.5 211.1L532.5 210.3L528.5 208.7L524.5 206.1L519.5 201.3L513.6 192.5L512.0 191.5L512.5 190.4L514.5 190.5L516.3 188.5L514.5 184.7L513.5 184.5L513.1 188.5L511.5 189.6L510.5 189.5L504.5 184.5L499.6 178.5L497.5 174.5L496.3 170.5L495.3 156.5L494.2 154.5L487.3 146.5L485.8 143.5L484.2 138.5L484.1 134.5L484.9 131.5L486.9 128.5L489.4 126.5L493.5 125.1L497.5 125.1L501.5 126.2L506.5 129.0L511.5 133.7L517.4 142.5L519.0 143.5L518.5 144.6L516.5 144.5L514.7 146.5L516.5 150.3L517.5 150.5L517.9 146.5L519.5 145.4L520.5 145.5L526.5 150.5L531.4 156.5L533.5 160.5L534.7 164.5L535.7 178.5L537.5 181.3L545.2 189.5L548.3 194.5L549.7 198.5L549.8 202.5L548.1 206.5L545.5 209.1L541.5 210.8ZM522.5 142.7L520.5 143.1L519.9 142.5L521.5 138.0L524.5 132.9L528.5 129.6L530.5 129.0L532.7 129.5L533.7 130.5L534.2 132.5L533.9 134.5L532.8 136.5L528.0 140.5L522.5 142.7ZM500.5 206.7L498.5 206.8L496.3 205.5L496.0 202.5L497.2 199.5L500.0 196.5L503.0 194.5L507.6 192.5L510.5 191.9L511.1 192.5L510.5 194.7L507.5 200.7L504.5 204.3L500.5 206.7Z"/>
<path fill="#ff4600" fill-rule="evenodd" d="M541.5 209.6L537.5 210.3L532.5 209.7L528.5 208.2L523.5 205.1L518.5 200.0L513.6 192.5L512.0 191.5L512.5 190.4L514.5 190.5L516.3 188.5L514.5 184.6L513.5 184.4L513.1 188.5L511.5 189.6L510.5 189.5L504.6 184.5L499.7 178.5L497.7 174.5L496.6 170.5L496.1 156.5L494.5 153.7L488.2 146.5L486.7 143.5L485.3 138.5L485.2 135.5L485.8 132.5L487.6 129.5L489.8 127.5L493.5 126.0L497.5 125.8L502.5 127.1L506.5 129.3L511.5 133.8L517.4 142.5L519.0 143.5L518.5 144.6L516.5 144.5L514.7 146.5L516.5 150.4L517.5 150.6L517.9 146.5L519.5 145.4L520.5 145.5L526.4 150.5L531.3 156.5L533.3 160.5L534.4 164.5L534.8 168.5L534.6 176.5L535.3 179.5L544.2 189.5L547.1 194.5L548.1 197.5L548.4 201.5L547.5 204.5L545.2 207.5L541.5 209.6ZM522.5 142.7L520.5 143.1L519.9 142.5L521.5 138.0L524.5 133.1L528.5 130.0L530.5 129.6L532.5 130.2L533.5 131.5L533.7 133.5L533.1 135.5L531.7 137.5L527.9 140.5L522.5 142.7ZM501.5 205.9L498.5 206.1L496.7 204.5L496.7 201.5L497.5 199.5L500.2 196.5L503.1 194.5L507.6 192.5L510.5 191.9L511.1 192.5L510.5 194.7L507.5 200.6L504.5 204.1L501.5 205.9Z"/>
<path fill="#ff3900" fill-rule="evenodd" d="M536.5 209.5L529.5 208.2L522.5 204.1L518.5 199.9L513.6 192.5L512.0 191.5L512.5 190.4L514.5 190.5L516.3 188.5L514.5 184.6L513.5 184.4L513.1 188.5L511.5 189.6L510.5 189.5L503.7 183.5L499.3 177.5L497.6 173.5L496.7 169.5L497.0 158.5L496.5 155.5L489.1 146.5L487.2 142.5L486.3 138.5L486.2 135.5L487.0 132.5L489.0 129.5L491.5 127.7L495.5 126.5L499.5 126.6L503.5 127.9L507.5 130.2L511.5 133.9L517.4 142.5L519.0 143.5L518.5 144.6L516.5 144.5L514.7 146.5L516.5 150.4L517.5 150.6L517.9 146.5L519.5 145.4L520.5 145.5L527.3 151.5L531.7 157.5L533.4 161.5L534.3 165.5L534.0 176.5L534.5 179.5L543.9 190.5L546.3 195.5L547.1 198.5L546.8 202.5L544.5 206.3L541.3 208.5L536.5 209.5ZM522.5 142.7L520.5 143.1L519.9 142.5L521.5 138.1L524.5 133.3L528.5 130.3L530.5 130.1L531.8 130.5L532.8 131.5L533.3 133.5L532.2 136.5L527.8 140.5L522.5 142.7ZM500.5 205.6L498.5 205.3L497.1 203.5L497.1 201.5L498.5 198.5L503.2 194.5L507.6 192.5L510.5 191.9L511.1 192.5L510.5 194.6L507.5 200.5L504.5 203.8L500.5 205.6Z"/>
<path fill="#ff2c00" fill-rule="evenodd" d="M537.5 208.7L534.5 208.8L530.5 208.1L526.5 206.5L522.5 203.9L518.5 199.8L513.6 192.5L512.0 191.5L512.5 190.4L514.5 190.5L516.3 188.5L514.5 184.5L513.5 184.3L513.1 188.5L511.5 189.6L510.5 189.5L504.7 184.5L500.0 178.5L498.1 174.5L497.0 169.5L497.6 157.5L497.2 155.5L496.1 153.5L489.9 146.5L487.5 140.5L487.1 136.5L487.7 133.5L489.4 130.5L491.8 128.5L495.5 127.2L499.5 127.1L503.5 128.2L507.5 130.4L511.5 134.0L517.4 142.5L519.0 143.5L518.5 144.6L516.5 144.5L514.7 146.5L516.5 150.5L517.5 150.7L517.9 146.5L519.5 145.4L520.5 145.5L526.3 150.5L531.0 156.5L532.9 160.5L534.0 165.5L533.4 177.5L533.8 179.5L534.9 181.5L543.0 190.5L544.5 193.5L545.9 198.5L545.4 202.5L543.6 205.5L541.0 207.5L537.5 208.7ZM522.5 142.7L520.5 143.1L519.9 142.5L521.5 138.1L523.5 134.7L527.5 131.0L529.5 130.5L531.5 131.0L532.9 133.5L532.5 135.5L531.3 137.5L527.6 140.5L522.5 142.7ZM502.5 204.7L499.5 205.0L497.8 203.5L497.5 201.5L498.8 198.5L503.4 194.5L507.7 192.5L510.5 191.9L511.1 192.5L510.5 194.6L508.5 198.8L505.5 202.7L502.5 204.7Z"/>
<path fill="#ff1f00" fill-rule="evenodd" d="M538.5 207.6L534.5 208.2L530.5 207.7L526.5 206.2L522.5 203.7L518.5 199.7L513.6 192.5L512.0 191.5L512.5 190.4L514.5 190.5L516.4 188.5L514.5 184.4L513.5 184.3L513.1 188.5L511.5 189.6L510.5 189.5L504.7 184.5L500.1 178.5L498.0 173.5L497.3 169.5L497.9 155.5L497.0 153.5L490.6 146.5L488.2 140.5L488.1 136.5L488.7 133.5L490.5 130.7L492.5 129.1L495.5 127.8L499.5 127.6L503.5 128.6L507.5 130.6L511.5 134.1L517.4 142.5L519.0 143.5L518.5 144.6L516.5 144.5L514.6 146.5L516.5 150.6L517.5 150.7L517.9 146.5L519.5 145.4L520.5 145.5L526.3 150.5L530.9 156.5L533.0 161.5L533.7 165.5L533.1 179.5L534.0 181.5L542.2 190.5L543.6 193.5L544.7 197.5L544.7 200.5L543.6 203.5L541.5 206.0L538.5 207.6ZM522.5 142.7L520.5 143.1L519.9 142.5L521.5 138.2L523.5 134.8L527.5 131.3L529.5 130.9L531.5 131.6L532.2 132.5L532.4 134.5L531.1 137.5L527.5 140.5L522.5 142.7ZM501.5 204.6L499.5 204.4L498.0 202.5L498.1 200.5L499.0 198.5L503.5 194.5L507.7 192.5L510.5 191.9L511.1 192.5L510.5 194.6L507.5 200.2L504.5 203.3L501.5 204.6Z"/>
<path fill="#ff1300" fill-rule="evenodd" d="M534.5 207.6L530.5 207.3L525.5 205.4L521.5 202.7L518.5 199.7L513.6 192.5L512.0 191.5L512.5 190.4L514.6 190.5L516.4 188.5L514.5 184.4L513.5 184.2L513.0 188.5L511.5 189.5L510.5 189.5L504.8 184.5L500.3 178.5L498.2 173.5L497.5 169.5L498.5 155.1L497.5 153.2L491.3 146.5L489.0 140.5L488.9 136.5L489.7 133.5L490.9 131.5L493.5 129.4L496.5 128.3L500.5 128.2L504.5 129.3L508.5 131.5L512.5 135.3L517.4 142.5L519.0 143.5L518.5 144.6L516.4 144.5L514.6 146.5L516.5 150.6L517.5 150.8L518.0 146.5L519.5 145.5L520.5 145.5L526.2 150.5L530.7 156.5L532.8 161.5L533.5 165.5L532.5 179.9L533.5 181.8L541.4 190.5L543.1 194.5L543.8 198.5L543.3 201.5L541.5 204.6L538.5 206.7L534.5 207.6ZM522.5 142.7L520.5 143.1L519.9 142.5L521.5 138.2L524.5 133.7L526.5 132.1L528.5 131.3L530.5 131.5L531.5 132.3L532.1 133.5L531.9 135.5L530.0 138.5L527.4 140.5L522.5 142.7ZM503.5 203.7L501.5 204.3L499.2 203.5L498.3 201.5L499.3 198.5L503.6 194.5L507.7 192.5L510.5 191.9L511.1 192.5L510.5 194.6L508.5 198.6L506.5 201.4L503.5 203.7Z"/>
<path fill="#ff0600" fill-rule="evenodd" d="M536.5 206.6L533.5 207.1L529.5 206.6L525.5 205.2L522.5 203.4L518.5 199.6L513.6 192.5L512.0 191.5L512.5 190.4L514.6 190.5L516.4 188.5L514.5 184.3L513.5 184.1L513.0 188.5L511.5 189.5L510.5 189.5L504.8 184.5L500.4 178.5L498.7 174.5L497.8 169.5L497.9 164.5L499.2 156.5L499.0 154.5L497.7 152.5L492.0 146.5L490.4 143.5L489.6 140.5L489.7 136.5L490.6 133.5L492.0 131.5L494.5 129.6L497.5 128.7L501.5 128.7L505.5 129.9L508.5 131.7L512.5 135.4L517.4 142.5L519.0 143.5L518.5 144.6L516.4 144.5L514.6 146.5L516.5 150.7L517.5 150.9L518.0 146.5L519.5 145.5L520.5 145.5L526.2 150.5L530.6 156.5L532.3 160.5L533.2 165.5L533.1 170.5L531.8 178.5L532.0 180.5L533.3 182.5L540.0 189.5L541.7 192.5L542.7 196.5L542.8 199.5L541.8 202.5L539.5 205.1L536.5 206.6ZM522.5 142.7L520.5 143.1L519.9 142.5L521.5 138.3L523.5 135.0L525.5 133.0L527.5 131.8L530.5 132.0L531.5 133.1L531.8 134.5L530.7 137.5L527.4 140.5L522.5 142.7ZM502.5 203.8L500.5 203.7L499.0 202.5L498.8 200.5L500.2 197.5L502.2 195.5L505.4 193.5L510.5 191.9L511.1 192.5L510.5 194.6L507.5 200.0L505.5 202.2L502.5 203.8Z"/>
<path fill="#ff0000" fill-rule="evenodd" d="M533.5 206.5L530.5 206.4L526.5 205.4L520.5 201.6L517.5 198.3L513.6 192.5L512.0 191.5L512.5 190.4L514.6 190.5L516.4 188.5L514.5 184.2L513.5 184.1L513.0 188.5L511.5 189.5L510.5 189.4L503.9 183.5L500.0 177.5L498.6 173.5L498.0 168.5L499.8 156.5L499.6 154.5L498.5 152.5L492.6 146.5L491.1 143.5L490.3 140.5L490.3 137.5L491.5 133.5L493.0 131.5L495.5 129.8L498.5 129.0L502.5 129.3L506.5 130.6L509.5 132.6L513.5 136.7L517.4 142.5L519.0 143.5L518.5 144.6L516.4 144.5L514.6 146.5L516.5 150.8L517.5 150.9L518.0 146.5L519.5 145.5L520.5 145.6L527.1 151.5L531.0 157.5L532.4 161.5L533.0 166.5L531.2 178.5L531.4 180.5L532.5 182.5L536.7 186.5L540.0 190.5L541.4 193.5L541.9 196.5L541.6 200.5L540.0 203.5L537.4 205.5L533.5 206.5ZM522.5 142.7L520.5 143.1L519.9 142.5L521.5 138.3L523.5 135.1L525.5 133.1L527.5 132.1L530.5 132.5L531.5 134.5L530.5 137.5L527.3 140.5L522.5 142.7ZM501.5 203.5L499.5 202.5L499.1 201.5L499.3 199.5L500.4 197.5L502.4 195.5L505.5 193.5L510.5 191.9L511.1 192.5L510.5 194.5L507.5 199.9L504.5 202.7L501.5 203.5Z"/></g>
<g clip-path="url(#cpc)"><path fill="#e9ffff" fill-rule="evenodd" d="M110.5 511.5L102.5 510.9L99.5 509.6L98.3 508.5L97.6 505.5L98.5 503.5L98.4 500.5L99.5 498.8L103.5 495.9L110.3 493.5L124.5 491.0L127.5 489.8L130.5 487.2L139.0 477.5L140.7 474.5L140.8 472.5L138.2 467.5L125.7 452.5L117.7 441.5L112.2 432.5L107.3 422.5L103.3 411.5L100.9 400.5L100.2 389.5L101.2 379.5L103.4 371.5L106.6 364.5L110.7 358.5L116.5 353.0L122.5 349.3L128.5 347.1L135.5 346.2L142.5 346.8L148.5 348.5L154.5 351.6L159.5 356.1L163.5 360.7L168.2 367.5L171.8 374.5L175.0 382.5L177.5 391.8L179.7 408.5L179.5 427.5L176.9 449.5L171.0 479.5L171.1 481.5L170.0 482.5L169.5 488.5L166.5 487.5L159.5 491.8L153.5 494.0L147.5 494.6L135.5 494.6L131.5 495.2L128.2 497.5L122.5 505.7L119.6 508.5L115.5 510.6L110.5 511.5ZM195.5 654.6L189.5 655.1L184.5 654.4L180.5 653.2L175.5 650.0L170.5 645.5L166.4 640.5L162.5 634.0L159.3 626.5L157.2 619.5L155.6 611.5L154.5 594.5L155.6 575.5L159.1 551.5L164.0 527.5L163.9 525.5L165.0 524.5L165.5 518.5L168.5 519.5L175.5 515.2L182.5 512.8L200.5 512.5L204.5 511.9L207.5 509.7L212.5 502.5L214.5 500.5L218.5 498.5L222.5 498.4L225.2 499.5L226.7 501.5L226.9 505.5L225.2 508.5L220.5 511.6L210.5 514.2L207.5 515.5L195.5 529.7L193.8 533.5L194.0 535.5L195.6 538.5L207.4 554.5L213.2 563.5L217.4 571.5L220.8 579.5L223.9 589.5L225.7 599.5L226.1 609.5L225.3 618.5L223.7 625.5L221.5 631.6L218.5 637.4L214.9 642.5L210.5 647.1L205.5 650.8L200.5 653.2L195.5 654.6Z"/>
<path fill="#bfffff" fill-rule="evenodd" d="M154.5 493.7L148.5 494.4L140.5 494.1L134.5 493.1L132.2 491.5L132.0 489.5L133.3 486.5L141.2 475.5L141.8 473.5L141.5 471.7L138.5 466.7L125.8 450.5L119.1 439.5L112.9 425.5L109.9 412.5L109.3 403.5L110.0 395.5L111.8 388.5L114.9 381.5L119.2 375.5L124.5 370.7L130.5 367.5L136.5 365.9L144.5 365.9L151.5 367.8L156.5 370.4L162.5 376.1L167.5 382.8L172.1 391.5L175.5 401.4L177.5 411.4L178.5 425.5L177.6 441.5L175.0 460.5L171.0 479.5L171.1 481.5L170.0 482.5L169.5 488.5L166.5 487.5L159.5 491.8L154.5 493.7ZM187.5 636.5L180.5 635.5L175.5 633.0L169.5 627.8L164.5 621.0L160.8 613.5L158.1 604.5L156.5 594.5L156.0 583.5L156.6 571.5L158.2 557.5L161.9 536.5L164.0 527.5L163.9 525.5L165.0 524.5L165.5 518.5L168.5 519.5L174.5 515.7L178.5 513.9L182.5 512.9L188.5 512.5L198.5 513.5L201.0 514.5L202.0 515.5L202.2 517.5L201.2 520.5L193.5 531.2L192.9 534.5L194.6 538.5L207.2 557.5L212.2 567.5L216.7 581.5L217.8 588.5L218.2 595.5L217.6 603.5L215.9 611.5L213.1 618.5L209.5 624.3L204.7 629.5L199.5 633.2L193.5 635.7L187.5 636.5Z"/>
<path fill="#94ffff" fill-rule="evenodd" d="M154.5 493.6L148.5 494.3L141.5 493.8L136.5 492.5L134.5 490.5L134.2 488.5L135.2 485.5L141.5 476.5L142.4 474.5L142.5 472.5L140.5 468.4L128.6 452.5L122.8 442.5L117.9 430.5L115.5 419.5L115.1 411.5L115.8 404.5L117.7 397.5L120.5 391.6L124.5 386.3L129.5 382.0L134.5 379.5L140.5 378.0L147.5 378.2L153.5 379.9L157.5 382.0L163.5 387.8L168.5 394.7L172.4 402.5L175.3 411.5L176.9 420.5L177.6 433.5L176.7 447.5L174.0 465.5L171.0 479.5L171.1 481.5L170.0 482.5L169.5 488.5L166.5 487.4L159.5 491.8L154.5 493.6ZM188.5 624.6L182.5 624.7L177.5 623.4L171.5 619.2L166.5 613.7L162.5 606.8L159.5 598.6L157.7 589.5L156.9 579.5L157.2 569.5L158.4 557.5L161.0 541.5L164.0 527.5L163.9 525.5L165.0 524.5L165.5 518.5L168.5 519.6L174.5 515.8L178.5 513.9L186.5 512.7L195.5 513.5L198.2 514.5L200.0 516.5L200.2 518.5L199.3 521.5L192.5 531.4L192.0 534.5L193.5 538.0L203.8 554.5L208.1 563.5L211.8 575.5L213.1 586.5L212.8 593.5L211.5 600.5L209.5 606.5L206.5 612.0L202.5 617.0L198.5 620.4L193.5 623.2L188.5 624.6Z"/>
<path fill="#6affff" fill-rule="evenodd" d="M154.5 493.6L148.5 494.2L142.5 493.7L138.5 492.5L136.2 490.5L135.7 488.5L136.3 485.5L142.8 475.5L143.2 472.5L141.2 468.5L131.0 454.5L126.0 445.5L121.9 435.5L119.6 424.5L119.3 417.5L120.0 410.5L121.7 404.5L124.5 398.8L128.5 393.7L132.5 390.4L137.5 387.9L142.5 386.7L149.5 386.9L155.5 388.7L159.5 391.3L164.5 396.4L168.8 402.5L172.5 410.2L175.0 418.5L176.4 426.5L177.0 437.5L176.2 450.5L174.0 465.5L171.0 479.5L171.1 481.5L170.0 482.5L169.5 488.5L166.5 487.4L159.5 491.7L154.5 493.6ZM184.5 616.5L178.5 615.9L174.5 614.0L169.5 609.9L164.5 603.3L161.3 596.5L159.0 588.5L157.8 579.5L157.6 569.5L160.0 547.5L164.0 527.5L163.9 525.5L165.0 524.5L165.5 518.5L168.5 519.6L174.5 515.8L178.5 514.0L182.5 513.1L187.5 512.8L195.5 514.1L197.8 515.5L198.9 517.5L198.9 519.5L197.8 522.5L191.7 531.5L191.3 534.5L192.5 537.6L200.9 551.5L205.9 562.5L208.8 573.5L209.5 583.5L209.0 589.5L207.5 595.9L205.2 601.5L202.1 606.5L198.5 610.5L194.5 613.5L189.5 615.7L184.5 616.5Z"/>
<path fill="#3fffff" fill-rule="evenodd" d="M153.5 493.7L148.5 494.1L142.5 493.3L138.4 491.5L137.0 489.5L137.2 485.5L138.7 482.5L143.5 475.5L143.8 472.5L141.9 468.5L132.0 454.5L128.3 447.5L124.5 437.5L122.6 427.5L122.5 420.5L123.4 414.5L125.4 408.5L128.1 403.5L131.5 399.5L135.5 396.4L140.5 394.1L145.5 393.2L151.5 393.6L157.5 395.8L161.5 398.9L165.5 403.2L169.5 409.2L172.8 416.5L175.0 424.5L176.3 433.5L176.4 443.5L175.6 454.5L173.1 470.5L171.0 479.5L171.1 481.5L170.0 482.5L169.5 488.5L166.5 487.4L159.5 491.7L153.5 493.7ZM187.5 609.5L181.5 610.2L176.5 609.2L171.5 606.0L167.1 601.5L163.5 595.8L160.5 588.2L158.8 580.5L158.1 571.5L158.3 562.5L159.3 552.5L161.9 536.5L164.0 527.5L163.9 525.5L165.0 524.5L165.5 518.5L168.5 519.6L174.5 515.8L178.5 514.0L185.5 512.9L190.5 513.3L194.5 514.3L196.5 515.5L197.7 517.5L197.9 519.5L197.0 522.5L191.0 531.5L190.6 534.5L191.8 537.5L198.9 549.5L202.9 558.5L205.8 568.5L206.7 577.5L206.4 583.5L205.5 588.5L203.9 593.5L201.5 598.3L198.5 602.4L195.5 605.4L191.5 608.0L187.5 609.5Z"/>
<path fill="#15ffff" fill-rule="evenodd" d="M153.5 493.7L148.5 493.9L143.5 493.3L139.5 491.5L138.0 489.5L137.7 487.5L138.4 484.5L144.2 475.5L144.4 472.5L142.5 468.6L132.9 454.5L130.4 449.5L127.0 440.5L125.1 430.5L125.1 424.5L126.0 418.5L127.5 413.5L130.2 408.5L133.5 404.5L137.5 401.4L141.5 399.5L146.5 398.5L152.5 398.9L158.5 401.1L162.5 404.4L166.2 408.5L170.0 414.5L172.9 421.5L174.8 428.5L175.9 436.5L176.1 446.5L175.3 456.5L173.1 470.5L171.0 479.5L171.1 481.5L170.0 482.5L169.5 488.5L166.5 487.4L159.5 491.7L153.5 493.7ZM186.5 604.5L181.5 605.2L176.5 604.4L171.5 601.5L166.5 596.3L163.1 590.5L160.5 583.4L159.0 575.5L158.5 567.5L158.8 558.5L160.1 547.5L164.0 527.5L163.9 525.5L165.0 524.5L165.5 518.5L168.5 519.6L174.5 515.8L178.5 514.1L185.5 513.0L190.5 513.5L193.8 514.5L195.5 515.5L196.8 517.5L197.0 519.5L196.3 522.5L190.4 531.5L190.0 534.5L198.0 549.5L201.3 557.5L203.7 566.5L204.5 574.5L204.1 580.5L203.1 585.5L199.5 594.0L196.5 598.1L193.5 600.9L190.5 602.9L186.5 604.5Z"/>
<path fill="#00f8ff" fill-rule="evenodd" d="M153.5 493.6L148.5 493.8L144.5 493.2L140.4 491.5L138.8 489.5L138.4 487.5L139.1 484.5L144.7 475.5L145.0 472.5L143.5 469.3L135.0 456.5L131.8 450.5L128.7 441.5L127.2 432.5L127.3 426.5L128.1 421.5L129.8 416.5L132.5 411.8L135.5 408.3L139.5 405.4L143.5 403.6L148.5 402.8L153.5 403.2L158.5 405.0L163.5 409.1L167.2 413.5L170.5 419.2L173.0 425.5L174.8 432.5L175.7 440.5L175.7 449.5L174.8 459.5L172.1 475.5L171.0 479.5L171.1 481.5L170.0 482.5L169.5 488.5L166.5 487.4L159.5 491.6L153.5 493.6ZM184.5 600.7L179.5 601.0L175.5 600.1L170.5 596.9L165.5 591.2L162.5 585.5L160.5 579.4L159.1 571.5L158.8 563.5L160.3 546.5L164.0 527.5L163.9 525.5L165.0 524.5L165.5 518.5L168.5 519.6L174.5 515.9L178.5 514.1L185.5 513.1L192.8 514.5L194.6 515.5L196.0 517.5L196.3 519.5L195.6 522.5L189.8 531.5L189.5 534.5L196.8 548.5L199.9 556.5L201.9 564.5L202.6 572.5L201.3 582.5L199.5 587.4L197.5 591.0L194.5 594.8L191.5 597.5L188.5 599.3L184.5 600.7Z"/>
<path fill="#00ebff" fill-rule="evenodd" d="M156.5 492.7L151.5 493.4L147.5 493.1L143.6 491.5L141.7 489.5L141.1 487.5L141.5 484.5L142.9 481.5L146.5 476.5L147.3 473.5L146.2 470.5L140.1 460.5L136.6 453.5L134.8 447.5L133.9 441.5L133.9 436.5L134.8 431.5L136.2 427.5L138.5 423.5L141.5 420.2L144.5 418.2L147.5 416.9L151.5 416.1L156.5 416.6L160.5 418.2L164.5 421.5L167.5 425.1L170.5 430.1L172.5 435.1L173.9 440.5L174.8 447.5L174.9 455.5L174.0 464.5L171.0 479.5L171.1 481.5L170.0 482.5L169.5 488.5L166.5 487.4L160.5 491.0L156.5 492.7ZM182.5 587.8L178.5 588.4L174.5 587.8L169.5 584.6L165.5 580.0L163.1 575.5L161.1 569.5L160.0 562.5L159.8 555.5L161.2 541.5L164.0 527.5L163.9 525.5L165.0 524.5L165.5 518.5L168.5 519.6L176.5 515.0L180.5 513.9L184.5 513.6L190.5 515.0L192.6 516.5L193.7 518.5L193.8 520.5L192.9 523.5L188.1 530.5L187.3 533.5L188.2 536.5L192.8 545.5L195.0 551.5L196.5 559.5L196.8 565.5L195.4 573.5L192.5 579.9L187.5 585.3L182.5 587.8Z"/>
<path fill="#00dfff" fill-rule="evenodd" d="M155.5 492.7L151.5 493.1L148.0 492.5L144.5 490.5L143.2 488.5L142.9 486.5L143.6 483.5L148.3 476.5L149.0 473.5L140.3 456.5L138.5 450.5L137.9 445.5L138.8 437.5L140.3 433.5L142.5 430.1L147.5 425.8L150.5 424.6L154.5 424.1L158.5 424.6L161.5 425.9L165.5 429.3L168.5 433.1L170.9 437.5L172.7 442.5L174.0 448.5L174.4 454.5L173.1 469.5L171.0 479.5L171.1 481.5L170.0 482.5L169.5 488.5L166.5 487.4L160.5 490.9L155.5 492.7ZM179.5 580.5L174.5 580.5L171.5 579.2L167.5 576.0L164.9 572.5L162.5 567.3L161.2 562.5L160.5 556.5L160.5 549.5L162.0 536.5L164.0 527.5L163.9 525.5L165.0 524.5L165.5 518.5L168.5 519.6L176.5 515.2L180.5 514.1L183.5 513.9L187.0 514.5L189.2 515.5L191.3 517.5L192.0 519.5L191.3 523.5L186.4 530.5L185.6 532.5L186.3 535.5L190.1 543.5L192.2 549.5L193.1 555.5L193.2 561.5L191.7 568.5L188.6 574.5L184.5 578.4L179.5 580.5Z"/>
<path fill="#00d2ff" fill-rule="evenodd" d="M155.5 492.5L151.5 492.7L148.5 491.9L146.1 490.5L144.7 488.5L144.4 486.5L145.0 483.5L149.9 476.5L150.5 474.5L149.5 471.5L143.0 458.5L141.3 452.5L140.8 448.5L141.7 441.5L144.6 435.5L149.5 431.2L152.5 430.0L155.5 429.6L158.5 429.8L161.5 430.8L165.5 434.0L168.5 437.6L170.5 441.1L172.6 446.5L173.6 451.5L174.1 457.5L172.9 470.5L171.0 479.5L171.1 481.5L170.0 482.5L169.5 488.5L166.5 487.3L160.5 490.8L155.5 492.5ZM176.5 575.6L173.5 575.3L169.5 573.2L166.5 570.2L163.5 565.3L161.9 560.5L161.0 555.5L161.3 542.5L162.9 531.5L164.0 527.5L163.9 525.5L165.0 524.5L165.5 518.5L168.5 519.7L176.5 515.3L180.5 514.3L183.5 514.3L186.5 515.1L188.5 516.2L189.8 517.5L190.5 519.5L190.0 523.5L185.0 530.5L184.2 532.5L184.6 534.5L188.3 542.5L190.0 547.5L190.8 552.5L190.7 557.5L189.3 564.5L186.5 569.9L184.5 572.1L181.5 574.2L176.5 575.6Z"/>
<path fill="#00c5ff" fill-rule="evenodd" d="M158.5 491.5L154.5 492.4L150.5 492.0L147.5 490.5L146.0 488.5L145.6 486.5L146.2 483.5L151.1 476.5L151.7 474.5L145.1 460.5L143.7 455.5L143.1 450.5L143.9 444.5L147.1 438.5L151.5 434.9L156.5 433.7L159.5 433.9L162.5 435.1L165.5 437.4L168.5 440.9L171.0 445.5L172.5 449.5L173.8 458.5L172.9 470.5L171.0 479.5L171.1 481.5L170.0 482.5L169.5 488.4L166.5 487.3L158.5 491.5ZM176.5 571.6L173.5 571.6L170.5 570.3L167.5 568.0L164.5 563.9L162.5 559.1L161.5 554.6L161.1 548.5L161.4 542.5L162.9 531.5L164.0 527.5L163.9 525.5L165.0 524.5L165.5 518.6L168.5 519.7L176.5 515.5L182.5 514.6L185.5 515.3L187.5 516.5L189.3 519.5L189.4 521.5L188.3 524.5L183.7 530.5L183.1 532.5L188.1 545.5L189.0 550.5L188.9 555.5L187.5 561.5L184.8 566.5L181.5 569.7L176.5 571.6Z"/>
<path fill="#00b8ff" fill-rule="evenodd" d="M157.5 491.7L153.5 492.1L150.4 491.5L147.6 489.5L146.7 487.5L147.1 483.5L152.3 476.5L152.7 474.5L146.7 461.5L145.0 452.5L145.8 446.5L148.5 441.5L152.5 438.2L157.5 436.9L160.5 437.2L163.5 438.6L166.5 441.1L169.5 445.1L172.6 452.5L173.6 461.5L172.9 470.5L171.0 479.5L171.1 481.5L170.0 482.5L169.5 488.4L166.5 487.3L161.5 490.1L157.5 491.7ZM175.5 568.6L172.5 568.3L168.5 566.2L165.5 562.9L163.5 559.2L162.1 554.5L161.4 549.5L162.0 537.5L164.0 527.5L163.9 525.5L165.0 524.5L165.5 518.6L168.5 519.7L176.5 515.6L179.5 514.9L182.5 515.0L186.4 516.5L188.3 519.5L187.9 523.5L186.1 526.5L182.6 530.5L182.1 532.5L187.0 545.5L187.6 550.5L187.4 554.5L186.0 559.5L183.0 564.5L179.5 567.3L175.5 568.6Z"/>
<path fill="#00acff" fill-rule="evenodd" d="M157.5 491.5L154.5 491.9L151.5 491.4L148.6 489.5L147.6 487.5L147.5 485.5L148.5 482.5L153.6 475.5L153.2 473.5L148.0 462.5L146.8 457.5L146.6 453.5L147.6 447.5L150.0 443.5L153.5 440.8L158.5 439.5L161.5 439.9L163.5 440.9L166.5 443.3L169.5 447.1L172.5 454.2L173.4 463.5L172.1 475.5L171.0 479.5L171.1 481.5L170.0 482.5L169.5 488.4L166.5 487.2L161.5 490.0L157.5 491.5ZM176.5 565.8L173.5 566.1L170.5 565.2L167.5 563.1L164.5 559.2L162.9 555.5L161.8 550.5L161.5 545.5L161.9 538.5L164.0 527.5L163.9 525.5L165.0 524.5L165.5 518.6L168.5 519.8L175.5 516.1L178.5 515.3L181.5 515.2L185.5 516.6L187.1 518.5L187.5 520.5L186.5 524.5L181.3 531.5L181.5 533.5L185.6 543.5L186.3 551.5L185.3 556.5L183.3 560.5L180.5 563.7L176.5 565.8Z"/>
<path fill="#009fff" fill-rule="evenodd" d="M156.5 491.6L151.5 490.9L149.5 489.5L148.4 487.5L148.2 485.5L149.2 482.5L153.4 477.5L154.5 475.5L149.2 463.5L148.1 458.5L147.9 454.5L148.8 449.5L151.5 445.0L155.5 442.4L159.5 441.7L162.5 442.3L165.5 444.3L168.5 447.4L170.5 450.5L172.8 457.5L173.2 466.5L172.1 475.5L171.0 479.5L171.1 481.5L170.0 482.5L169.5 488.3L166.5 487.2L160.5 490.4L156.5 491.6ZM176.5 563.5L173.5 564.1L170.5 563.3L167.5 561.2L165.2 558.5L163.5 555.3L162.2 550.5L161.8 540.5L162.9 531.5L164.0 527.5L163.9 525.5L165.0 524.5L165.5 518.7L168.5 519.8L175.5 516.2L180.5 515.4L184.5 516.6L186.2 518.5L186.8 520.5L185.8 524.5L180.5 531.5L184.8 543.5L185.3 550.5L184.5 554.5L182.5 558.7L179.5 561.9L176.5 563.5Z"/>
<path fill="#0092ff" fill-rule="evenodd" d="M159.5 490.7L155.5 491.4L152.5 490.9L150.3 489.5L148.9 486.5L149.9 482.5L154.5 477.1L155.2 475.5L149.7 462.5L149.0 457.5L149.5 452.5L151.2 448.5L153.5 445.8L156.5 444.1L159.5 443.6L162.5 444.0L164.5 445.2L167.5 447.7L169.5 450.3L172.2 456.5L173.2 464.5L172.0 475.5L171.0 479.5L171.1 481.5L170.0 482.5L169.5 488.3L166.5 487.2L159.5 490.7ZM176.5 561.6L173.5 562.3L170.5 561.6L167.5 559.7L164.5 555.9L162.8 551.5L162.0 547.5L162.1 537.5L164.0 527.5L163.9 525.5L165.0 524.5L165.5 518.7L168.5 519.8L175.5 516.3L180.5 515.6L182.5 516.1L184.7 517.5L186.1 520.5L185.1 524.5L180.8 529.5L179.8 531.5L183.9 542.5L184.4 549.5L183.5 553.6L181.5 557.5L179.5 559.8L176.5 561.6Z"/>
<path fill="#0085ff" fill-rule="evenodd" d="M159.5 490.6L156.5 491.2L153.5 490.9L151.0 489.5L149.8 487.5L149.6 485.5L150.5 482.5L154.9 477.5L155.9 475.5L151.0 464.5L150.0 457.5L150.8 452.5L153.1 448.5L156.5 446.0L160.5 445.3L162.5 445.6L165.5 447.3L169.5 451.5L172.1 457.5L173.0 465.5L172.0 475.5L171.0 479.5L171.1 481.5L170.0 482.5L169.5 488.3L166.5 487.1L159.5 490.6ZM174.5 560.6L172.5 560.7L169.5 559.7L166.5 557.4L164.5 554.5L162.9 550.5L162.1 546.5L162.3 536.5L164.0 527.5L163.9 525.5L165.0 524.5L165.5 518.7L168.5 519.9L175.5 516.4L180.5 515.9L184.0 517.5L185.4 520.5L184.5 524.5L180.1 529.5L179.1 531.5L183.0 541.5L183.6 545.5L183.5 549.5L182.4 553.5L180.5 556.7L177.5 559.4L174.5 560.6Z"/>
<path fill="#0079ff" fill-rule="evenodd" d="M158.5 490.7L155.5 491.0L153.4 490.5L151.7 489.5L150.4 487.5L150.1 485.5L151.1 482.5L155.6 477.5L156.5 475.5L151.9 465.5L151.0 461.5L150.9 457.5L152.2 452.5L154.5 449.2L157.5 447.3L161.5 446.8L163.5 447.4L166.5 449.3L170.5 454.3L172.7 461.5L172.8 469.5L170.9 479.5L171.1 481.5L170.0 482.5L169.5 488.2L166.5 487.1L158.5 490.7ZM175.5 558.9L172.5 559.4L169.5 558.5L166.5 556.2L164.6 553.5L162.3 546.5L162.2 537.5L164.1 527.5L163.9 525.5L165.0 524.5L165.5 518.8L168.5 519.9L174.5 516.9L179.5 516.0L183.3 517.5L184.9 520.5L183.9 524.5L179.4 529.5L178.5 531.5L182.2 540.5L182.9 547.5L182.1 551.5L180.5 554.7L178.5 557.0L175.5 558.9Z"/>
<path fill="#006cff" fill-rule="evenodd" d="M158.5 490.6L155.5 490.7L153.5 490.2L151.4 488.5L150.7 486.5L151.6 482.5L156.3 477.5L157.0 475.5L152.7 466.5L151.8 462.5L151.6 458.5L152.5 454.5L154.5 451.1L157.5 448.8L161.5 448.1L163.5 448.5L166.5 450.3L170.5 455.3L172.5 461.5L172.8 469.5L171.8 476.5L170.9 479.5L171.1 481.5L170.0 482.5L169.5 488.2L166.5 487.1L158.5 490.6ZM175.5 557.5L172.5 558.2L169.5 557.4L166.5 555.1L164.6 552.5L162.4 545.5L162.3 536.5L164.1 527.5L163.9 525.5L165.0 524.5L165.5 518.8L168.5 519.9L174.5 517.0L179.5 516.3L182.6 517.5L184.3 520.5L183.4 524.5L178.1 530.5L178.3 532.5L181.7 540.5L182.2 547.5L180.1 553.5L178.5 555.5L175.5 557.5Z"/>
<path fill="#005fff" fill-rule="evenodd" d="M157.5 490.6L155.5 490.5L153.0 489.5L151.2 486.5L152.1 482.5L157.5 476.5L157.5 475.5L152.9 465.5L152.4 458.5L153.5 454.5L155.7 451.5L158.5 449.7L162.5 449.3L164.5 450.0L167.5 452.2L169.5 454.5L171.5 458.4L172.8 465.5L172.2 474.5L170.9 479.5L171.1 481.5L170.0 482.5L169.5 488.2L166.5 487.0L161.5 489.6L157.5 490.6ZM174.5 556.7L171.5 557.0L168.5 555.8L165.5 553.0L164.0 550.5L162.7 546.5L162.2 542.5L162.8 532.5L164.1 527.5L163.9 525.5L165.0 524.5L165.5 518.8L168.5 520.0L174.5 517.1L179.5 516.5L182.5 518.0L183.8 520.5L182.9 524.5L177.5 530.5L177.5 531.5L181.0 539.5L181.7 546.5L181.0 549.5L179.5 552.8L177.5 555.0L174.5 556.7Z"/>
<path fill="#0052ff" fill-rule="evenodd" d="M160.5 489.9L157.5 490.4L154.5 489.9L152.5 488.5L151.6 485.5L153.2 481.5L158.0 476.5L153.4 465.5L152.9 461.5L153.4 457.5L154.6 454.5L156.5 452.2L158.5 450.9L161.5 450.3L163.5 450.6L166.5 452.2L170.2 456.5L172.1 461.5L172.7 468.5L172.0 475.5L170.9 479.5L171.1 481.5L170.0 482.5L169.5 488.2L168.5 488.0L167.5 487.0L166.5 487.0L160.5 489.9ZM174.5 555.7L172.5 556.1L169.5 555.5L167.5 554.3L165.0 551.5L163.5 548.4L162.5 544.5L162.4 536.5L164.1 527.5L163.9 525.5L165.0 524.5L165.5 518.8L166.5 519.0L167.5 520.0L168.5 520.0L174.5 517.1L178.5 516.6L181.5 517.6L183.3 520.5L183.3 522.5L182.5 524.5L177.0 530.5L180.6 539.5L181.2 545.5L180.6 548.5L179.3 551.5L177.5 553.8L174.5 555.7Z"/>
<path fill="#0046ff" fill-rule="evenodd" d="M160.5 489.8L157.5 490.3L154.2 489.5L152.4 487.5L152.0 485.5L153.6 481.5L158.5 476.5L155.1 469.5L153.9 465.5L153.5 461.5L154.1 457.5L155.5 454.7L157.5 452.7L159.5 451.6L162.5 451.2L166.5 453.0L168.5 454.8L170.5 457.7L172.4 463.5L172.6 469.5L172.0 475.5L170.9 479.5L171.1 481.5L170.0 482.5L169.5 488.1L168.5 488.0L167.5 486.9L166.5 487.0L160.5 489.8ZM174.5 554.7L172.5 555.2L169.5 554.6L166.5 552.6L164.5 549.9L162.5 543.5L162.5 535.5L164.1 527.5L163.9 525.5L165.0 524.5L165.5 518.9L166.5 519.0L167.5 520.1L168.5 520.0L174.5 517.2L178.5 516.8L181.5 518.1L182.9 520.5L182.9 522.5L182.1 524.5L176.5 530.5L180.2 539.5L180.6 545.5L180.0 548.5L178.5 551.4L176.5 553.5L174.5 554.7Z"/>
<path fill="#0039ff" fill-rule="evenodd" d="M160.5 489.7L157.5 490.1L154.9 489.5L152.8 487.5L152.4 485.5L154.0 481.5L158.5 477.5L159.0 476.5L154.5 466.5L154.0 462.5L154.5 458.5L155.5 456.2L157.5 453.8L159.5 452.6L162.5 452.1L166.5 453.7L168.5 455.5L170.5 458.3L172.2 463.5L172.6 469.5L172.0 475.5L170.9 479.5L171.1 481.5L170.0 482.5L169.5 488.1L168.5 487.9L167.5 486.9L166.5 486.9L160.5 489.7ZM174.5 553.8L172.5 554.3L169.5 553.9L166.5 551.9L164.5 549.2L162.5 542.3L162.9 532.5L164.1 527.5L163.9 525.5L165.0 524.5L165.5 518.9L166.5 519.1L167.5 520.1L168.5 520.1L174.5 517.3L178.5 517.0L181.5 518.5L182.6 521.5L181.0 525.5L176.5 529.5L176.0 530.5L179.6 538.5L180.2 544.5L178.5 550.1L176.5 552.5L174.5 553.8Z"/>
<path fill="#002cff" fill-rule="evenodd" d="M160.5 489.6L157.5 489.9L155.5 489.5L153.3 487.5L152.8 485.5L153.2 483.5L154.4 481.5L159.0 477.5L159.4 476.5L155.1 467.5L154.5 463.5L154.9 459.5L156.2 456.5L157.5 454.9L159.5 453.5L162.5 452.9L165.5 453.8L167.5 455.1L170.5 458.9L172.3 464.5L172.5 470.5L171.8 476.5L170.9 479.5L171.1 481.5L170.0 482.5L169.5 488.1L168.5 487.9L167.5 486.8L166.5 486.9L160.5 489.6ZM172.5 553.6L169.5 553.2L167.5 552.1L165.5 550.1L163.5 546.3L162.4 538.5L163.0 531.5L164.1 527.5L163.9 525.5L165.0 524.5L165.5 518.9L166.5 519.1L167.5 520.2L168.5 520.1L174.5 517.4L178.5 517.2L181.0 518.5L182.2 521.5L181.8 523.5L180.6 525.5L176.0 529.5L175.6 530.5L179.2 538.5L179.9 542.5L179.6 545.5L177.4 550.5L175.5 552.3L172.5 553.6Z"/>
<path fill="#001fff" fill-rule="evenodd" d="M159.5 489.7L155.5 489.2L154.4 488.5L153.3 486.5L153.3 484.5L154.0 482.5L155.6 480.5L159.4 477.5L159.8 476.5L155.8 468.5L155.0 464.5L155.0 461.5L155.9 458.5L158.0 455.5L160.5 454.0L163.5 453.7L167.5 455.7L169.5 457.9L171.0 460.5L172.4 466.5L172.1 474.5L170.9 479.5L171.1 481.5L170.0 482.5L169.5 488.0L168.5 487.9L167.5 486.8L166.5 486.9L159.5 489.7ZM173.5 552.6L171.5 552.9L168.5 552.1L166.5 550.7L164.5 548.0L162.6 541.5L162.9 532.5L164.1 527.5L163.9 525.5L165.0 524.5L165.5 519.0L166.5 519.1L167.5 520.2L168.5 520.1L173.5 517.8L177.5 517.2L180.6 518.5L181.8 521.5L180.3 525.5L175.6 529.5L175.2 530.5L178.9 538.5L179.3 544.5L177.4 549.5L175.5 551.5L173.5 552.6Z"/>
<path fill="#0013ff" fill-rule="evenodd" d="M159.5 489.6L155.5 488.9L153.6 486.5L153.6 484.5L154.4 482.5L156.0 480.5L159.9 477.5L160.1 476.5L156.1 468.5L155.4 462.5L156.1 459.5L157.9 456.5L160.5 454.8L163.5 454.4L166.5 455.6L168.5 457.2L171.2 461.5L172.4 467.5L172.1 474.5L170.9 479.5L171.1 481.5L170.0 482.5L169.5 488.0L168.5 487.9L167.5 486.7L166.5 486.8L159.5 489.6ZM173.5 551.9L171.5 552.3L168.5 551.5L166.5 550.1L164.5 547.5L162.7 541.5L162.9 532.5L164.1 527.5L163.9 525.5L165.0 524.5L165.5 519.0L166.5 519.1L167.5 520.3L168.5 520.2L173.5 517.9L177.5 517.4L180.1 518.5L181.0 519.5L181.5 521.5L181.1 523.5L179.9 525.5L175.1 529.5L174.9 530.5L178.4 537.5L179.0 543.5L177.4 548.5L175.5 550.7L173.5 551.9Z"/>
<path fill="#0006ff" fill-rule="evenodd" d="M158.5 489.5L155.3 488.5L154.4 487.5L153.8 485.5L154.2 483.5L155.4 481.5L160.3 477.5L160.5 476.5L156.7 469.5L155.8 465.5L155.8 462.5L156.6 459.5L158.5 456.8L160.5 455.5L163.5 455.0L167.5 456.8L169.5 458.9L171.0 461.5L172.4 467.5L172.0 475.5L170.9 479.5L171.1 481.5L170.0 482.5L169.5 488.0L168.5 487.8L167.5 486.7L166.5 486.8L161.5 489.0L158.5 489.5ZM172.5 551.5L170.5 551.6L167.5 550.4L164.3 546.5L162.7 540.5L163.0 531.5L164.1 527.5L163.9 525.5L165.0 524.5L165.5 519.0L166.5 519.2L167.5 520.3L168.5 520.2L173.5 518.0L177.5 517.6L179.5 518.4L180.6 519.5L181.1 522.5L179.6 525.5L174.7 529.5L174.5 530.5L178.1 537.5L178.7 543.5L177.9 546.5L176.5 548.9L174.5 550.7L172.5 551.5Z"/>
<path fill="#0000ff" fill-rule="evenodd" d="M162.5 488.6L159.5 489.3L156.5 488.9L154.8 487.5L154.1 485.5L154.5 483.5L155.7 481.5L160.7 477.5L160.8 476.5L157.8 471.5L156.6 468.5L156.1 464.5L156.5 461.4L157.5 459.0L159.5 456.8L161.5 455.8L163.5 455.6L167.5 457.3L170.5 460.9L172.0 465.5L172.4 470.5L172.0 475.5L170.9 479.5L171.1 481.5L170.0 482.5L169.5 487.9L168.5 487.8L167.5 486.6L162.5 488.6ZM173.5 550.6L171.5 551.1L168.5 550.5L166.5 549.1L164.5 546.5L162.7 540.5L162.9 532.5L164.1 527.5L163.9 525.5L165.0 524.5L165.5 519.1L166.5 519.2L167.5 520.4L168.5 520.2L173.5 518.0L176.5 517.6L178.5 518.1L180.2 519.5L180.8 522.5L179.3 525.5L174.3 529.5L174.2 530.5L177.8 537.5L178.4 542.5L176.8 547.5L173.5 550.6Z"/>
<path fill="#ffffe9" fill-rule="evenodd" d="M99.5 632.6L93.5 633.0L87.5 632.4L81.5 631.0L76.5 628.8L71.5 625.7L66.8 621.5L62.8 616.5L60.0 611.5L58.7 605.5L58.2 599.5L59.1 587.5L62.3 575.5L67.9 563.5L76.3 551.5L87.2 540.5L97.5 532.5L117.5 520.0L123.5 515.4L127.5 510.6L132.7 501.5L135.7 498.5L140.5 496.3L152.5 494.5L156.5 493.3L166.5 487.5L169.5 488.5L170.0 482.5L171.1 481.5L171.0 479.5L176.5 454.6L182.5 433.7L186.5 423.6L190.5 415.8L194.5 409.7L199.5 403.7L203.5 400.1L208.5 396.7L212.5 394.7L217.5 393.2L222.5 392.6L226.5 392.8L231.5 394.0L235.5 395.8L244.5 401.9L249.5 406.5L253.5 412.5L256.2 419.5L257.4 427.5L256.9 436.5L254.5 445.5L250.2 454.5L244.6 462.5L238.2 469.5L231.2 475.5L215.5 487.4L210.5 491.9L207.5 495.9L202.9 504.5L199.3 508.5L194.5 510.7L182.5 512.5L178.5 513.7L168.5 519.5L165.5 518.5L165.0 524.5L163.9 525.5L164.0 527.5L159.5 548.1L154.5 568.1L148.5 585.8L141.5 600.2L137.5 606.6L132.5 613.0L127.5 618.3L122.5 622.5L117.5 626.0L111.5 629.1L105.5 631.3L99.5 632.6ZM129.5 476.7L125.5 477.3L120.9 476.5L116.3 474.5L111.8 471.5L107.8 467.5L105.5 463.5L104.9 460.5L106.0 457.5L109.5 456.0L114.5 456.6L121.5 459.6L127.5 463.6L132.5 468.4L134.0 471.5L133.1 474.5L129.5 476.7ZM209.5 537.3L206.6 536.5L206.0 535.5L206.4 534.5L208.5 534.4L209.5 535.1L210.2 536.5L209.5 537.3Z"/>
<path fill="#ffffbf" fill-rule="evenodd" d="M109.5 616.7L104.5 617.2L99.5 617.0L94.5 616.0L89.5 614.2L84.5 611.2L80.5 607.8L76.9 603.5L74.5 599.5L73.3 596.5L72.5 590.5L72.8 579.5L75.4 568.5L80.3 557.5L87.1 547.5L95.4 538.5L102.5 532.5L120.5 519.6L125.2 515.5L128.5 511.1L133.1 502.5L136.5 498.8L141.5 496.5L156.5 493.4L166.5 487.5L169.5 488.5L170.0 482.5L171.1 481.5L171.0 479.5L175.5 459.3L180.5 441.8L183.5 434.0L187.5 426.0L191.5 420.0L195.5 415.3L202.5 409.7L210.5 406.4L214.5 405.8L218.5 405.9L222.5 406.8L226.5 408.5L235.1 414.5L238.5 417.8L242.3 423.5L244.6 429.5L245.6 436.5L245.2 443.5L243.1 451.5L240.0 458.5L236.2 464.5L231.2 470.5L209.5 491.0L206.5 495.3L201.8 504.5L198.5 508.2L193.5 510.5L178.5 513.6L168.5 519.5L165.5 518.5L165.0 524.5L163.9 525.5L164.0 527.5L160.5 543.3L155.5 563.1L150.5 577.3L145.5 587.7L138.5 598.2L129.5 607.3L124.5 610.8L119.5 613.5L109.5 616.7ZM126.5 471.1L123.2 470.5L121.5 468.9L121.0 467.5L122.5 466.6L125.0 467.5L127.2 469.5L127.3 470.5L126.5 471.1Z"/>
<path fill="#ffff94" fill-rule="evenodd" d="M116.5 606.5L111.5 607.2L106.5 607.2L101.5 606.2L97.5 604.8L93.5 602.6L89.5 599.5L86.0 595.5L83.5 591.5L82.2 588.5L81.5 584.5L81.7 573.5L84.0 563.5L88.4 553.5L93.6 545.5L100.6 537.5L107.2 531.5L122.5 519.5L126.5 515.7L129.3 511.5L134.0 502.5L136.7 499.5L141.5 496.9L153.5 494.4L157.5 493.0L166.5 487.5L169.5 488.5L170.0 482.5L171.1 481.5L171.0 479.5L174.5 463.8L179.5 446.1L185.5 432.6L188.5 427.9L192.5 423.1L199.5 417.4L206.5 414.6L213.5 414.1L217.5 415.0L221.0 416.5L228.5 422.0L232.1 425.5L235.3 430.5L237.1 435.5L238.0 441.5L237.6 448.5L235.8 455.5L233.2 461.5L226.2 471.5L208.4 490.5L205.5 495.1L201.5 503.5L198.3 507.5L193.5 510.1L181.5 512.6L177.5 514.0L168.5 519.5L165.5 518.5L165.0 524.5L163.9 525.5L164.0 527.5L157.5 555.2L152.5 570.2L147.5 580.7L140.5 591.0L133.5 598.0L125.5 603.3L116.5 606.5Z"/>
<path fill="#ffff6a" fill-rule="evenodd" d="M120.5 599.5L111.5 600.2L106.5 599.3L102.5 597.9L98.5 595.6L94.8 592.5L89.7 585.5L88.4 582.5L87.9 579.5L87.9 569.5L90.2 559.5L94.2 550.5L98.7 543.5L104.7 536.5L127.0 516.5L129.5 512.9L134.2 503.5L137.5 499.5L142.5 496.9L153.5 494.5L157.5 493.0L166.5 487.5L167.5 488.2L169.5 488.5L170.0 482.5L171.1 481.5L171.0 479.5L174.5 464.0L178.5 449.8L183.5 438.3L186.5 433.4L190.5 428.4L196.5 423.4L203.5 420.4L210.5 420.0L216.5 421.8L224.1 427.5L227.1 430.5L229.8 434.5L231.7 439.5L232.6 445.5L232.3 451.5L230.9 457.5L227.8 464.5L224.6 469.5L217.6 478.5L207.5 490.0L205.3 493.5L200.8 503.5L197.5 507.5L192.5 510.1L181.5 512.5L177.5 514.0L168.5 519.5L167.5 518.8L165.5 518.5L165.0 524.5L163.9 525.5L164.0 527.5L157.5 554.6L153.5 566.2L149.5 574.8L143.5 584.0L136.5 591.3L128.5 596.6L120.5 599.5Z"/>
<path fill="#ffff3f" fill-rule="evenodd" d="M121.5 594.6L113.5 594.7L109.5 593.8L105.5 592.2L99.2 587.5L94.2 580.5L93.1 577.5L92.7 574.5L92.9 565.5L95.0 556.5L98.6 548.5L103.1 541.5L108.1 535.5L127.5 517.2L130.5 512.7L134.9 503.5L137.5 500.2L142.5 497.3L157.5 493.1L166.5 487.5L167.5 488.3L169.5 488.5L170.0 482.5L171.1 481.5L171.0 479.5L174.5 464.2L178.5 450.6L183.5 439.9L189.5 431.9L195.5 427.1L201.5 424.7L208.5 424.5L214.1 426.5L223.5 434.5L226.0 438.5L227.8 443.5L228.5 448.5L228.1 454.5L226.6 460.5L223.8 466.5L215.9 478.5L206.5 489.9L200.6 502.5L197.5 506.8L192.5 509.7L177.5 513.9L168.5 519.5L167.5 518.7L165.5 518.5L165.0 524.5L163.9 525.5L164.0 527.5L158.5 550.6L154.5 562.6L149.5 573.0L143.5 581.4L136.5 588.1L129.5 592.2L121.5 594.6Z"/>
<path fill="#ffff15" fill-rule="evenodd" d="M122.5 590.6L114.5 590.1L107.8 587.5L101.7 582.5L97.9 576.5L96.8 573.5L96.5 570.5L96.8 562.5L98.8 554.5L102.3 546.5L106.1 540.5L110.1 535.5L128.5 517.2L130.9 513.5L134.9 504.5L138.5 499.9L143.5 497.2L157.5 493.1L166.5 487.5L167.5 488.3L169.6 488.5L170.0 482.5L171.1 481.5L171.0 479.5L173.5 468.6L177.5 454.0L182.5 442.9L187.5 435.9L193.5 430.8L199.5 428.3L205.5 427.9L211.5 429.8L214.5 431.9L220.4 437.5L223.0 441.5L224.4 445.5L225.2 450.5L224.8 456.5L223.2 462.5L221.0 467.5L215.1 477.5L205.5 490.0L200.0 502.5L197.1 506.5L191.5 509.8L177.5 513.9L168.5 519.5L167.5 518.7L165.4 518.5L165.0 524.5L163.9 525.5L164.0 527.5L158.5 550.3L154.5 561.7L150.5 569.8L144.5 578.2L138.5 583.9L130.5 588.5L122.5 590.6Z"/>
<path fill="#fff800" fill-rule="evenodd" d="M127.5 586.6L119.5 587.1L112.5 585.2L106.5 581.2L102.1 575.5L100.0 570.5L99.9 561.5L101.6 553.5L105.0 545.5L111.9 535.5L129.5 517.1L135.5 504.5L138.5 500.5L143.5 497.5L157.5 493.2L166.5 487.6L167.5 488.3L169.6 488.5L170.0 482.5L171.1 481.5L171.0 479.5L173.5 468.7L177.1 455.5L181.5 445.7L186.5 438.6L191.5 434.1L197.5 431.3L203.5 430.7L209.5 432.6L212.5 434.7L218.5 440.7L221.1 445.5L222.3 450.5L222.4 455.5L221.3 461.5L215.6 474.5L205.0 489.5L200.0 501.5L196.5 506.5L191.5 509.5L177.5 513.8L168.5 519.4L167.5 518.7L165.4 518.5L165.0 524.5L163.9 525.5L164.0 527.5L158.5 549.9L155.5 558.5L151.5 566.9L146.5 574.2L140.5 580.2L134.5 584.1L127.5 586.6Z"/>
<path fill="#ffeb00" fill-rule="evenodd" d="M134.5 575.8L127.5 576.4L121.5 575.1L116.5 572.1L112.5 567.5L109.9 561.5L109.7 556.5L110.9 549.5L114.0 541.5L119.8 532.5L131.7 518.5L133.5 515.1L137.0 505.5L139.9 501.5L144.5 498.2L157.5 493.4L166.5 487.6L168.5 488.8L169.6 488.5L170.0 482.5L171.1 481.5L171.0 479.5L175.5 461.7L178.5 454.0L182.5 447.6L187.5 442.8L192.5 440.2L197.5 439.5L202.5 440.7L206.5 443.5L211.5 449.5L213.4 454.5L213.9 460.5L212.8 468.5L211.4 473.5L208.8 478.5L202.5 488.5L198.0 501.5L195.1 505.5L191.0 508.5L177.5 513.6L168.5 519.4L166.5 518.2L165.4 518.5L165.0 524.5L163.9 525.5L164.0 527.5L160.5 542.1L157.5 551.4L154.5 558.0L150.5 564.3L145.5 569.7L140.5 573.3L134.5 575.8Z"/>
<path fill="#ffdf00" fill-rule="evenodd" d="M137.5 569.6L131.5 570.1L126.5 568.9L121.5 565.7L118.1 561.5L115.8 555.5L115.9 551.5L117.0 545.5L119.8 538.5L124.0 531.5L133.5 519.5L135.4 515.5L138.2 506.5L141.7 501.5L145.9 498.5L157.5 493.6L166.5 487.7L168.5 489.0L169.6 488.5L170.0 482.5L171.1 481.5L171.0 479.5L174.8 464.5L177.5 457.5L181.5 451.1L185.5 447.5L190.5 445.2L195.5 444.8L199.5 446.1L202.6 448.5L207.0 454.5L209.1 461.5L209.5 466.5L209.0 470.5L207.8 474.5L200.5 488.0L196.8 500.5L193.5 505.3L189.5 508.3L177.5 513.4L168.5 519.3L166.5 518.0L165.4 518.5L165.0 524.5L163.9 525.5L164.0 527.5L160.5 541.6L158.5 547.6L155.5 554.2L151.5 560.2L147.5 564.4L142.5 567.7L137.5 569.6Z"/>
<path fill="#ffd200" fill-rule="evenodd" d="M138.5 565.5L133.5 565.6L128.5 563.9L125.1 561.5L122.1 557.5L120.5 553.5L120.0 549.5L121.1 543.5L123.8 536.5L126.7 531.5L135.4 519.5L139.1 507.5L142.2 502.5L145.8 499.5L157.5 493.8L166.5 487.7L167.5 489.0L168.5 489.3L169.6 488.5L170.0 482.5L171.1 481.5L171.0 479.5L174.5 465.9L177.5 458.5L180.5 453.9L183.5 451.0L187.5 448.9L192.5 448.3L196.5 449.4L199.5 451.5L204.5 458.1L206.2 462.5L206.7 467.5L205.4 474.5L199.0 487.5L196.9 496.5L195.4 500.5L192.8 504.5L188.5 508.0L177.5 513.2L168.5 519.3L167.5 518.0L166.5 517.7L165.4 518.5L165.0 524.5L163.9 525.5L164.0 527.5L160.5 541.2L158.5 546.8L155.5 552.8L151.5 558.2L147.5 561.8L143.5 564.1L138.5 565.5Z"/>
<path fill="#ffc500" fill-rule="evenodd" d="M143.5 561.6L138.5 562.5L133.5 561.8L129.5 559.7L126.3 556.5L124.2 552.5L123.2 547.5L124.0 542.5L126.1 536.5L128.8 531.5L136.5 520.5L139.9 508.5L143.5 502.5L147.0 499.5L157.5 494.0L166.5 487.8L167.5 489.3L168.5 489.6L169.6 488.5L170.0 482.5L171.1 481.5L171.0 479.5L174.5 466.3L176.5 461.3L179.5 456.4L182.5 453.3L186.5 451.1L190.5 450.5L194.5 451.5L198.5 454.4L202.4 459.5L204.0 463.5L204.6 468.5L203.2 475.5L197.5 487.5L196.0 495.5L194.2 500.5L191.5 504.5L188.0 507.5L177.5 513.0L168.5 519.2L167.5 517.7L166.5 517.4L165.4 518.5L165.0 524.5L163.9 525.5L164.0 527.5L161.5 537.4L157.5 548.2L154.5 553.1L151.5 556.5L147.5 559.7L143.5 561.6Z"/>
<path fill="#ffb800" fill-rule="evenodd" d="M142.5 559.7L136.5 559.5L133.5 558.4L130.7 556.5L127.2 551.5L125.8 545.5L126.9 539.5L128.9 534.5L138.3 519.5L140.3 510.5L141.8 506.5L143.7 503.5L146.7 500.5L157.5 494.3L165.4 488.5L166.5 487.9L167.2 488.5L167.5 490.1L168.5 490.5L168.5 489.5L169.6 488.5L170.0 482.5L171.1 481.5L171.0 479.5L173.5 469.8L175.5 464.0L178.5 458.6L181.5 455.3L185.5 452.9L189.5 452.3L193.5 453.3L197.5 456.2L200.7 460.5L202.3 464.5L202.8 468.5L202.0 474.5L196.6 486.5L194.9 495.5L193.2 500.5L191.3 503.5L188.3 506.5L177.5 512.7L169.6 518.5L168.5 519.1L167.8 518.5L167.5 516.9L166.5 516.5L166.5 517.5L165.4 518.5L165.0 524.5L163.9 525.5L164.0 527.5L161.5 537.3L157.5 547.4L154.5 552.0L150.5 556.0L146.5 558.4L142.5 559.7Z"/>
<path fill="#ffac00" fill-rule="evenodd" d="M143.5 557.7L137.5 557.3L132.5 554.5L129.1 549.5L128.0 543.5L128.9 538.5L130.9 533.5L139.0 520.5L141.2 510.5L142.7 506.5L144.6 503.5L147.7 500.5L157.5 494.5L166.5 487.9L167.4 489.5L167.5 492.8L168.5 493.0L168.5 489.5L169.6 488.5L169.8 487.5L170.0 482.5L171.1 481.5L171.0 479.5L173.5 469.9L177.5 460.7L180.5 457.1L184.5 454.5L188.5 453.8L192.5 454.7L196.4 457.5L199.3 461.5L200.9 465.5L201.3 469.5L200.3 475.5L195.6 486.5L194.0 495.5L192.3 500.5L190.4 503.5L187.3 506.5L177.5 512.5L168.5 519.1L167.6 517.5L167.5 514.2L166.5 514.0L166.5 517.5L165.4 518.5L165.2 519.5L165.0 524.5L163.9 525.5L164.0 527.5L161.5 537.1L158.5 544.9L155.5 549.8L151.5 554.0L147.5 556.4L143.5 557.7Z"/>
<path fill="#ff9f00" fill-rule="evenodd" d="M145.5 555.8L139.5 555.8L134.8 553.5L131.5 549.5L129.9 543.5L130.2 539.5L131.8 534.5L140.1 520.5L143.0 507.5L144.7 504.5L147.5 501.4L166.5 488.0L167.4 489.5L167.5 493.2L168.5 493.5L168.5 489.5L169.6 488.5L170.0 482.5L171.1 481.5L171.0 479.5L173.5 470.1L176.5 462.9L179.5 458.8L183.5 455.9L187.5 455.0L191.5 455.8L195.3 458.5L198.2 462.5L199.5 465.5L200.1 469.5L199.2 475.5L194.6 486.5L193.2 495.5L192.0 499.5L190.3 502.5L187.5 505.6L168.5 519.0L167.6 517.5L167.5 513.8L166.5 513.5L166.5 517.5L165.4 518.5L165.0 524.5L163.9 525.5L164.0 527.5L161.5 536.9L158.5 544.4L155.5 549.1L152.5 552.2L149.5 554.2L145.5 555.8Z"/>
<path fill="#ff9200" fill-rule="evenodd" d="M144.5 554.6L139.5 554.0L135.4 551.5L132.5 547.2L131.4 541.5L132.0 537.5L133.5 533.5L140.6 521.5L142.7 510.5L144.2 506.5L146.2 503.5L149.3 500.5L166.5 488.0L167.3 489.5L167.5 493.6L168.5 493.7L168.6 489.5L169.6 488.5L170.0 482.5L171.1 481.5L171.0 479.5L173.5 470.3L176.5 463.3L179.5 459.5L183.5 456.8L187.5 456.1L191.5 457.2L194.6 459.5L197.3 463.5L198.5 466.5L199.0 470.5L197.8 476.5L194.1 485.5L192.5 495.5L190.8 500.5L188.8 503.5L185.7 506.5L168.5 519.0L167.7 517.5L167.5 513.4L166.5 513.3L166.4 517.5L165.4 518.5L165.0 524.5L163.9 525.5L164.0 527.5L161.5 536.8L158.5 544.0L155.5 548.4L152.5 551.3L148.5 553.6L144.5 554.6Z"/>
<path fill="#ff8500" fill-rule="evenodd" d="M148.5 552.6L143.5 553.3L140.5 552.7L138.1 551.5L134.4 547.5L132.9 542.5L133.0 538.5L134.1 534.5L141.5 521.5L143.1 511.5L144.4 507.5L146.1 504.5L148.8 501.5L166.5 488.1L167.3 489.5L167.5 493.7L168.5 493.9L168.6 489.5L169.6 488.5L170.0 482.5L171.1 481.5L171.0 479.5L173.5 470.4L176.5 463.7L179.5 460.0L182.5 458.0L186.5 457.0L190.5 457.9L193.5 460.0L196.0 463.5L197.4 466.5L198.0 470.5L196.9 476.5L193.3 485.5L191.9 495.5L190.6 499.5L188.9 502.5L186.2 505.5L168.5 518.9L167.7 517.5L167.5 513.3L166.5 513.1L166.4 517.5L165.4 518.5L165.0 524.5L163.9 525.5L164.0 527.5L162.5 533.2L159.5 541.7L157.5 545.3L154.5 548.9L151.5 551.2L148.5 552.6Z"/>
<path fill="#ff7900" fill-rule="evenodd" d="M148.5 551.7L143.5 552.1L138.5 550.0L135.5 546.5L134.1 541.5L134.3 537.5L135.5 533.5L142.3 521.5L143.7 511.5L145.0 507.5L146.8 504.5L149.5 501.5L166.5 488.2L167.3 489.5L167.5 493.9L168.5 494.1L168.6 489.5L169.7 488.5L170.0 482.5L171.1 481.5L171.0 479.5L173.5 470.6L176.5 464.0L179.5 460.5L182.5 458.6L186.5 457.9L189.5 458.5L192.5 460.4L194.5 462.8L196.3 466.5L197.1 470.5L196.1 476.5L192.6 485.5L191.3 495.5L190.0 499.5L188.2 502.5L185.5 505.5L168.5 518.8L167.7 517.5L167.5 513.1L166.5 512.9L166.4 517.5L165.3 518.5L165.0 524.5L163.9 525.5L164.0 527.5L162.5 533.1L159.5 541.4L157.5 544.8L154.5 548.3L151.5 550.5L148.5 551.7Z"/>
<path fill="#ff6c00" fill-rule="evenodd" d="M149.5 550.6L144.5 551.2L141.5 550.3L139.5 549.2L136.5 545.5L135.1 540.5L135.3 537.5L136.4 533.5L143.0 521.5L144.1 512.5L145.6 507.5L147.4 504.5L150.1 501.5L166.5 488.2L167.2 489.5L167.5 494.1L168.5 494.3L168.6 489.5L169.7 488.5L170.0 482.5L171.1 481.5L171.0 479.5L172.5 474.0L175.5 466.0L178.5 461.9L181.5 459.7L185.5 458.6L189.5 459.5L191.5 460.7L193.9 463.5L195.8 467.5L196.3 471.5L195.4 476.5L192.2 484.5L190.9 494.5L189.4 499.5L187.6 502.5L184.9 505.5L168.5 518.8L167.8 517.5L167.5 512.9L166.5 512.7L166.4 517.5L165.3 518.5L165.0 524.5L163.9 525.5L164.0 527.5L160.5 539.0L158.5 543.0L155.5 546.8L152.5 549.2L149.5 550.6Z"/>
<path fill="#ff5f00" fill-rule="evenodd" d="M150.5 549.6L145.5 550.3L141.5 549.1L137.8 545.5L136.2 540.5L136.2 537.5L137.2 533.5L143.7 521.5L144.6 512.5L146.1 507.5L147.9 504.5L150.6 501.5L166.5 488.3L167.2 489.5L167.5 494.2L168.5 494.5L168.6 489.5L169.7 488.5L170.0 482.5L171.1 481.5L171.0 479.5L172.5 474.0L175.5 466.3L178.5 462.3L181.5 460.2L185.5 459.3L188.5 459.9L191.5 461.8L193.5 464.4L194.9 467.5L195.5 471.5L194.7 476.5L191.6 484.5L190.2 495.5L188.9 499.5L187.1 502.5L184.4 505.5L168.5 518.7L167.8 517.5L167.5 512.8L166.5 512.5L166.4 517.5L165.3 518.5L165.0 524.5L163.9 525.5L164.0 527.5L160.5 538.8L156.5 545.3L153.5 548.0L150.5 549.6Z"/>
<path fill="#ff5200" fill-rule="evenodd" d="M147.5 549.5L143.5 548.9L139.9 546.5L137.6 542.5L137.0 538.5L138.3 532.5L144.3 521.5L145.1 512.5L146.6 507.5L148.4 504.5L151.2 501.5L166.5 488.4L167.1 489.5L167.5 494.4L168.5 494.6L168.6 489.5L169.7 488.5L170.0 482.5L171.1 481.5L171.0 479.5L172.5 474.1L175.5 466.5L178.5 462.7L181.5 460.7L185.5 459.9L188.5 460.7L191.1 462.5L192.7 464.5L194.2 467.5L194.9 471.5L194.1 476.5L190.7 485.5L189.9 494.5L188.4 499.5L186.6 502.5L183.8 505.5L168.5 518.6L167.9 517.5L167.5 512.6L166.5 512.4L166.4 517.5L165.3 518.5L165.0 524.5L163.9 525.5L164.0 527.5L162.5 532.9L159.5 540.7L157.5 543.8L154.5 546.8L150.5 549.0L147.5 549.5Z"/>
<path fill="#ff4600" fill-rule="evenodd" d="M149.5 548.6L145.5 548.6L141.5 546.7L139.0 543.5L137.9 539.5L137.9 536.5L139.0 532.5L144.8 521.5L145.6 512.5L146.7 508.5L148.2 505.5L150.6 502.5L166.5 488.4L167.1 489.5L167.5 494.5L168.5 494.6L168.6 489.5L169.7 488.5L170.0 482.5L171.1 481.5L171.0 479.5L172.5 474.1L175.5 466.7L178.5 463.0L181.5 461.1L184.5 460.5L187.5 461.0L190.1 462.5L191.9 464.5L193.8 468.5L194.3 471.5L193.5 476.5L190.2 485.5L189.4 494.5L188.3 498.5L186.8 501.5L184.4 504.5L168.5 518.6L167.9 517.5L167.5 512.5L166.5 512.4L166.4 517.5L165.3 518.5L165.0 524.5L163.9 525.5L164.0 527.5L160.5 538.5L158.5 542.1L155.5 545.5L152.5 547.6L149.5 548.6Z"/>
<path fill="#ff3900" fill-rule="evenodd" d="M150.5 547.8L146.5 548.0L142.7 546.5L140.0 543.5L138.7 539.5L138.7 536.5L139.7 532.5L145.4 521.5L145.8 513.5L147.1 508.5L151.1 502.5L166.5 488.5L167.0 489.5L167.4 494.5L168.5 494.7L168.6 489.5L169.7 488.5L170.0 482.5L171.1 481.5L171.0 479.5L172.5 474.2L175.5 466.9L177.5 464.3L180.5 462.0L184.5 461.0L187.5 461.6L190.2 463.5L191.8 465.5L193.1 468.5L193.7 472.5L193.0 476.5L189.6 485.5L189.2 493.5L187.9 498.5L183.9 504.5L168.5 518.5L168.0 517.5L167.6 512.5L166.5 512.3L166.4 517.5L165.3 518.5L165.0 524.5L163.9 525.5L164.0 527.5L160.5 538.3L156.5 544.2L153.5 546.6L150.5 547.8Z"/>
<path fill="#ff2c00" fill-rule="evenodd" d="M148.5 547.5L144.5 546.7L141.7 544.5L139.9 541.5L139.3 537.5L140.7 531.5L145.6 522.5L146.4 512.5L148.0 507.5L151.6 502.5L166.5 488.6L167.4 494.5L168.5 494.8L168.6 489.5L169.7 488.5L170.0 482.5L171.1 481.5L171.0 479.5L172.5 474.2L175.5 467.1L178.5 463.6L181.5 461.9L184.5 461.5L187.5 462.3L189.5 463.6L191.7 466.5L192.8 469.5L193.2 472.5L192.5 476.5L189.1 485.5L188.6 494.5L187.0 499.5L183.4 504.5L168.5 518.4L167.6 512.5L166.5 512.2L166.4 517.5L165.3 518.5L165.0 524.5L163.9 525.5L164.0 527.5L160.5 538.2L158.5 541.6L155.5 544.8L152.5 546.6L148.5 547.5Z"/>
<path fill="#ff1f00" fill-rule="evenodd" d="M151.5 546.6L147.5 546.9L144.0 545.5L141.2 542.5L140.0 538.5L140.8 532.5L146.1 522.5L146.6 513.5L147.9 508.5L152.0 502.5L166.5 488.6L167.4 494.5L168.5 494.9L168.7 489.5L169.7 488.5L170.0 482.5L171.1 481.5L171.0 479.5L174.5 469.1L176.5 465.9L179.5 463.2L182.5 462.1L186.5 462.4L189.5 464.4L191.1 466.5L192.3 469.5L192.7 472.5L192.1 476.5L188.7 485.5L188.4 493.5L187.1 498.5L183.0 504.5L168.5 518.4L167.6 512.5L166.5 512.1L166.3 517.5L165.3 518.5L165.0 524.5L163.9 525.5L164.0 527.5L160.5 538.0L156.5 543.6L151.5 546.6ZM167.6 500.5L167.5 499.5L166.5 499.5L166.5 500.5L167.6 500.5ZM168.5 507.5L168.5 506.5L167.5 506.4L167.5 507.5L168.5 507.5Z"/>
<path fill="#ff1300" fill-rule="evenodd" d="M152.5 545.8L148.5 546.4L144.5 545.0L142.0 542.5L140.6 538.5L141.4 532.5L146.6 522.5L147.0 513.5L148.3 508.5L152.4 502.5L163.1 491.5L166.5 488.7L167.3 494.5L168.5 495.0L168.7 489.5L169.7 488.5L170.0 482.5L171.1 481.5L171.0 479.5L174.5 469.2L177.5 465.0L180.5 463.0L183.5 462.4L186.5 462.9L188.9 464.5L190.5 466.5L191.7 469.5L192.2 472.5L191.6 476.5L188.4 484.5L188.0 493.5L186.7 498.5L182.6 504.5L171.9 515.5L168.5 518.3L167.7 512.5L166.5 512.0L166.3 517.5L165.3 518.5L165.0 524.5L163.9 525.5L164.0 527.5L161.5 535.6L159.5 539.7L157.5 542.4L155.5 544.2L152.5 545.8ZM167.7 500.5L167.5 499.1L166.5 499.1L166.5 500.7L167.5 500.9L167.7 500.5ZM168.5 507.5L168.5 506.3L167.5 506.1L167.5 507.9L168.5 507.9L168.5 507.5Z"/>
<path fill="#ff0600" fill-rule="evenodd" d="M151.5 545.7L147.5 545.7L144.5 544.3L142.2 541.5L141.1 537.5L142.2 531.5L147.0 522.5L147.3 513.5L148.7 508.5L152.8 502.5L163.2 491.5L166.5 488.8L167.3 494.5L168.5 495.0L168.7 489.5L169.7 488.5L170.0 482.5L171.1 481.5L171.0 479.5L174.5 469.3L176.5 466.3L179.5 463.8L183.5 462.8L186.5 463.5L189.9 466.5L191.3 469.5L191.7 472.5L191.2 476.5L188.0 484.5L187.7 493.5L186.3 498.5L182.2 504.5L171.8 515.5L168.5 518.2L167.7 512.5L166.5 512.0L166.3 517.5L165.3 518.5L165.0 524.5L163.9 525.5L164.0 527.5L160.5 537.8L156.5 543.1L151.5 545.7ZM167.8 500.5L167.5 498.7L166.5 498.6L166.5 501.0L167.5 501.2L167.8 500.5ZM168.6 507.5L168.5 506.0L167.5 505.8L167.5 508.3L168.5 508.4L168.6 507.5Z"/>
<path fill="#ff0000" fill-rule="evenodd" d="M153.5 544.7L149.5 545.5L146.0 544.5L143.5 542.4L141.8 538.5L141.7 535.5L142.3 532.5L147.4 522.5L147.5 514.5L148.6 509.5L152.3 503.5L163.3 491.5L166.5 488.9L167.2 494.5L168.5 495.1L168.7 489.5L169.8 488.5L170.0 482.5L171.1 481.5L171.5 477.8L174.5 469.5L176.5 466.5L179.5 464.1L182.5 463.2L185.5 463.5L187.5 464.6L189.5 466.7L190.8 469.5L191.3 472.5L190.8 476.5L187.6 484.5L187.5 492.5L186.4 497.5L182.7 503.5L171.7 515.5L168.5 518.1L167.8 512.5L166.5 511.9L166.3 517.5L165.2 518.5L165.0 524.5L163.9 525.5L164.0 527.5L161.5 535.4L158.5 540.8L156.5 542.8L153.5 544.7ZM167.9 500.5L167.5 498.4L166.5 498.3L166.5 501.2L167.5 501.5L167.9 500.5ZM168.5 508.5L168.5 505.8L167.5 505.5L167.1 507.5L167.5 508.6L168.5 508.5Z"/></g>
<g clip-path="url(#cpd)"><path fill="#e9ffff" fill-rule="evenodd" d="M623.5 517.5L606.5 517.4L587.5 515.7L566.5 512.2L550.5 508.1L543.5 504.8L539.5 501.9L521.9 483.5L518.8 481.5L519.0 479.5L517.7 478.5L516.0 473.5L511.1 451.5L508.6 435.5L507.7 422.5L508.1 411.5L510.1 401.5L513.5 393.5L517.5 388.7L521.5 386.3L525.5 385.5L529.5 386.7L533.5 389.6L536.6 393.5L539.6 399.5L541.4 406.5L542.3 414.5L542.2 421.5L541.3 429.5L537.2 445.5L531.2 459.5L520.5 477.2L520.5 478.6L523.7 476.5L534.5 465.4L545.5 455.7L555.5 447.8L565.5 440.9L575.5 434.9L585.5 429.9L597.5 425.1L607.5 422.2L618.5 420.0L629.5 419.1L640.5 419.4L650.5 420.9L660.5 423.7L669.0 427.5L677.0 432.5L683.5 438.2L683.5 492.9L678.1 498.5L672.5 502.9L665.5 507.2L658.4 510.5L650.5 513.2L642.5 515.2L633.5 516.7L623.5 517.5ZM507.5 621.5L503.5 621.1L499.5 619.1L496.5 616.3L493.5 611.8L491.2 606.5L489.6 600.5L488.9 594.5L488.7 587.5L490.7 572.5L494.9 558.5L500.9 545.5L509.5 531.6L510.7 528.5L510.0 528.5L507.3 530.5L493.5 544.4L478.5 556.9L463.5 567.2L449.5 574.9L434.5 581.1L420.5 585.0L406.5 586.9L392.5 586.8L379.5 584.5L367.5 580.3L357.5 574.4L352.7 570.5L348.5 566.2L348.5 515.0L352.6 510.5L358.3 505.5L364.3 501.5L371.5 497.8L378.5 495.1L386.5 492.8L403.5 490.1L414.5 489.5L425.5 489.8L450.5 492.4L474.5 497.1L483.5 500.1L488.5 502.8L493.5 507.0L510.1 524.5L512.2 525.5L512.0 527.5L513.8 529.5L516.0 537.5L521.5 564.5L523.0 576.5L523.4 586.5L522.9 596.5L521.5 604.6L519.1 611.5L515.5 617.2L511.5 620.3L507.5 621.5Z"/>
<path fill="#bfffff" fill-rule="evenodd" d="M618.5 514.5L602.5 515.5L585.5 514.6L565.5 511.7L550.5 507.9L544.5 505.3L539.5 501.8L520.9 482.5L518.8 481.5L519.0 479.5L517.7 478.5L516.3 474.5L512.2 456.5L509.9 442.5L509.1 431.5L509.5 421.7L511.1 413.5L513.5 407.5L517.5 402.3L520.5 400.4L524.5 399.6L528.5 400.9L531.5 403.3L534.5 407.3L536.8 412.5L538.3 418.5L538.9 424.5L538.1 436.5L534.9 449.5L529.9 461.5L520.5 477.2L520.5 478.6L523.8 476.5L539.5 461.3L548.5 454.2L557.5 448.0L567.5 442.2L576.5 437.9L586.5 434.1L596.5 431.3L606.5 429.6L616.5 429.0L625.5 429.5L634.5 431.1L642.5 433.6L650.5 437.4L656.6 441.5L662.5 446.9L665.3 450.5L668.3 456.5L669.8 461.5L670.7 467.5L670.6 472.5L669.6 478.5L667.5 484.5L664.8 489.5L661.0 494.5L657.1 498.5L652.1 502.5L646.5 506.0L640.5 508.8L633.5 511.3L618.5 514.5ZM511.5 606.5L508.5 607.4L504.5 606.9L500.5 604.6L497.8 601.5L495.5 597.6L493.7 592.5L492.5 586.5L492.1 580.5L493.1 569.5L496.1 557.5L501.1 545.5L510.5 529.8L510.5 528.4L507.2 530.5L494.5 543.2L483.5 552.0L471.5 560.1L460.5 566.1L448.5 571.2L435.5 575.1L422.5 577.0L410.5 577.1L397.5 575.0L386.5 571.0L381.5 568.3L376.2 564.5L368.4 556.5L365.2 551.5L363.0 546.5L361.7 538.5L361.9 533.5L362.9 528.5L364.6 523.5L367.1 518.5L370.7 513.5L374.4 509.5L379.1 505.5L385.3 501.5L391.5 498.5L398.5 495.9L413.5 492.7L431.5 491.7L452.5 493.3L474.5 497.3L481.5 499.5L487.5 502.3L493.5 507.1L510.1 524.5L512.2 525.5L512.0 527.5L513.8 529.5L516.0 537.5L521.0 563.5L521.9 574.5L521.8 583.5L520.7 591.5L518.5 598.4L515.5 603.4L511.5 606.5Z"/>
<path fill="#94ffff" fill-rule="evenodd" d="M604.5 513.6L591.5 514.0L576.5 512.9L561.5 510.6L549.5 507.4L543.5 504.6L539.5 501.7L520.9 482.5L518.8 481.5L519.0 479.5L517.7 478.5L516.9 476.5L513.1 460.5L510.9 447.5L510.0 436.5L510.3 428.5L511.6 421.5L513.9 415.5L517.5 410.9L520.5 409.1L523.5 408.5L527.5 409.7L530.5 412.2L532.9 415.5L534.7 419.5L536.0 424.5L536.7 430.5L536.0 441.5L533.0 453.5L528.1 464.5L520.5 477.2L520.5 478.6L523.8 476.5L532.5 467.7L539.5 461.7L554.5 451.2L563.5 446.2L572.5 442.1L581.5 439.0L589.5 437.0L598.5 435.6L607.5 435.2L615.5 435.8L623.5 437.3L631.5 440.0L638.5 443.5L644.1 447.5L649.2 452.5L652.0 456.5L654.2 461.5L655.5 466.5L656.1 472.5L655.6 477.5L654.4 482.5L652.3 487.5L649.2 492.5L645.8 496.5L641.4 500.5L631.5 506.7L625.5 509.2L618.5 511.3L604.5 513.6ZM508.5 598.6L505.5 598.2L502.5 596.6L498.2 591.5L496.4 587.5L495.1 582.5L494.3 572.5L495.8 561.5L498.8 551.5L502.9 542.5L510.5 529.8L510.7 528.5L510.0 528.5L507.2 530.5L496.5 541.2L486.5 549.1L475.5 556.3L464.5 562.1L452.5 566.8L441.5 569.6L430.5 571.0L419.5 570.8L407.5 568.6L397.5 564.6L388.5 558.6L382.0 551.5L379.5 547.5L377.3 542.5L376.2 534.5L377.6 525.5L381.8 516.5L388.7 508.5L393.8 504.5L398.8 501.5L410.5 496.8L423.5 494.1L440.5 493.2L459.5 494.8L477.5 498.3L483.5 500.4L488.5 503.0L494.5 508.1L510.1 524.5L512.2 525.5L512.0 527.5L513.3 528.5L514.1 530.5L517.9 546.5L520.9 566.5L521.0 575.5L520.3 582.5L518.5 589.2L515.5 594.7L512.5 597.3L508.5 598.6Z"/>
<path fill="#6affff" fill-rule="evenodd" d="M597.5 512.5L585.5 512.9L572.5 512.0L558.5 509.7L548.5 506.9L543.5 504.5L539.5 501.6L520.9 482.5L518.8 481.5L519.0 479.5L517.7 478.5L516.9 476.5L513.1 460.5L511.4 449.5L510.7 440.5L511.0 432.5L512.4 425.5L514.5 420.7L517.5 417.0L520.5 415.2L523.5 414.7L526.5 415.7L528.8 417.5L531.5 420.9L533.2 424.5L534.5 429.3L535.1 434.5L534.6 444.5L532.2 454.5L528.0 464.5L520.5 477.2L520.5 478.6L523.8 476.5L531.5 468.7L538.5 462.8L551.5 453.9L567.5 446.0L576.5 442.9L584.5 441.0L593.5 439.8L601.5 439.7L609.5 440.4L616.5 441.9L623.5 444.4L629.4 447.5L634.9 451.5L639.5 456.2L641.8 459.5L644.0 464.5L645.2 469.5L645.5 474.5L645.1 479.5L643.7 484.5L641.4 489.5L638.7 493.5L631.8 500.5L621.9 506.5L610.3 510.5L597.5 512.5ZM511.5 591.7L508.5 592.3L505.5 591.7L502.5 589.7L500.5 587.5L497.2 580.5L495.9 570.5L496.8 560.5L499.2 551.5L503.0 542.5L510.5 529.8L510.5 528.4L507.2 530.5L497.5 540.1L488.5 547.2L479.5 553.0L469.5 558.3L457.5 562.9L447.5 565.4L436.5 566.7L426.5 566.4L416.2 564.5L406.5 560.7L398.5 555.4L392.1 548.5L387.9 540.5L386.7 533.5L387.9 524.5L391.5 516.5L394.4 512.5L398.2 508.5L406.6 502.5L417.5 497.9L429.5 495.2L445.5 494.3L462.5 495.6L478.5 498.8L484.5 501.0L488.5 503.2L494.5 508.2L510.1 524.5L512.2 525.5L512.0 527.5L513.3 528.5L515.0 533.5L519.5 556.5L520.4 565.5L520.3 572.5L519.5 578.7L517.5 585.1L514.5 589.6L511.5 591.7Z"/>
<path fill="#3fffff" fill-rule="evenodd" d="M594.5 511.5L582.5 512.1L570.5 511.3L557.5 509.3L547.5 506.3L543.5 504.3L539.5 501.5L520.9 482.5L518.8 481.5L519.0 479.5L517.7 478.5L516.9 476.5L514.0 464.5L511.9 452.5L511.2 443.5L511.4 436.5L512.5 430.6L514.5 425.5L517.5 421.6L519.5 420.2L522.5 419.5L525.5 420.2L528.5 422.5L530.5 425.1L532.1 428.5L533.9 437.5L533.6 446.5L531.1 456.5L526.8 466.5L520.5 477.2L520.5 478.6L523.8 476.5L531.5 468.8L537.5 463.8L550.5 455.2L565.5 448.2L580.5 444.1L588.5 443.1L595.5 443.0L602.5 443.6L609.5 445.0L616.5 447.5L622.3 450.5L627.5 454.3L631.7 458.5L633.8 461.5L636.0 466.5L637.1 470.5L637.5 475.5L637.1 480.5L636.1 484.5L632.0 492.5L625.6 499.5L616.5 505.4L606.5 509.2L594.5 511.5ZM509.5 587.5L506.5 587.2L504.5 586.2L500.5 581.7L497.8 574.5L497.0 565.5L498.2 556.5L500.9 547.5L504.2 540.5L510.5 529.8L510.7 528.5L508.4 529.5L498.5 539.1L489.5 546.1L480.5 551.7L471.5 556.2L461.5 559.9L451.5 562.4L441.5 563.5L431.5 563.1L421.5 561.0L412.5 557.2L405.5 552.4L399.3 545.5L395.8 538.5L394.9 535.5L394.6 531.5L395.8 523.5L399.5 515.5L405.5 508.5L414.1 502.5L423.6 498.5L435.5 495.9L449.5 495.1L465.5 496.3L479.5 499.3L488.5 503.3L494.5 508.3L510.1 524.5L512.2 525.5L512.0 527.5L513.3 528.5L515.0 533.5L517.8 546.5L519.3 556.5L519.9 564.5L519.6 571.5L518.5 577.2L516.3 582.5L513.5 585.9L509.5 587.5Z"/>
<path fill="#15ffff" fill-rule="evenodd" d="M592.5 510.5L581.5 511.4L569.5 510.8L557.5 509.1L547.5 506.2L543.5 504.2L539.5 501.4L520.9 482.5L518.8 481.5L519.0 479.5L517.7 478.5L516.9 476.5L514.0 464.5L512.3 454.5L511.6 445.5L511.8 439.5L512.9 433.5L514.5 429.2L517.5 425.3L519.5 423.9L522.5 423.2L525.5 424.2L527.5 425.7L529.7 428.5L531.5 432.3L533.0 440.5L532.6 448.5L530.2 458.5L526.7 466.5L520.5 477.2L520.5 478.6L523.8 476.5L530.5 469.9L536.5 464.8L548.5 457.0L561.5 450.9L575.5 446.9L583.5 445.8L590.5 445.6L597.5 446.2L603.5 447.3L609.5 449.3L615.5 452.2L620.4 455.5L624.7 459.5L627.1 462.5L629.1 466.5L631.0 474.5L630.9 479.5L630.2 483.5L626.7 491.5L620.8 498.5L613.5 503.8L603.5 508.1L592.5 510.5ZM510.5 583.6L508.5 583.8L505.5 582.8L501.5 578.7L498.9 572.5L498.0 564.5L498.7 556.5L501.2 547.5L504.3 540.5L510.5 529.8L510.7 528.5L508.4 529.5L499.5 538.1L491.5 544.3L482.5 550.0L474.5 553.9L464.5 557.6L454.5 560.0L444.5 560.9L435.5 560.4L425.5 558.1L417.5 554.6L410.5 549.5L405.3 543.5L401.9 536.5L401.2 533.5L401.0 529.5L402.6 521.5L406.1 514.5L412.5 507.5L420.1 502.5L429.5 498.7L439.5 496.6L452.5 495.8L467.5 496.9L479.5 499.4L484.5 501.2L488.5 503.4L494.5 508.4L510.1 524.5L512.2 525.5L512.0 527.5L513.3 528.5L515.0 533.5L518.8 553.5L519.5 561.5L519.3 567.5L518.3 573.5L516.5 578.4L513.5 582.2L510.5 583.6Z"/>
<path fill="#00f8ff" fill-rule="evenodd" d="M583.5 510.5L574.5 510.7L563.5 509.8L553.5 508.0L546.5 505.6L542.5 503.5L538.5 500.4L520.9 482.5L518.8 481.5L519.0 479.5L517.7 478.5L516.9 476.5L514.2 465.5L512.6 455.5L511.9 447.5L512.3 440.5L513.3 435.5L515.0 431.5L517.5 428.3L519.5 426.9L522.5 426.4L524.5 426.9L526.8 428.5L528.6 430.5L530.5 434.1L532.2 442.5L531.8 450.5L529.9 458.5L526.2 467.5L520.5 477.2L520.5 478.6L523.8 476.5L535.5 465.8L547.5 458.0L560.5 452.2L574.5 448.6L581.5 447.8L588.5 447.8L595.5 448.6L601.5 450.1L607.5 452.4L612.5 455.2L616.9 458.5L620.7 462.5L622.8 465.5L624.4 469.5L625.4 473.5L625.7 478.5L624.1 486.5L622.3 490.5L619.6 494.5L613.5 500.5L605.0 505.5L595.5 508.7L583.5 510.5ZM510.5 580.6L506.5 580.0L502.5 576.5L499.8 570.5L498.7 562.5L499.6 554.5L501.8 546.5L504.8 539.5L510.5 529.8L510.7 528.5L508.4 529.5L499.5 538.0L491.5 544.1L483.5 548.9L474.5 553.1L465.5 556.2L456.5 558.1L447.5 558.8L438.5 558.2L429.5 556.0L421.8 552.5L415.1 547.5L410.1 541.5L407.0 534.5L406.3 528.5L407.6 521.5L411.0 514.5L416.5 508.3L424.5 502.8L433.5 499.2L443.5 497.1L456.5 496.4L470.5 497.7L481.5 500.2L489.5 504.2L494.5 508.4L510.1 524.5L512.2 525.5L512.0 527.5L513.3 528.5L514.7 532.5L518.5 551.5L519.1 559.5L519.0 565.5L518.2 570.5L516.3 575.5L513.5 579.1L510.5 580.6Z"/>
<path fill="#00ebff" fill-rule="evenodd" d="M572.5 508.6L564.5 508.5L556.5 507.7L549.5 506.1L544.5 504.1L537.5 499.2L520.9 482.5L518.8 481.5L519.0 479.5L517.2 477.5L515.1 469.5L513.4 459.5L513.0 452.5L513.4 446.5L514.5 442.2L516.5 438.6L518.5 436.7L520.5 435.9L522.5 436.0L524.5 436.9L526.2 438.5L528.8 443.5L529.8 449.5L529.3 456.5L527.8 462.5L524.9 469.5L520.5 477.2L520.5 478.6L522.6 477.5L533.5 467.9L541.5 462.9L553.5 457.6L565.5 454.8L577.5 454.4L588.5 456.5L597.5 460.8L601.5 463.8L604.9 467.5L606.9 470.5L608.1 473.5L609.1 480.5L607.9 487.5L604.1 494.5L597.9 500.5L590.8 504.5L582.5 507.2L572.5 508.6ZM512.5 570.5L510.5 571.2L508.5 571.0L504.9 568.5L502.2 563.5L501.2 557.5L501.7 550.5L503.2 544.5L506.1 537.5L510.5 529.8L510.7 528.5L508.4 529.5L500.5 536.7L494.5 541.1L487.5 545.1L480.5 548.2L472.5 550.7L465.5 552.0L457.5 552.4L450.5 551.8L443.5 550.0L436.5 546.9L430.5 542.5L426.3 537.5L423.5 531.5L422.8 526.5L423.7 520.5L426.4 514.5L431.5 508.6L437.3 504.5L444.5 501.3L453.5 499.2L463.5 498.5L474.5 499.3L482.5 501.2L489.5 504.6L495.5 509.7L510.1 524.5L512.2 525.5L512.0 527.5L513.3 528.5L514.1 530.5L517.3 545.5L518.0 556.5L517.5 561.7L516.5 565.3L514.5 568.8L512.5 570.5Z"/>
<path fill="#00dfff" fill-rule="evenodd" d="M571.5 506.6L564.5 507.1L556.5 506.8L549.5 505.4L544.5 503.6L537.5 498.9L521.0 482.5L518.8 481.5L519.0 479.5L517.7 478.5L515.8 472.5L513.6 457.5L514.5 448.5L515.5 445.8L517.5 443.0L520.5 441.5L522.5 441.7L524.5 443.0L526.8 446.5L528.2 452.5L528.2 457.5L527.0 463.5L525.2 468.5L520.5 477.1L520.5 478.6L522.6 477.5L532.5 469.1L539.5 464.9L549.5 460.8L559.5 458.5L569.5 458.1L579.5 459.9L587.5 463.5L591.6 466.5L594.6 469.5L597.7 474.5L599.0 480.5L598.4 486.5L595.9 492.5L591.9 497.5L586.5 501.6L579.5 504.8L571.5 506.6ZM510.5 565.6L507.5 564.7L505.3 562.5L503.5 558.5L502.7 552.5L503.1 547.5L504.3 542.5L506.8 536.5L510.5 529.9L510.7 528.5L508.4 529.5L502.5 534.8L496.5 539.2L491.5 542.1L484.5 545.1L477.5 547.2L470.5 548.4L463.5 548.6L456.5 547.8L450.5 546.0L444.5 543.1L439.8 539.5L435.8 534.5L433.5 529.5L432.8 524.5L434.0 518.5L436.6 513.5L441.1 508.5L446.5 504.9L453.5 502.0L460.4 500.5L468.5 500.0L477.5 500.7L484.5 502.6L490.5 505.8L496.5 510.8L510.0 524.5L512.2 525.5L512.0 527.5L513.3 528.5L514.1 530.5L516.8 543.5L517.3 554.5L516.5 558.9L515.0 562.5L512.5 565.0L510.5 565.6Z"/>
<path fill="#00d2ff" fill-rule="evenodd" d="M566.5 505.5L559.5 505.9L553.5 505.5L548.5 504.5L543.5 502.6L536.5 497.7L521.0 482.5L518.8 481.5L519.0 479.5L517.7 478.5L516.0 473.5L514.1 460.5L514.7 452.5L515.7 449.5L517.5 446.8L520.5 445.4L523.5 446.5L526.2 450.5L527.2 455.5L527.1 460.5L526.0 465.5L524.1 470.5L520.5 477.1L520.5 478.6L522.7 477.5L531.5 470.1L538.5 466.1L547.5 462.7L557.5 460.7L566.5 460.9L575.5 463.0L582.4 466.5L587.9 471.5L591.0 476.5L591.9 481.5L591.3 487.5L589.2 492.5L585.1 497.5L579.5 501.5L573.5 504.0L566.5 505.5ZM511.5 561.5L508.5 561.1L506.5 559.4L504.5 555.5L503.7 550.5L503.9 546.5L505.0 541.5L506.9 536.5L510.5 529.9L510.7 528.5L508.3 529.5L497.5 538.2L486.5 543.3L480.5 545.0L473.5 546.0L467.5 546.1L461.5 545.2L455.5 543.3L450.1 540.5L445.5 536.6L442.4 532.5L440.6 528.5L439.8 523.5L440.8 518.5L443.3 513.5L446.8 509.5L452.5 505.5L458.5 503.0L465.5 501.5L473.5 501.2L480.5 502.0L486.5 503.9L491.5 506.9L498.5 512.9L510.0 524.5L512.2 525.5L512.0 527.5L513.3 528.5L514.1 530.5L516.6 542.5L516.8 551.5L516.1 555.5L514.9 558.5L513.5 560.4L511.5 561.5Z"/>
<path fill="#00c5ff" fill-rule="evenodd" d="M562.5 504.6L556.5 504.9L551.5 504.5L546.5 503.3L542.5 501.6L535.5 496.6L521.0 482.5L518.8 481.5L519.0 479.5L517.7 478.5L516.1 473.5L514.4 462.5L515.1 454.5L517.5 449.7L520.5 448.3L523.5 449.8L525.5 453.0L526.5 457.5L525.7 465.5L524.0 470.5L520.5 477.1L520.5 478.6L522.7 477.5L530.5 471.0L537.5 467.1L545.5 464.2L553.5 462.7L561.5 462.6L569.5 464.2L576.6 467.5L582.4 472.5L585.6 477.5L586.5 481.5L586.1 487.5L584.0 492.5L580.5 496.9L575.5 500.6L569.5 503.1L562.5 504.6ZM511.5 558.6L508.5 558.0L506.5 555.9L505.0 552.5L504.5 548.5L504.8 543.5L505.9 539.5L510.5 529.9L510.7 528.5L508.3 529.5L498.5 537.2L488.5 541.8L482.5 543.4L475.5 544.2L470.5 544.2L464.5 543.1L459.5 541.4L454.2 538.5L449.8 534.5L447.2 530.5L445.7 526.5L445.1 522.5L446.3 517.5L448.4 513.5L452.0 509.5L456.2 506.5L462.5 503.9L468.5 502.6L475.5 502.2L481.5 502.9L486.5 504.5L491.5 507.2L499.5 514.0L510.0 524.5L512.2 525.5L512.0 527.5L513.7 529.5L515.9 538.5L516.5 549.5L515.7 553.5L514.5 556.2L511.5 558.6Z"/>
<path fill="#00b8ff" fill-rule="evenodd" d="M560.5 503.6L555.5 504.0L550.5 503.6L545.5 502.4L541.5 500.6L535.5 496.4L521.0 482.5L518.8 481.5L519.0 479.5L517.7 478.5L516.1 473.5L514.7 463.5L515.2 456.5L517.5 452.0L519.5 450.8L522.5 451.5L524.5 453.9L525.8 458.5L525.9 462.5L525.2 466.5L523.0 472.5L520.5 477.1L520.5 478.6L522.7 477.5L530.5 471.3L536.5 468.0L544.5 465.3L551.5 464.2L559.5 464.2L566.5 465.8L573.5 469.2L578.3 473.5L581.4 478.5L582.3 482.5L581.9 487.5L579.8 492.5L576.7 496.5L572.7 499.5L566.5 502.3L560.5 503.6ZM512.5 555.9L509.5 556.1L507.5 554.6L505.9 551.5L505.1 547.5L505.2 543.5L506.1 539.5L510.7 528.5L508.3 529.5L498.5 537.0L489.5 540.8L478.5 542.7L472.5 542.6L467.5 541.7L462.5 539.9L457.5 536.9L453.9 533.5L451.2 529.5L449.8 525.5L449.5 521.5L450.4 517.5L452.5 513.5L456.2 509.5L460.5 506.7L466.1 504.5L471.5 503.4L477.5 503.2L482.5 503.8L487.5 505.4L492.5 508.3L500.5 515.0L510.0 524.5L512.2 525.5L512.0 527.5L513.3 528.5L514.9 533.5L516.4 544.5L515.5 551.7L514.5 553.9L512.5 555.9Z"/>
<path fill="#00acff" fill-rule="evenodd" d="M559.5 502.6L554.5 503.1L549.5 502.8L541.5 500.2L534.5 495.4L521.0 482.5L518.8 481.5L519.0 479.5L517.7 478.5L516.1 473.5L514.9 464.5L515.5 457.6L517.5 453.8L519.5 452.6L522.5 453.5L524.5 456.4L525.3 459.5L525.4 463.5L524.7 467.5L522.9 472.5L520.5 477.1L520.5 478.6L522.7 477.5L529.5 472.1L535.5 468.8L541.5 466.7L549.5 465.4L556.5 465.4L563.5 466.8L570.5 470.3L575.1 474.5L577.6 478.5L578.7 482.5L578.4 487.5L577.0 491.5L574.1 495.5L570.3 498.5L565.5 500.9L559.5 502.6ZM512.5 554.1L509.5 554.1L507.6 552.5L506.1 549.5L505.6 546.5L506.3 539.5L510.7 528.5L508.3 529.5L499.5 536.1L490.5 540.0L485.5 541.1L479.5 541.6L474.5 541.3L469.5 540.3L464.7 538.5L460.5 535.8L457.0 532.5L455.0 529.5L453.5 525.5L453.0 520.5L454.2 516.5L456.0 513.5L458.8 510.5L463.1 507.5L467.7 505.5L473.5 504.2L479.5 504.0L484.5 504.9L489.5 506.8L493.5 509.3L501.5 516.0L510.0 524.5L512.2 525.5L512.0 527.5L513.3 528.5L514.9 533.5L516.2 543.5L515.5 549.6L514.5 552.0L512.5 554.1Z"/>
<path fill="#009fff" fill-rule="evenodd" d="M558.5 501.7L553.5 502.3L549.5 502.1L541.5 499.8L534.5 495.2L521.0 482.5L518.8 481.5L519.0 479.5L517.7 478.5L516.1 473.5L515.1 465.5L515.5 459.4L517.5 455.3L519.5 454.1L521.5 454.5L523.5 456.5L524.9 460.5L525.0 464.5L524.3 468.5L520.5 477.1L520.5 478.6L533.5 470.0L539.5 467.8L547.5 466.4L554.5 466.5L561.5 468.0L566.9 470.5L571.7 474.5L573.9 477.5L575.6 481.5L575.7 486.5L574.5 490.5L571.8 494.5L568.4 497.5L563.5 500.2L558.5 501.7ZM512.5 552.5L510.5 552.9L508.5 551.8L507.0 549.5L506.0 545.5L506.7 538.5L510.7 528.5L508.3 529.5L499.5 535.9L491.5 539.2L481.5 540.6L472.4 539.5L467.5 537.7L463.7 535.5L460.4 532.5L458.2 529.5L456.5 525.5L456.0 521.5L456.4 518.5L458.3 514.5L460.8 511.5L464.8 508.5L469.5 506.3L474.5 505.1L479.5 504.8L484.5 505.4L489.5 507.2L493.5 509.6L501.5 516.1L510.0 524.5L512.2 525.5L512.0 527.5L513.3 528.5L514.9 533.5L516.0 542.5L515.3 548.5L514.5 550.4L512.5 552.5Z"/>
<path fill="#0092ff" fill-rule="evenodd" d="M552.5 501.5L545.5 500.8L538.5 497.8L530.5 491.7L521.0 482.5L518.8 481.5L519.0 479.5L517.7 478.5L516.1 473.5L515.2 465.5L515.9 459.5L516.8 457.5L518.5 455.8L520.5 455.5L522.5 456.7L524.1 459.5L524.7 462.5L524.1 468.5L520.5 477.1L520.5 478.6L522.8 477.5L528.5 473.0L534.5 469.8L540.5 468.0L547.5 467.1L554.5 467.6L561.2 469.5L566.5 472.5L570.4 476.5L572.5 480.5L573.3 484.5L572.6 488.5L570.6 492.5L567.5 495.9L563.5 498.6L558.5 500.6L552.5 501.5ZM511.5 551.6L509.5 551.1L507.9 549.5L506.6 546.5L506.3 543.5L507.1 537.5L510.7 528.5L508.2 529.5L499.5 535.7L491.5 538.7L482.5 539.8L473.5 538.4L469.5 536.9L465.5 534.4L462.4 531.5L459.9 527.5L458.7 523.5L458.8 519.5L459.8 516.5L461.8 513.5L464.8 510.5L469.5 507.7L473.5 506.3L478.5 505.5L483.5 505.8L487.5 506.8L491.5 508.6L496.5 512.0L510.0 524.5L512.2 525.5L512.0 527.5L513.7 529.5L515.5 537.5L515.7 544.5L514.5 549.1L513.5 550.5L511.5 551.6Z"/>
<path fill="#0085ff" fill-rule="evenodd" d="M554.5 500.5L546.5 500.5L539.5 498.1L532.5 493.3L521.0 482.5L518.8 481.5L519.0 479.5L517.7 478.5L516.4 474.5L515.3 467.5L515.7 461.5L517.5 457.7L519.5 456.6L521.5 457.1L523.4 459.5L524.3 462.5L524.0 468.5L520.5 477.0L520.5 478.6L532.5 470.9L538.5 468.9L544.5 467.9L551.5 468.1L557.4 469.5L562.5 471.9L566.9 475.5L569.6 479.5L570.9 483.5L570.5 487.5L569.3 490.5L566.5 494.4L563.5 497.0L559.5 499.1L554.5 500.5ZM512.5 550.1L510.5 550.4L508.5 549.0L507.2 546.5L506.6 543.5L507.3 537.5L510.7 528.5L508.2 529.5L500.5 535.0L493.5 537.9L484.5 539.1L475.5 537.8L468.5 534.5L465.1 531.5L462.9 528.5L461.6 525.5L461.0 521.5L461.8 517.5L463.4 514.5L466.1 511.5L470.5 508.6L474.5 507.0L479.5 506.2L484.5 506.5L488.5 507.6L496.5 512.2L503.5 518.0L510.0 524.5L512.2 525.5L512.0 527.5L513.3 528.5L514.9 533.5L515.7 540.5L515.0 546.5L514.1 548.5L512.5 550.1Z"/>
<path fill="#0079ff" fill-rule="evenodd" d="M554.5 499.6L550.5 500.2L546.5 500.0L539.5 497.8L532.5 493.2L521.0 482.5L518.9 481.5L519.0 479.5L517.7 478.5L516.9 476.5L515.5 468.5L515.8 462.5L517.5 458.7L519.5 457.6L521.5 458.1L523.3 460.5L524.1 463.5L523.9 468.5L520.5 477.0L520.5 478.6L532.5 471.1L538.5 469.2L543.5 468.5L549.5 468.7L555.5 470.0L560.7 472.5L564.5 475.6L566.7 478.5L568.4 482.5L568.6 485.5L567.6 489.5L565.5 493.0L562.5 496.0L558.5 498.3L554.5 499.6ZM512.5 549.2L510.5 549.4L508.5 547.9L507.3 545.5L506.8 542.5L507.7 536.5L510.7 528.5L508.2 529.5L500.5 534.9L493.5 537.5L484.5 538.4L476.5 537.0L469.5 533.3L466.6 530.5L464.6 527.5L463.5 524.5L463.2 520.5L463.9 517.5L465.6 514.5L468.4 511.5L471.5 509.4L475.5 507.7L480.5 506.9L484.5 507.0L488.5 508.0L492.5 509.8L497.5 513.1L510.0 524.5L512.1 525.5L512.0 527.5L513.3 528.5L514.8 533.5L515.6 540.5L514.7 546.5L512.5 549.2Z"/>
<path fill="#006cff" fill-rule="evenodd" d="M549.5 499.6L543.5 498.9L537.5 496.4L529.5 490.6L521.0 482.5L518.9 481.5L519.0 479.5L517.7 478.5L516.4 474.5L515.5 467.5L516.4 461.5L518.5 458.7L520.5 458.5L521.9 459.5L523.2 461.5L523.9 464.5L523.3 470.5L520.5 477.0L520.5 478.7L532.5 471.3L537.5 469.8L543.5 469.0L549.5 469.4L555.5 471.1L560.5 474.0L564.0 477.5L565.7 480.5L566.7 484.5L566.0 488.5L564.6 491.5L562.1 494.5L558.5 497.1L554.5 498.7L549.5 499.6ZM511.5 548.6L509.5 547.9L508.5 546.8L507.5 544.5L507.0 541.5L507.7 536.5L510.7 528.5L508.2 529.5L500.5 534.7L494.5 537.0L486.5 537.9L478.5 536.7L471.5 533.2L468.6 530.5L466.6 527.5L465.3 523.5L465.2 520.5L465.8 517.5L467.5 514.5L470.4 511.5L473.6 509.5L477.5 508.1L482.5 507.5L486.5 507.9L490.5 509.1L498.5 514.0L510.0 524.5L512.1 525.5L512.0 527.5L513.7 529.5L515.3 536.5L515.4 542.5L514.2 546.5L512.5 548.3L511.5 548.6Z"/>
<path fill="#005fff" fill-rule="evenodd" d="M551.5 498.6L544.5 498.7L537.5 496.2L531.5 492.1L521.0 482.5L518.9 481.5L519.0 479.5L517.7 478.5L516.4 474.5L515.6 468.5L516.0 463.5L517.5 460.3L519.5 459.2L521.5 459.9L522.7 461.5L523.6 464.5L523.2 470.5L520.5 477.0L520.5 478.7L531.5 471.9L536.5 470.3L541.5 469.5L547.5 469.7L552.5 470.9L557.5 473.4L561.2 476.5L563.4 479.5L564.7 483.5L564.8 486.5L563.9 489.5L562.1 492.5L559.0 495.5L555.4 497.5L551.5 498.6ZM512.5 547.5L510.5 547.7L509.0 546.5L507.9 544.5L507.3 541.5L507.8 536.5L510.7 528.5L508.2 529.5L501.5 534.1L494.5 536.7L486.5 537.4L479.5 536.2L475.6 534.5L472.6 532.5L469.7 529.5L467.9 526.5L467.0 523.5L466.9 520.5L467.6 517.5L469.3 514.5L472.4 511.5L475.5 509.7L479.5 508.4L483.5 508.0L487.5 508.5L491.5 509.8L499.5 514.9L510.0 524.5L512.1 525.5L512.0 527.5L513.3 528.5L514.6 532.5L515.4 539.5L514.5 545.2L512.5 547.5Z"/>
<path fill="#0052ff" fill-rule="evenodd" d="M552.5 497.6L545.5 498.3L538.5 496.4L531.5 492.0L521.0 482.5L518.9 481.5L519.0 479.5L517.7 478.5L516.9 476.5L515.7 469.5L516.0 464.5L517.5 461.0L518.5 460.2L520.5 460.1L522.5 462.0L523.4 464.5L523.1 470.5L520.5 477.0L520.5 478.7L531.5 472.1L535.5 470.7L540.5 470.0L546.5 470.2L551.5 471.4L555.8 473.5L559.5 476.5L561.7 479.5L562.9 482.5L563.3 485.5L562.7 488.5L561.2 491.5L558.5 494.4L552.5 497.6ZM512.5 546.8L510.5 546.9L509.5 546.3L508.3 544.5L507.5 541.5L507.9 536.5L510.7 528.5L508.1 529.5L501.5 534.0L495.5 536.2L487.5 537.0L480.5 535.7L476.5 533.9L473.5 531.8L471.3 529.5L469.5 526.5L468.6 523.5L468.5 520.5L469.2 517.5L470.9 514.5L473.5 512.0L476.5 510.2L480.5 508.9L484.5 508.6L491.5 510.1L499.5 515.0L510.0 524.5L512.1 525.5L512.0 527.5L513.3 528.5L514.6 532.5L515.3 538.5L514.5 544.4L512.5 546.8Z"/>
<path fill="#0046ff" fill-rule="evenodd" d="M549.5 497.6L542.5 497.5L536.5 495.2L529.5 490.4L521.0 482.5L518.9 481.5L519.0 479.5L517.7 478.5L516.9 476.5L515.8 469.5L516.2 464.5L517.5 461.6L518.5 460.8L520.5 460.7L522.5 462.8L523.3 465.5L523.0 470.5L520.5 477.0L520.5 478.7L531.5 472.2L535.5 471.0L540.5 470.3L545.5 470.6L550.5 471.8L554.5 473.8L558.5 477.2L560.7 480.5L561.6 483.5L561.7 486.5L560.8 489.5L558.9 492.5L556.5 494.7L553.4 496.5L549.5 497.6ZM512.5 546.2L510.5 546.3L509.5 545.6L508.5 544.2L507.7 541.5L508.0 536.5L510.7 528.5L509.8 528.5L501.5 533.9L495.5 536.0L488.5 536.6L481.5 535.4L477.5 533.5L474.7 531.5L470.9 526.5L470.0 523.5L469.9 520.5L470.6 517.5L472.4 514.5L474.5 512.5L477.9 510.5L481.5 509.4L485.5 509.2L492.5 510.8L500.5 515.8L510.0 524.5L512.1 525.5L512.0 527.5L513.7 529.5L514.9 534.5L515.2 540.5L514.5 543.7L512.5 546.2Z"/>
<path fill="#0039ff" fill-rule="evenodd" d="M550.5 496.7L547.5 497.3L543.5 497.2L537.5 495.5L530.5 491.1L521.0 482.5L518.9 481.5L519.0 479.5L517.7 478.5L516.9 476.5L515.9 470.5L516.1 465.5L517.5 462.2L518.5 461.4L520.5 461.3L521.8 462.5L523.1 465.5L522.9 470.5L520.5 477.0L520.5 478.7L530.5 472.8L535.5 471.2L539.5 470.7L544.5 470.9L548.5 471.8L552.5 473.5L556.5 476.5L559.7 481.5L560.4 484.5L560.2 487.5L558.9 490.5L556.4 493.5L553.6 495.5L550.5 496.7ZM512.5 545.6L510.5 545.7L509.5 544.9L508.5 543.4L507.8 540.5L508.1 536.5L510.7 528.5L509.8 528.5L501.5 533.8L495.5 535.8L488.5 536.3L481.5 534.7L477.5 532.6L475.0 530.5L471.8 525.5L471.2 522.5L471.4 519.5L473.8 514.5L476.1 512.5L479.5 510.7L482.5 509.9L486.5 509.7L493.5 511.5L501.5 516.7L510.0 524.5L512.1 525.5L512.0 527.5L513.7 529.5L514.9 534.5L515.2 539.5L514.5 543.1L512.5 545.6Z"/>
<path fill="#002cff" fill-rule="evenodd" d="M548.5 496.6L542.5 496.7L536.5 494.8L530.5 491.0L521.0 482.5L518.9 481.5L519.0 479.5L517.7 478.5L516.9 476.5L515.9 470.5L516.2 465.5L517.5 462.7L518.5 461.9L520.5 461.9L522.1 463.5L522.8 465.5L522.9 470.5L520.5 476.9L520.5 478.7L530.5 472.9L534.5 471.6L539.5 471.0L544.5 471.3L548.8 472.5L552.7 474.5L556.1 477.5L558.8 482.5L559.1 485.5L558.6 488.5L556.9 491.5L555.0 493.5L551.8 495.5L548.5 496.6ZM512.5 545.1L510.5 545.1L509.5 544.3L508.0 540.5L508.1 536.5L510.8 528.5L509.8 528.5L502.5 533.2L496.5 535.4L489.5 536.0L483.5 534.8L477.4 531.5L475.4 529.5L473.5 526.5L472.5 523.5L472.4 520.5L474.4 515.5L476.5 513.3L479.5 511.4L482.5 510.5L486.5 510.1L493.5 511.8L501.5 516.7L510.0 524.5L512.1 525.5L512.0 527.5L513.7 529.5L514.9 534.5L515.1 539.5L514.5 542.5L512.5 545.1Z"/>
<path fill="#001fff" fill-rule="evenodd" d="M549.5 495.7L546.5 496.3L542.5 496.4L536.5 494.6L530.5 490.9L521.0 482.5L518.9 481.5L519.0 479.5L517.7 478.5L517.3 477.5L516.0 471.5L516.2 466.5L517.5 463.2L518.5 462.4L520.5 462.4L521.7 463.5L522.8 466.5L522.8 470.5L520.5 476.9L520.5 478.7L530.5 473.0L538.5 471.3L543.1 471.5L547.2 472.5L550.5 474.0L553.9 476.5L557.3 481.5L558.0 484.5L557.7 487.5L556.4 490.5L554.8 492.5L552.1 494.5L549.5 495.7ZM512.5 544.6L510.5 544.6L509.5 543.8L508.0 539.5L508.4 535.5L510.8 528.5L509.8 528.5L502.5 533.1L496.5 535.2L489.5 535.6L483.5 534.3L480.0 532.5L477.5 530.5L474.2 525.5L473.6 520.5L474.4 517.5L475.6 515.5L477.6 513.5L480.5 511.8L483.5 510.8L487.5 510.6L493.5 512.0L501.5 516.8L510.0 524.5L512.1 525.5L512.0 527.5L513.3 528.5L513.7 529.5L514.9 534.5L515.0 539.5L514.3 542.5L512.5 544.6Z"/>
<path fill="#0013ff" fill-rule="evenodd" d="M547.5 495.6L541.5 495.9L535.5 493.9L529.5 490.1L521.1 482.5L518.9 481.5L519.0 479.5L517.7 478.5L517.3 477.5L516.1 471.5L516.3 466.5L517.5 463.6L518.5 462.8L520.5 462.9L522.0 464.5L522.7 466.5L522.7 470.5L520.5 476.9L520.5 478.7L530.5 473.1L534.5 471.9L538.5 471.5L543.5 471.9L547.5 473.2L550.5 474.7L553.8 477.5L556.5 482.5L556.9 485.5L556.3 488.5L554.5 491.5L552.5 493.3L547.5 495.6ZM512.5 544.2L510.5 544.1L509.5 543.2L508.2 539.5L508.7 534.5L510.8 528.5L509.8 528.5L502.5 533.0L496.5 535.0L490.5 535.4L484.5 534.1L478.6 530.5L475.2 525.5L474.6 520.5L475.5 517.5L476.8 515.5L478.9 513.5L481.5 512.0L484.5 511.2L488.5 511.0L495.5 513.1L502.5 517.7L509.9 524.5L512.1 525.5L512.0 527.5L513.3 528.5L513.7 529.5L514.7 533.5L515.0 538.5L514.5 541.5L512.5 544.2Z"/>
<path fill="#0006ff" fill-rule="evenodd" d="M544.5 495.6L539.5 495.2L533.5 492.7L527.5 488.5L521.1 482.5L518.9 481.5L519.1 479.5L517.7 478.5L516.2 472.5L516.2 467.5L517.5 464.0L518.5 463.2L520.5 463.3L521.5 464.3L522.5 466.6L522.6 470.5L520.5 476.9L520.5 478.7L530.5 473.2L537.5 471.8L542.5 472.1L546.5 473.3L549.5 474.8L552.7 477.5L555.5 482.5L555.9 485.5L555.3 488.5L553.4 491.5L551.0 493.5L547.5 495.1L544.5 495.6ZM512.5 543.8L510.5 543.7L509.5 542.7L508.3 539.5L508.8 534.5L510.8 528.5L509.8 528.5L502.5 533.0L496.5 534.9L490.5 535.1L484.5 533.6L479.6 530.5L477.8 528.5L476.2 525.5L475.6 520.5L476.6 517.5L477.9 515.5L480.5 513.3L484.5 511.7L488.5 511.4L492.5 512.1L500.5 516.2L509.9 524.5L511.5 524.9L512.1 525.5L511.9 527.5L513.3 528.5L514.0 530.5L514.9 535.5L514.5 541.0L512.5 543.8Z"/>
<path fill="#0000ff" fill-rule="evenodd" d="M547.5 494.5L541.5 495.2L535.5 493.6L529.5 490.0L521.1 482.5L518.9 481.5L519.1 479.5L517.7 478.5L516.2 472.5L516.3 467.5L517.5 464.5L518.5 463.6L520.5 463.8L521.5 464.7L522.5 467.4L522.4 471.5L520.5 476.9L520.5 478.7L529.5 473.7L533.5 472.5L537.5 472.0L541.5 472.3L545.5 473.4L548.5 474.8L551.8 477.5L554.6 482.5L554.6 487.5L552.3 491.5L547.5 494.5ZM511.5 543.6L509.5 542.3L508.4 538.5L508.8 534.5L510.8 528.5L509.8 528.5L502.5 532.9L497.5 534.5L491.5 534.9L485.4 533.5L480.5 530.5L478.7 528.5L477.0 525.5L476.5 520.5L477.5 517.5L478.9 515.5L481.4 513.5L484.5 512.2L488.5 511.7L492.5 512.3L496.5 513.9L500.5 516.3L509.9 524.5L511.5 524.9L512.1 525.5L511.9 527.5L513.3 528.5L514.0 530.5L514.9 536.5L514.1 541.5L512.5 543.4L511.5 543.6Z"/>
<path fill="#ffffe9" fill-rule="evenodd" d="M613.5 647.6L605.5 648.0L596.5 647.1L588.5 645.2L580.5 642.3L572.5 638.2L564.5 632.8L557.5 626.9L550.5 619.5L544.5 611.8L539.5 604.1L534.5 594.7L530.5 585.8L523.8 566.5L514.8 532.5L513.3 528.5L512.0 527.5L512.2 525.5L509.1 523.5L490.5 503.8L486.5 501.0L479.5 497.8L439.2 485.5L428.6 481.5L417.5 476.5L406.7 470.5L398.0 464.5L389.9 457.5L383.6 450.5L376.9 440.5L372.3 429.5L370.2 418.5L370.6 407.5L373.2 397.5L377.9 388.5L383.7 381.5L394.5 371.9L402.5 366.8L410.5 363.6L419.5 361.7L429.5 361.4L439.5 362.7L448.5 365.4L457.5 369.6L466.5 375.3L473.5 381.1L480.5 388.3L486.5 395.9L492.5 405.2L498.5 416.9L504.5 432.1L510.1 450.5L516.2 474.5L517.7 478.5L519.0 479.5L518.8 481.5L521.9 483.5L538.5 501.3L544.5 506.0L551.5 509.1L592.1 521.5L605.3 526.5L616.2 531.5L626.8 537.5L635.3 543.5L643.3 550.5L649.6 557.5L653.9 563.5L657.9 570.5L660.7 577.5L662.5 584.5L663.4 591.5L663.3 598.5L662.2 605.5L659.9 612.5L656.4 619.5L652.0 625.5L638.5 637.8L632.5 641.6L626.5 644.4L620.5 646.3L613.5 647.6ZM520.5 478.6L520.5 477.2L522.5 473.8L530.5 462.8L536.5 455.9L538.5 454.4L539.5 454.3L539.6 455.5L538.1 458.5L532.4 466.5L524.7 475.5L520.5 478.6ZM492.5 552.5L491.5 552.5L491.9 550.5L496.3 543.5L506.3 531.5L508.4 529.5L510.7 528.5L510.5 529.8L508.5 533.2L501.5 542.9L496.5 549.0L492.5 552.5Z"/>
<path fill="#ffffbf" fill-rule="evenodd" d="M602.5 629.5L595.5 630.2L588.5 629.8L580.5 628.3L573.5 626.0L566.5 622.7L559.5 618.3L552.5 612.7L546.5 606.7L541.5 600.5L536.5 593.1L528.5 577.5L522.0 559.5L514.1 530.5L513.3 528.5L512.0 527.5L512.2 525.5L509.1 523.5L490.5 503.7L486.5 500.9L480.5 498.0L448.5 487.5L429.7 479.5L420.9 474.5L413.7 469.5L406.8 463.5L401.3 457.5L395.2 448.5L391.3 439.5L389.3 429.5L389.4 420.5L391.5 411.5L395.5 403.5L400.5 397.2L409.9 388.5L416.5 384.1L424.5 380.8L432.5 379.1L440.5 378.8L449.5 380.0L457.5 382.3L465.5 386.0L473.5 391.1L480.5 397.0L487.5 404.5L493.5 412.8L499.5 423.3L503.5 432.1L507.5 443.0L516.9 476.5L517.7 478.5L519.0 479.5L518.8 481.5L521.9 483.5L538.5 501.4L543.5 505.5L549.5 508.5L585.6 520.5L603.8 528.5L612.4 533.5L619.5 538.5L626.3 544.5L631.8 550.5L635.4 555.5L638.9 561.5L641.4 567.5L643.1 573.5L644.0 579.5L644.1 585.5L643.3 591.5L641.6 597.5L638.9 603.5L634.8 609.5L623.5 620.3L618.5 623.8L613.5 626.3L608.5 628.1L602.5 629.5ZM520.5 478.6L520.5 477.2L521.5 475.5L527.5 467.0L532.5 461.3L534.5 459.8L535.5 459.7L535.1 461.5L533.5 464.5L528.2 471.5L523.7 476.5L520.5 478.6ZM497.5 546.6L496.5 547.2L495.5 546.5L499.6 539.5L506.3 531.5L508.4 529.5L510.7 528.5L509.5 531.5L505.5 537.4L497.5 546.6Z"/>
<path fill="#ffff94" fill-rule="evenodd" d="M592.5 618.6L586.5 619.0L579.5 618.4L572.5 616.9L566.5 614.7L559.5 611.2L553.5 607.2L547.5 602.1L542.5 597.0L533.5 584.5L526.5 570.6L520.5 553.8L514.1 530.5L513.3 528.5L512.0 527.5L512.2 525.5L509.1 523.5L490.5 503.6L486.5 500.7L481.5 498.3L451.0 487.5L435.9 480.5L429.2 476.5L422.3 471.5L416.7 466.5L411.4 460.5L406.3 452.5L402.7 443.5L401.2 434.5L401.6 426.5L403.8 418.5L407.5 411.6L411.7 406.5L420.5 398.3L426.4 394.5L432.5 391.9L439.5 390.3L447.5 389.8L455.5 390.8L462.5 392.7L470.5 396.3L477.5 400.7L484.5 406.5L490.5 413.0L496.5 421.3L501.5 430.1L508.5 447.1L516.9 476.5L517.7 478.5L519.0 479.5L518.8 481.5L520.9 482.5L538.5 501.5L543.5 505.6L552.5 509.9L582.8 520.5L595.7 526.5L602.6 530.5L609.6 535.5L615.3 540.5L620.8 546.5L624.3 551.5L627.6 557.5L629.9 563.5L631.2 568.5L631.8 574.5L631.7 579.5L630.7 585.5L629.0 590.5L626.6 595.5L623.0 600.5L612.5 610.5L603.5 615.7L598.5 617.4L592.5 618.6ZM520.5 478.6L520.5 477.2L525.5 469.7L530.5 464.0L532.5 462.4L533.1 462.5L533.3 463.5L532.4 465.5L528.2 471.5L523.7 476.5L520.5 478.6ZM498.5 544.5L497.8 543.5L498.1 542.5L501.3 537.5L507.3 530.5L510.0 528.5L510.7 528.5L509.5 531.5L505.5 537.3L501.5 542.0L498.5 544.5Z"/>
<path fill="#ffff6a" fill-rule="evenodd" d="M587.5 610.5L577.5 610.9L566.5 608.6L556.5 604.2L546.5 597.0L541.5 592.2L536.5 586.2L531.5 578.7L527.5 571.2L521.5 556.3L514.1 530.5L513.3 528.5L512.0 527.5L512.2 525.5L510.1 524.5L492.5 505.4L487.5 501.2L479.5 497.2L453.2 487.5L440.9 481.5L429.1 473.5L423.7 468.5L419.4 463.5L414.8 456.5L411.5 448.5L410.0 440.5L410.2 432.5L411.9 425.5L415.4 418.5L419.3 413.5L427.8 405.5L433.5 401.8L439.5 399.4L446.5 397.9L453.5 397.7L461.5 398.8L468.5 401.0L475.5 404.3L481.5 408.3L487.5 413.4L493.5 420.0L498.5 427.1L502.5 434.0L509.5 450.8L516.9 476.5L517.7 478.5L519.0 479.5L518.8 481.5L520.9 482.5L538.5 501.6L543.5 505.8L551.5 509.7L578.2 519.5L590.7 525.5L602.7 533.5L608.3 538.5L612.8 543.5L619.0 553.5L622.3 563.5L623.0 573.5L622.3 578.5L620.8 583.5L618.5 588.5L615.5 592.9L605.9 602.5L597.5 607.6L587.5 610.5ZM520.5 478.6L520.5 477.2L524.5 471.1L528.5 466.3L531.5 464.1L532.0 464.5L531.4 466.5L528.1 471.5L523.7 476.5L520.5 478.6ZM499.5 542.9L499.1 542.5L499.6 540.5L503.7 534.5L508.5 529.5L510.7 528.5L509.5 531.5L505.5 537.2L501.5 541.6L499.5 542.9Z"/>
<path fill="#ffff3f" fill-rule="evenodd" d="M582.5 604.6L573.5 604.8L563.5 602.8L553.5 598.4L544.5 592.0L539.5 587.2L534.5 581.1L530.5 575.2L526.5 567.8L520.5 552.8L514.1 530.5L513.3 528.5L512.0 527.5L512.2 525.5L509.1 523.5L492.5 505.2L487.5 501.1L480.5 497.4L457.3 488.5L445.2 482.5L433.8 474.5L425.2 465.5L420.8 458.5L418.0 451.5L416.5 443.5L416.8 436.5L418.6 429.5L421.6 423.5L425.5 418.5L433.5 410.8L439.5 407.1L445.5 404.9L451.5 403.8L458.5 403.7L465.5 404.7L472.5 407.0L478.5 410.0L484.5 414.0L490.5 419.4L495.5 425.0L500.5 432.2L504.0 438.5L510.5 454.2L516.9 476.5L517.7 478.5L519.0 479.5L518.8 481.5L521.9 483.5L538.5 501.8L543.5 505.9L551.5 510.0L574.1 518.5L586.3 524.5L598.0 532.5L606.8 541.5L612.4 550.5L615.7 560.5L616.3 565.5L616.2 570.5L614.0 579.5L611.5 584.5L608.7 588.5L599.5 597.5L591.5 602.1L582.5 604.6ZM520.5 478.6L520.5 477.2L525.5 469.8L528.5 466.6L530.9 465.5L530.6 467.5L527.3 472.5L523.7 476.5L520.5 478.6ZM500.5 541.7L500.1 540.5L500.4 539.5L503.7 534.5L508.5 529.5L510.7 528.5L510.5 529.8L506.5 535.9L503.5 539.4L500.5 541.7Z"/>
<path fill="#ffff15" fill-rule="evenodd" d="M579.5 599.6L570.5 600.0L560.5 598.1L551.5 594.1L542.5 587.7L533.5 577.9L529.5 572.0L525.5 564.7L519.9 550.5L514.1 530.5L513.3 528.5L512.0 527.5L512.2 525.5L509.1 523.5L493.5 506.2L488.5 501.6L482.5 498.1L461.1 489.5L449.1 483.5L439.0 476.5L434.6 472.5L430.3 467.5L425.8 460.5L423.1 453.5L421.9 446.5L422.1 439.5L423.6 433.5L426.5 427.5L429.5 423.5L437.6 415.5L442.5 412.3L448.5 409.8L454.5 408.6L461.5 408.4L467.5 409.2L474.5 411.4L480.5 414.3L486.5 418.3L491.5 422.7L496.5 428.2L500.5 433.7L504.5 440.6L510.5 454.7L516.9 476.5L517.7 478.5L519.0 479.5L518.8 481.5L521.9 483.5L538.5 501.9L543.5 506.1L550.5 509.7L572.6 518.5L582.5 523.5L592.8 530.5L601.8 539.5L607.3 548.5L610.3 557.5L610.8 566.5L608.9 575.5L604.4 583.5L595.6 592.5L588.5 596.9L579.5 599.6ZM520.5 478.6L520.5 477.2L525.5 469.9L528.5 467.0L529.5 466.3L530.3 466.5L529.3 469.5L526.4 473.5L522.5 477.5L520.5 478.6ZM501.5 540.7L500.7 540.5L500.8 539.5L503.8 534.5L508.5 529.5L510.7 528.5L510.5 529.8L507.5 534.5L504.5 538.2L501.5 540.7Z"/>
<path fill="#fff800" fill-rule="evenodd" d="M576.5 595.7L567.5 596.0L557.5 593.9L548.5 589.7L540.5 583.8L535.5 578.8L531.5 573.7L524.9 562.5L519.5 549.1L514.1 530.5L513.3 528.5L512.0 527.5L512.2 525.5L509.1 523.5L492.5 505.0L488.5 501.5L482.5 498.0L462.3 489.5L450.9 483.5L441.3 476.5L433.9 468.5L430.2 462.5L427.4 455.5L426.2 448.5L426.6 441.5L428.3 435.5L430.8 430.5L433.9 426.5L441.5 418.9L446.5 415.8L451.5 413.7L457.5 412.4L463.5 412.2L469.5 413.0L475.5 414.7L481.5 417.5L487.5 421.3L492.5 425.6L497.5 431.0L501.5 436.6L505.5 443.5L511.0 456.5L516.9 476.5L517.7 478.5L519.0 479.5L518.8 481.5L521.9 483.5L538.5 502.0L542.5 505.5L548.5 509.0L569.0 517.5L580.7 523.5L590.4 530.5L598.1 538.5L603.0 546.5L605.9 555.5L606.3 564.5L604.5 572.5L602.6 576.5L600.0 580.5L592.3 588.5L584.5 593.3L576.5 595.7ZM520.5 478.6L520.5 477.2L524.5 471.2L527.5 468.0L529.5 467.0L529.6 468.5L526.4 473.5L522.5 477.5L520.5 478.6ZM502.5 539.7L501.5 540.0L501.4 538.5L503.8 534.5L508.5 529.5L510.7 528.5L510.5 529.8L507.5 534.5L502.5 539.7Z"/>
<path fill="#ffeb00" fill-rule="evenodd" d="M566.5 583.6L558.5 583.8L550.5 582.1L542.5 578.3L535.5 573.1L528.5 565.2L522.5 555.0L518.5 545.2L513.8 529.5L512.0 527.5L512.2 525.5L509.1 523.5L492.5 504.5L488.5 500.8L483.5 497.6L468.7 490.5L460.1 485.5L452.4 479.5L446.9 473.5L443.7 468.5L441.2 462.5L440.0 456.5L440.2 450.5L441.3 445.5L443.7 440.5L449.5 433.2L453.5 429.6L457.5 427.1L462.5 425.2L467.5 424.3L472.5 424.2L478.5 425.2L483.5 426.8L488.5 429.3L493.5 432.7L501.5 440.8L507.5 450.1L512.5 461.8L517.2 477.5L519.0 479.5L518.8 481.5L521.9 483.5L538.5 502.5L542.5 506.2L547.5 509.4L562.6 516.5L571.5 521.5L579.4 527.5L585.7 534.5L589.8 541.5L592.0 548.5L592.4 556.5L590.8 563.5L587.5 569.5L580.2 577.5L573.8 581.5L566.5 583.6ZM520.5 478.6L520.5 477.2L523.5 472.7L526.5 469.6L527.5 469.1L528.1 469.5L527.5 471.5L525.5 474.5L522.5 477.5L520.5 478.6ZM503.5 537.9L502.9 537.5L503.0 536.5L505.5 532.5L508.5 529.5L510.7 528.5L510.5 529.8L507.5 534.3L503.5 537.9Z"/>
<path fill="#ffdf00" fill-rule="evenodd" d="M559.5 576.5L551.5 576.3L544.5 574.4L537.5 570.7L531.5 565.8L525.5 558.5L521.0 550.5L517.5 541.8L513.8 529.5L512.0 527.5L512.2 525.5L509.1 523.5L489.5 500.9L484.5 497.4L471.7 490.5L465.4 486.5L459.4 481.5L454.1 475.5L451.2 470.5L449.3 465.5L448.3 459.5L448.6 454.5L450.1 449.5L452.2 445.5L456.8 439.5L461.4 435.5L465.5 433.3L469.5 432.0L474.5 431.3L479.5 431.5L488.5 434.1L493.5 436.8L497.5 439.8L504.5 447.3L509.5 455.6L513.5 465.2L517.2 477.5L519.0 479.5L518.8 481.5L521.9 483.5L541.5 506.1L546.5 509.6L561.3 517.5L567.4 521.5L573.3 526.5L578.4 532.5L581.7 538.5L583.7 545.5L583.8 552.5L582.3 558.5L579.5 563.5L575.5 568.5L572.5 571.3L566.5 574.8L559.5 576.5ZM520.5 478.6L520.5 477.2L523.5 472.8L525.5 470.8L526.5 470.3L527.1 470.5L526.7 472.5L525.4 474.5L522.5 477.5L520.5 478.6ZM504.5 536.7L503.9 536.5L503.9 535.5L505.6 532.5L508.5 529.5L510.7 528.5L510.5 529.8L508.5 532.9L504.5 536.7Z"/>
<path fill="#ffd200" fill-rule="evenodd" d="M555.5 571.6L549.5 571.6L542.5 569.9L535.5 566.4L529.5 561.5L524.5 555.4L520.5 548.5L517.5 541.4L513.8 529.5L512.0 527.5L512.2 525.5L509.1 523.5L489.5 500.2L468.4 486.5L462.9 481.5L459.0 476.5L456.8 472.5L455.0 467.5L454.2 462.5L454.6 457.5L455.7 453.5L457.8 449.5L462.3 443.5L466.5 439.9L470.5 437.9L474.5 436.7L482.5 436.3L486.5 437.1L491.5 438.9L499.5 444.0L505.5 450.4L510.0 457.5L513.5 465.6L517.2 477.5L519.0 479.5L518.8 481.5L521.9 483.5L541.5 506.8L545.5 509.8L563.0 520.5L568.7 525.5L572.8 530.5L576.1 536.5L577.9 543.5L577.8 549.5L576.1 555.5L571.5 562.6L567.5 566.7L561.5 570.1L555.5 571.6ZM520.5 478.6L520.5 477.3L522.5 474.2L524.5 472.0L526.5 471.2L526.4 472.5L524.5 475.5L520.5 478.6ZM505.5 535.8L504.4 535.5L505.7 532.5L508.5 529.5L510.7 528.5L510.5 529.7L508.5 532.8L505.5 535.8Z"/>
<path fill="#ffc500" fill-rule="evenodd" d="M554.5 567.5L548.5 568.0L541.5 566.7L534.5 563.5L528.5 558.8L523.5 552.8L519.5 545.8L513.8 529.5L512.0 527.5L512.2 525.5L510.1 524.5L503.8 517.5L492.5 502.7L489.5 499.5L472.0 487.5L467.6 483.5L464.2 479.5L461.3 474.5L459.7 470.5L458.8 465.5L459.0 460.5L460.0 456.5L462.1 452.5L465.5 447.4L469.5 443.8L473.5 441.6L477.5 440.3L485.5 440.0L493.5 442.3L501.5 447.6L506.5 453.0L510.5 459.3L513.5 466.0L517.2 477.5L519.0 479.5L518.8 481.5L520.9 482.5L527.2 489.5L538.5 504.3L541.5 507.5L559.3 519.5L563.9 523.5L568.2 528.5L571.5 534.5L573.2 540.5L573.3 546.5L572.1 551.5L568.1 558.5L564.6 562.5L559.5 565.8L554.5 567.5ZM520.5 478.6L520.5 477.3L522.5 474.3L525.5 471.7L526.1 472.5L525.1 474.5L522.5 477.5L520.5 478.6ZM506.5 534.8L505.5 535.3L504.9 534.5L505.9 532.5L508.5 529.5L510.5 528.4L510.5 529.7L509.5 531.4L506.5 534.8Z"/>
<path fill="#ffb800" fill-rule="evenodd" d="M551.5 564.7L545.5 565.0L539.5 563.9L533.5 561.1L527.5 556.4L523.5 551.8L519.5 545.3L513.8 529.5L512.0 527.5L512.2 525.5L510.1 524.5L503.0 516.5L490.5 499.8L486.5 496.4L474.0 487.5L469.8 483.5L466.7 479.5L464.5 475.5L462.9 470.5L462.3 466.5L462.5 462.5L464.0 457.5L466.8 452.5L469.5 449.0L472.5 446.4L475.5 444.6L479.5 443.3L483.5 442.7L487.5 442.9L495.5 445.2L502.5 449.9L507.5 455.3L511.5 461.8L514.5 469.0L517.2 477.5L519.0 479.5L518.8 481.5L520.9 482.5L528.0 490.5L540.5 507.2L544.5 510.6L557.3 519.5L561.6 523.5L564.9 527.5L567.7 532.5L569.5 538.5L569.7 544.5L568.5 549.5L564.5 556.5L561.5 559.9L556.5 563.1L551.5 564.7ZM520.5 478.6L520.5 477.3L522.5 474.3L524.5 472.4L525.5 472.2L525.6 473.5L524.4 475.5L520.5 478.6ZM506.5 534.6L505.3 534.5L506.6 531.5L508.6 529.5L510.7 528.5L509.5 531.3L506.5 534.6Z"/>
<path fill="#ffac00" fill-rule="evenodd" d="M547.5 562.6L541.5 562.4L535.5 560.6L530.5 557.8L525.5 553.4L521.5 548.2L518.5 542.8L513.8 529.5L512.0 527.5L512.2 525.5L510.1 524.5L503.0 516.5L490.5 499.1L475.7 487.5L471.7 483.5L468.8 479.5L466.8 475.5L465.7 471.5L465.3 466.5L465.8 462.5L467.2 458.5L470.1 453.5L472.5 450.5L475.5 448.1L478.7 446.5L482.5 445.4L489.5 445.2L496.5 447.3L503.5 451.9L507.5 456.1L511.5 462.3L514.5 469.2L517.2 477.5L519.0 479.5L518.8 481.5L520.9 482.5L528.0 490.5L540.5 507.9L556.7 520.5L562.7 527.5L565.3 532.5L566.7 538.5L566.6 543.5L565.2 548.5L561.8 554.5L558.0 558.5L553.5 561.1L547.5 562.6ZM520.5 478.6L520.5 477.3L521.5 475.7L524.5 472.7L525.3 473.5L524.3 475.5L522.4 477.5L520.5 478.6ZM507.5 533.6L506.5 534.3L505.7 533.5L507.5 530.5L510.5 528.4L510.5 529.7L507.5 533.6Z"/>
<path fill="#ff9f00" fill-rule="evenodd" d="M546.5 560.6L540.5 560.5L534.5 558.8L529.5 555.9L524.5 551.4L521.5 547.6L518.5 542.4L513.8 529.5L512.0 527.5L512.2 525.5L510.1 524.5L503.1 516.5L490.5 498.3L477.2 487.5L471.3 480.5L469.2 476.5L468.1 472.5L467.7 468.5L468.2 464.5L469.4 460.5L472.0 455.5L474.4 452.5L477.5 450.0L483.5 447.5L490.5 447.1L497.5 449.1L504.5 453.7L508.5 458.1L512.5 464.6L517.2 477.5L519.0 479.5L518.8 481.5L520.9 482.5L527.9 490.5L540.5 508.7L555.1 520.5L560.9 527.5L562.8 531.5L564.1 536.5L564.2 541.5L563.0 546.5L559.8 552.5L556.5 556.2L551.5 559.2L546.5 560.6ZM520.5 478.6L520.5 477.3L521.5 475.7L524.5 472.9L525.1 473.5L524.2 475.5L522.4 477.5L520.5 478.6ZM507.5 533.5L506.5 534.1L505.9 533.5L506.2 532.5L508.6 529.5L510.5 528.4L510.5 529.7L507.5 533.5Z"/>
<path fill="#ff9200" fill-rule="evenodd" d="M546.5 558.6L541.5 559.0L535.5 557.9L529.5 555.0L524.5 550.8L521.5 547.1L518.5 542.1L513.8 529.5L512.0 527.5L512.2 525.5L509.1 523.5L502.4 515.5L491.5 498.7L478.6 487.5L472.9 480.5L471.0 476.5L469.9 472.5L470.3 465.5L474.2 456.5L476.7 453.5L479.5 451.3L485.5 449.0L492.5 448.8L499.5 451.1L505.5 455.4L509.5 459.9L512.5 464.9L517.2 477.5L519.0 479.5L518.8 481.5L521.9 483.5L528.6 491.5L539.5 508.3L553.7 520.5L558.6 526.5L561.0 531.5L562.0 535.5L562.1 539.5L561.1 544.5L558.2 550.5L555.5 553.9L551.5 556.8L546.5 558.6ZM520.5 478.6L520.5 477.3L521.5 475.8L524.5 473.2L524.7 474.5L524.1 475.5L522.4 477.5L520.5 478.6ZM506.5 533.8L506.3 532.5L507.6 530.5L510.7 528.5L509.5 531.2L506.5 533.8Z"/>
<path fill="#ff8500" fill-rule="evenodd" d="M542.5 557.5L537.5 557.3L532.5 555.7L527.5 552.8L523.5 549.1L520.5 545.2L517.5 539.8L513.8 529.5L512.0 527.5L512.2 525.5L509.1 523.5L501.7 514.5L491.5 498.0L478.8 486.5L474.3 480.5L471.8 473.5L472.0 466.5L476.0 457.5L478.5 454.6L481.5 452.4L487.5 450.3L494.5 450.4L500.5 452.6L506.5 457.0L509.5 460.4L512.5 465.2L517.2 477.5L519.0 479.5L518.8 481.5L521.9 483.5L529.3 492.5L539.5 509.0L552.4 520.5L557.1 526.5L559.4 531.5L560.3 537.5L559.6 542.5L557.4 547.5L554.9 551.5L551.5 554.5L547.5 556.5L542.5 557.5ZM520.5 478.6L520.5 477.3L521.5 475.8L523.5 473.8L524.5 473.5L524.6 474.5L523.3 476.5L520.5 478.6ZM506.5 533.5L506.4 532.5L507.7 530.5L510.7 528.5L509.5 531.2L507.5 533.2L506.5 533.5Z"/>
<path fill="#ff7900" fill-rule="evenodd" d="M545.5 555.5L539.5 556.3L533.5 555.2L528.5 552.7L523.5 548.6L520.5 544.9L518.0 540.5L513.8 529.5L512.0 527.5L512.3 525.5L509.2 523.5L501.8 514.5L491.5 497.2L480.9 487.5L476.2 481.5L473.4 474.5L473.1 470.5L473.5 467.5L476.7 459.5L479.1 456.5L482.5 453.7L488.5 451.5L495.5 451.6L501.5 453.9L507.5 458.5L510.5 462.2L513.0 466.5L517.2 477.5L519.0 479.5L518.7 481.5L521.8 483.5L529.2 492.5L539.5 509.8L550.2 519.5L555.2 525.5L557.2 529.5L558.4 533.5L558.6 537.5L558.0 541.5L555.9 546.5L553.3 550.5L549.8 553.5L545.5 555.5ZM520.5 478.6L520.5 477.4L522.5 474.7L523.5 473.9L524.5 474.5L523.3 476.5L520.5 478.6ZM507.5 533.1L506.5 532.5L507.0 531.5L508.7 529.5L510.7 528.5L509.5 531.2L507.5 533.1Z"/>
<path fill="#ff6c00" fill-rule="evenodd" d="M543.5 554.7L538.5 555.2L532.5 554.0L527.5 551.4L522.5 547.0L517.5 539.4L513.8 529.5L512.0 527.5L512.3 525.5L509.2 523.5L501.9 514.5L492.3 497.5L482.0 487.5L477.4 481.5L474.8 474.5L475.0 467.5L478.5 459.6L480.5 457.2L483.5 454.8L489.5 452.6L495.5 452.6L501.5 454.6L507.5 459.0L510.5 462.5L513.5 467.6L517.2 477.5L519.0 479.5L518.7 481.5L521.8 483.5L529.1 492.5L532.8 498.5L537.5 507.8L539.5 510.5L549.2 519.5L554.0 525.5L555.9 529.5L557.0 533.5L557.1 537.5L556.3 541.5L554.2 546.5L551.5 550.1L547.5 553.1L543.5 554.7ZM520.5 478.6L520.5 477.4L522.5 474.8L523.5 474.0L524.3 474.5L523.3 476.5L520.5 478.6ZM507.5 533.0L506.7 532.5L507.7 530.5L510.6 528.5L509.5 531.1L507.5 533.0Z"/>
<path fill="#ff5f00" fill-rule="evenodd" d="M542.5 553.7L537.5 554.2L531.5 552.9L526.5 550.2L522.5 546.6L517.5 539.2L513.8 529.5L512.0 527.5L512.3 525.5L509.2 523.5L502.0 514.5L492.5 497.0L483.0 487.5L479.0 482.5L476.2 475.5L475.8 471.5L476.2 468.5L477.9 463.5L479.5 460.5L481.5 458.1L484.5 455.7L490.5 453.5L496.5 453.6L502.5 455.8L508.5 460.5L513.5 467.8L517.2 477.5L519.0 479.5L518.7 481.5L521.8 483.5L529.0 492.5L538.5 510.0L549.1 520.5L552.9 525.5L554.8 529.5L555.7 533.5L555.8 537.5L554.8 541.5L553.1 545.5L550.1 549.5L546.5 552.2L542.5 553.7ZM520.5 478.6L520.5 477.4L521.5 475.9L523.5 474.2L524.0 474.5L523.2 476.5L520.5 478.6ZM507.5 532.8L507.0 532.5L507.8 530.5L510.6 528.5L509.5 531.1L507.5 532.8Z"/>
<path fill="#ff5200" fill-rule="evenodd" d="M542.5 552.6L537.5 553.3L531.5 552.2L526.5 549.6L521.5 545.1L517.5 539.1L513.3 528.5L512.0 527.5L512.3 525.5L509.2 523.5L502.1 514.5L492.5 496.2L483.9 487.5L480.0 482.5L477.3 475.5L477.2 469.5L478.8 464.5L480.3 461.5L482.8 458.5L485.5 456.5L491.5 454.3L497.5 454.6L503.5 456.9L508.5 460.8L513.5 468.0L517.7 478.5L519.0 479.5L518.7 481.5L521.8 483.5L528.9 492.5L538.5 510.8L548.2 520.5L551.9 525.5L553.7 529.5L554.5 533.5L554.5 537.5L553.8 540.5L552.2 544.5L549.5 548.3L546.5 550.8L542.5 552.6ZM520.5 478.6L520.5 477.4L521.5 475.9L522.5 474.9L523.8 474.5L523.2 476.5L520.5 478.6ZM507.5 532.7L507.2 531.5L507.8 530.5L510.6 528.5L509.5 531.1L507.5 532.7Z"/>
<path fill="#ff4600" fill-rule="evenodd" d="M541.5 551.8L536.5 552.4L530.5 551.2L525.5 548.5L521.5 544.8L517.5 538.9L513.3 528.5L512.0 527.5L512.3 525.5L509.2 523.5L502.8 515.5L499.2 509.5L493.5 496.9L483.8 486.5L480.9 482.5L478.3 475.5L478.4 469.5L481.0 462.5L483.4 459.5L486.5 457.1L492.5 455.1L498.5 455.5L504.5 458.0L509.5 462.2L513.5 468.1L517.7 478.5L519.0 479.5L518.7 481.5L521.8 483.5L528.8 492.5L532.3 498.5L536.5 508.4L538.5 511.5L547.3 520.5L550.9 525.5L552.7 529.5L553.4 533.5L553.3 537.5L552.2 541.5L550.8 544.5L548.5 547.6L545.5 550.1L541.5 551.8ZM520.5 478.6L520.5 477.4L521.5 476.0L523.6 474.5L523.7 475.5L523.1 476.5L520.5 478.6ZM507.5 532.6L507.3 531.5L507.9 530.5L510.6 528.5L509.5 531.0L507.5 532.6Z"/>
<path fill="#ff3900" fill-rule="evenodd" d="M538.5 551.5L533.5 551.4L528.5 549.8L524.5 547.3L520.5 543.4L517.5 538.7L513.3 528.5L512.0 527.5L512.3 525.5L509.2 523.5L502.9 515.5L498.9 508.5L493.8 496.5L484.6 486.5L481.2 481.5L479.2 475.5L479.5 469.5L480.7 465.5L482.3 462.5L484.5 459.9L487.5 457.7L492.5 455.9L498.5 456.1L504.5 458.4L509.5 462.5L513.5 468.3L517.7 478.5L519.0 479.5L518.7 481.5L521.8 483.5L530.0 494.5L537.5 510.9L546.5 520.5L550.0 525.5L551.7 529.5L552.4 533.5L552.2 537.5L550.6 542.5L548.9 545.5L545.9 548.5L542.5 550.5L538.5 551.5ZM520.5 478.6L520.5 477.4L521.5 476.0L523.5 474.7L523.1 476.5L520.5 478.6ZM508.5 532.0L507.5 532.3L507.3 531.5L508.8 529.5L510.5 528.4L510.5 529.6L508.5 532.0Z"/>
<path fill="#ff2c00" fill-rule="evenodd" d="M539.5 550.5L534.5 550.9L529.5 549.8L524.5 547.0L520.5 543.1L517.0 537.5L513.3 528.5L512.0 527.5L512.3 525.5L509.2 523.5L501.1 512.5L494.3 496.5L485.4 486.5L482.6 482.5L481.2 479.5L480.1 475.5L480.5 469.5L481.7 465.5L483.5 462.5L485.5 460.3L488.5 458.1L493.5 456.5L499.5 456.8L504.5 458.8L509.5 462.8L513.5 468.4L517.7 478.5L519.0 479.5L518.7 481.5L521.8 483.5L529.9 494.5L536.7 510.5L539.0 513.5L545.7 520.5L549.2 525.5L550.8 529.5L551.5 533.5L551.2 537.5L550.0 541.5L548.3 544.5L545.6 547.5L542.5 549.5L539.5 550.5ZM520.5 478.6L520.5 477.4L521.5 476.0L522.5 475.1L523.5 475.0L523.1 476.5L520.5 478.6ZM508.5 531.9L507.5 532.0L507.9 530.5L510.5 528.4L510.5 529.6L508.5 531.9Z"/>
<path fill="#ff1f00" fill-rule="evenodd" d="M539.5 549.7L534.5 550.3L529.5 549.3L524.5 546.6L520.5 542.9L517.0 537.5L513.3 528.5L512.0 527.5L512.3 525.5L509.2 523.5L501.2 512.5L494.5 496.1L486.1 486.5L483.3 482.5L481.1 476.5L481.2 470.5L482.3 466.5L483.9 463.5L488.5 459.1L493.5 457.3L499.5 457.4L505.5 459.8L510.5 464.2L514.0 469.5L517.7 478.5L519.0 479.5L518.7 481.5L521.8 483.5L529.8 494.5L536.5 510.9L545.0 520.5L547.9 524.5L549.7 528.5L550.5 532.5L550.4 536.5L549.4 540.5L547.9 543.5L545.5 546.4L542.5 548.5L539.5 549.7ZM520.5 478.6L520.5 477.5L521.5 476.1L522.5 475.2L523.5 475.4L522.2 477.5L520.5 478.6ZM508.5 531.8L507.5 531.6L508.0 530.5L510.5 528.4L510.5 529.5L508.5 531.8Z"/>
<path fill="#ff1300" fill-rule="evenodd" d="M536.5 549.6L531.5 549.4L527.5 548.0L523.5 545.5L519.5 541.4L516.5 536.4L513.3 528.5L512.0 527.5L512.3 525.5L509.2 523.5L501.3 512.5L494.5 495.3L486.8 486.5L484.0 482.5L481.9 476.5L481.7 473.5L482.3 469.5L483.2 466.5L484.9 463.5L489.5 459.4L494.5 457.8L500.5 458.1L505.5 460.2L510.5 464.4L513.5 468.7L517.7 478.5L519.0 479.5L518.7 481.5L521.8 483.5L529.7 494.5L536.5 511.7L544.3 520.5L547.7 525.5L549.2 529.5L549.8 533.5L549.1 538.5L548.0 541.5L546.1 544.5L543.5 546.9L540.5 548.6L536.5 549.6ZM520.5 478.6L520.5 477.5L521.5 476.1L522.5 475.2L523.4 475.5L522.1 477.5L520.5 478.6ZM508.5 531.8L507.6 531.5L508.0 530.5L510.5 528.4L510.5 529.5L508.5 531.8Z"/>
<path fill="#ff0600" fill-rule="evenodd" d="M538.5 548.5L533.5 549.1L528.5 548.1L523.5 545.3L519.5 541.2L516.5 536.3L513.3 528.5L512.0 527.5L512.3 525.5L510.2 524.5L508.4 522.5L503.8 516.5L500.9 511.5L495.1 495.5L487.4 486.5L484.7 482.5L482.6 476.5L482.5 473.5L483.0 469.5L484.1 466.5L485.9 463.5L490.5 459.7L495.5 458.2L500.5 458.5L506.5 461.1L510.5 464.6L514.5 470.7L517.7 478.5L519.0 479.5L518.7 481.5L521.8 483.5L529.0 493.5L531.8 499.5L534.5 508.2L536.5 512.5L543.6 520.5L547.0 525.5L548.2 528.5L549.0 532.5L547.9 539.5L546.5 542.5L544.5 545.0L541.5 547.3L538.5 548.5ZM520.5 478.6L520.5 477.5L521.5 476.1L522.5 475.3L523.1 475.5L522.1 477.5L520.5 478.6ZM508.5 531.7L507.9 531.5L508.1 530.5L510.5 528.4L510.5 529.5L508.5 531.7Z"/>
<path fill="#ff0000" fill-rule="evenodd" d="M535.5 548.5L530.5 548.2L526.5 546.8L522.5 544.2L519.5 541.1L516.5 536.2L513.3 528.5L512.0 527.5L512.3 525.5L509.2 523.5L502.1 513.5L499.3 507.5L495.5 495.4L488.0 486.5L484.9 481.5L483.2 475.5L484.1 468.5L486.9 463.5L491.5 460.0L496.5 458.7L501.5 459.2L507.5 462.1L511.5 466.0L514.5 470.8L517.7 478.5L519.0 479.5L518.7 481.5L521.8 483.5L528.9 493.5L531.7 499.5L535.5 511.6L543.8 521.5L546.3 525.5L547.8 529.5L548.2 532.5L547.9 536.5L546.7 540.5L544.8 543.5L542.5 545.8L539.5 547.5L535.5 548.5ZM521.5 477.8L520.5 477.5L521.5 476.2L522.9 475.5L522.9 476.5L521.5 477.8ZM508.5 531.6L508.1 531.5L508.1 530.5L508.9 529.5L510.5 529.5L508.5 531.6Z"/></g>
<line x1="67" y1="0" x2="67" y2="8" stroke="#8c8c8c" stroke-width="1.3"/>
<text transform="translate(52.40 24.10)" font-size="12.3" fill="#1c1c1c">92</text>
<text transform="translate(65.30 18.90)" font-size="11.5" fill="#1c1c1c">o</text>
<text transform="translate(72.70 24.10)" font-size="12.3" fill="#1c1c1c">E</text>
<line x1="150" y1="0" x2="150" y2="8" stroke="#8c8c8c" stroke-width="1.3"/>
<text transform="translate(135.40 24.10)" font-size="12.3" fill="#1c1c1c">93</text>
<text transform="translate(148.30 18.90)" font-size="11.5" fill="#1c1c1c">o</text>
<text transform="translate(155.70 24.10)" font-size="12.3" fill="#1c1c1c">E</text>
<line x1="233.3" y1="0" x2="233.3" y2="8" stroke="#8c8c8c" stroke-width="1.3"/>
<text transform="translate(218.70 24.10)" font-size="12.3" fill="#1c1c1c">94</text>
<text transform="translate(231.60 18.90)" font-size="11.5" fill="#1c1c1c">o</text>
<text transform="translate(239.00 24.10)" font-size="12.3" fill="#1c1c1c">E</text>
<line x1="329" y1="36.8" x2="336" y2="36.8" stroke="#8c8c8c" stroke-width="1.3"/>
<text transform="translate(306.40 42.90)" font-size="12.3" fill="#1c1c1c">4</text>
<text transform="translate(313.90 37.70)" font-size="11.5" fill="#1c1c1c">o</text>
<text transform="translate(319.90 42.90)" font-size="12.3" fill="#1c1c1c">N</text>
<line x1="329" y1="120.5" x2="336" y2="120.5" stroke="#8c8c8c" stroke-width="1.3"/>
<text transform="translate(306.40 126.60)" font-size="12.3" fill="#1c1c1c">3</text>
<text transform="translate(313.90 121.40)" font-size="11.5" fill="#1c1c1c">o</text>
<text transform="translate(319.90 126.60)" font-size="12.3" fill="#1c1c1c">N</text>
<line x1="329" y1="204.4" x2="336" y2="204.4" stroke="#8c8c8c" stroke-width="1.3"/>
<text transform="translate(306.40 210.50)" font-size="12.3" fill="#1c1c1c">2</text>
<text transform="translate(313.90 205.30)" font-size="11.5" fill="#1c1c1c">o</text>
<text transform="translate(319.90 210.50)" font-size="12.3" fill="#1c1c1c">N</text>
<circle cx="26.8" cy="34.8" r="13" fill="#000"/>
<text transform="translate(27.00 41.00)" font-size="17.5" font-weight="bold" text-anchor="middle" fill="#fff">a</text>
<text transform="translate(14.16 261.00) scale(1.100 1)" font-size="14.5" font-style="italic" fill="#1c1c1c">Indian Ocean</text>
<text transform="translate(14.39 301.60) scale(1.055 1)" font-size="13.5" fill="#1c1c1c">Coulomb stress change (bar)</text>
<rect x="16" y="308" width="80.5" height="11" fill="url(#gb)"/>
<rect x="96.5" y="308" width="4" height="11" fill="url(#gw1)"/>
<rect x="105.5" y="308" width="4.5" height="11" fill="url(#gw2)"/>
<rect x="110" y="308" width="80" height="11" fill="url(#gr)"/>
<text transform="translate(11.60 329.40) scale(1.100 1)" font-size="9.0" font-weight="bold" fill="#1c1c1c">-1</text>
<text transform="translate(50.80 329.40) scale(1.100 1)" font-size="9.0" font-weight="bold" fill="#1c1c1c">-0.5</text>
<text transform="translate(99.40 329.40) scale(1.100 1)" font-size="9.0" font-weight="bold" fill="#1c1c1c">0</text>
<text transform="translate(138.30 329.40) scale(1.100 1)" font-size="9.0" font-weight="bold" fill="#1c1c1c">0.5</text>
<text transform="translate(186.10 329.40) scale(1.100 1)" font-size="9.0" font-weight="bold" fill="#1c1c1c">1</text>
<text transform="translate(292.96 284.20) scale(0.920 1)" font-size="8.5" font-weight="bold" fill="#1c1c1c">N</text>
<path d="M295.7 286.3L290.1 304.7L295.7 298.5Z" fill="#111"/>
<path d="M295.7 286.3L301.6 304.7L295.7 298.5Z" fill="#fff" stroke="#111" stroke-width="0.8"/>
<path d="M266.6 315.4V324.8H326.6V315.4" fill="none" stroke="#333" stroke-width="1.5"/>
<text transform="translate(276.80 320.50) scale(1.155 1)" font-size="9.9" font-weight="bold" fill="#1c1c1c">100 km</text>
<circle class="dt" cx="162.3" cy="114.3" r="3.1"/>
<circle class="dt" cx="138.3" cy="120.4" r="3.1"/>
<circle class="dt" cx="137.5" cy="124.1" r="3.1"/>
<circle class="dt" cx="164.3" cy="128.9" r="3.1"/>
<circle class="dt" cx="176.2" cy="131.5" r="3.1"/>
<circle class="dt" cx="178.8" cy="137.1" r="3.1"/>
<circle class="dt" cx="208.4" cy="130.2" r="3.1"/>
<circle class="dt" cx="214.0" cy="141.6" r="3.1"/>
<circle class="dt" cx="186.3" cy="143.8" r="3.1"/>
<circle class="dt" cx="123.6" cy="142.4" r="3.1"/>
<circle class="dt" cx="160.2" cy="138.6" r="3.1"/>
<circle class="dt" cx="156.3" cy="140.7" r="3.1"/>
<circle class="dt" cx="152.8" cy="143.6" r="3.1"/>
<circle class="dt" cx="145.6" cy="146.2" r="3.1"/>
<circle class="dt" cx="128.0" cy="148.3" r="3.1"/>
<circle class="dt" cx="125.8" cy="150.9" r="3.1"/>
<circle class="dt" cx="133.6" cy="154.4" r="3.1"/>
<circle class="dt" cx="119.2" cy="155.5" r="3.1"/>
<circle class="dt" cx="115.6" cy="160.4" r="3.1"/>
<circle class="dt" cx="146.9" cy="158.7" r="3.1"/>
<circle class="dt" cx="151.7" cy="158.2" r="3.1"/>
<circle class="dt" cx="150.2" cy="152.2" r="3.1"/>
<circle class="dt" cx="156.9" cy="153.1" r="3.1"/>
<circle class="dt" cx="125.8" cy="164.3" r="3.1"/>
<circle class="dt" cx="116.1" cy="166.3" r="3.1"/>
<circle class="dt" cx="115.2" cy="169.5" r="3.1"/>
<circle class="dt" cx="139.9" cy="166.5" r="3.1"/>
<circle class="dt" cx="142.9" cy="164.7" r="3.1"/>
<circle class="dt" cx="151.6" cy="166.3" r="3.1"/>
<circle class="dt" cx="157.8" cy="162.9" r="3.1"/>
<circle class="dt" cx="121.0" cy="174.3" r="3.1"/>
<circle class="dt" cx="116.9" cy="177.7" r="3.1"/>
<circle class="dt" cx="144.1" cy="172.8" r="3.1"/>
<circle class="dt" cx="149.5" cy="173.3" r="3.1"/>
<circle class="dt" cx="157.5" cy="174.0" r="3.1"/>
<circle class="dt" cx="148.9" cy="178.9" r="3.1"/>
<circle class="dt" cx="152.8" cy="179.8" r="3.1"/>
<circle class="dt" cx="164.9" cy="176.0" r="3.1"/>
<circle class="dt" cx="118.2" cy="187.7" r="3.1"/>
<circle class="dt" cx="176.8" cy="172.1" r="3.1"/>
<circle class="dt" cx="184.7" cy="170.3" r="3.1"/>
<circle class="dt" cx="192.3" cy="162.4" r="3.1"/>
<circle class="dt" cx="169.0" cy="183.0" r="3.1"/>
<circle class="dt" cx="172.3" cy="190.0" r="3.1"/>
<circle class="dt" cx="170.9" cy="195.9" r="3.1"/>
<circle class="dt" cx="180.8" cy="191.1" r="3.1"/>
<circle class="dt" cx="184.7" cy="192.0" r="3.1"/>
<circle class="dt" cx="165.7" cy="202.0" r="3.1"/>
<circle class="dt" cx="140.2" cy="196.3" r="3.1"/>
<circle class="dt" cx="158.3" cy="198.4" r="3.1"/>
<circle class="dt" cx="150.1" cy="208.7" r="3.1"/>
<circle class="dt" cx="150.8" cy="220.4" r="3.1"/>
<circle class="dt" cx="179.1" cy="206.4" r="3.1"/>
<circle class="dt" cx="204.5" cy="182.4" r="3.1"/>
<circle class="dt" cx="200.4" cy="190.6" r="3.1"/>
<circle class="dt" cx="209.0" cy="191.9" r="3.1"/>
<circle class="dt" cx="195.5" cy="197.6" r="3.1"/>
<circle class="dt" cx="199.9" cy="196.0" r="3.1"/>
<circle class="dt" cx="191.4" cy="203.6" r="3.1"/>
<circle class="dt" cx="196.4" cy="203.4" r="3.1"/>
<circle class="dt" cx="199.2" cy="207.3" r="3.1"/>
<circle class="dt" cx="205.2" cy="203.2" r="3.1"/>
<circle class="dt" cx="197.6" cy="215.6" r="3.1"/>
<circle class="dt" cx="154.9" cy="177.3" r="3.1"/>
<polygon points="168.20,156.00 170.85,163.56 178.85,163.74 172.48,168.59 174.78,176.26 168.20,171.70 161.62,176.26 163.92,168.59 157.55,163.74 165.55,163.56" fill="#000"/>
<text transform="translate(172.77 159.00) scale(1.150 1)" font-size="14.0" font-weight="bold" fill="#0d0d0d">M7.2 (2012)</text>
<line x1="415" y1="0" x2="415" y2="8" stroke="#8c8c8c" stroke-width="1.3"/>
<text transform="translate(400.40 24.10)" font-size="12.3" fill="#1c1c1c">92</text>
<text transform="translate(413.30 18.90)" font-size="11.5" fill="#1c1c1c">o</text>
<text transform="translate(420.70 24.10)" font-size="12.3" fill="#1c1c1c">E</text>
<line x1="498" y1="0" x2="498" y2="8" stroke="#8c8c8c" stroke-width="1.3"/>
<text transform="translate(483.40 24.10)" font-size="12.3" fill="#1c1c1c">93</text>
<text transform="translate(496.30 18.90)" font-size="11.5" fill="#1c1c1c">o</text>
<text transform="translate(503.70 24.10)" font-size="12.3" fill="#1c1c1c">E</text>
<line x1="581.3" y1="0" x2="581.3" y2="8" stroke="#8c8c8c" stroke-width="1.3"/>
<text transform="translate(566.70 24.10)" font-size="12.3" fill="#1c1c1c">94</text>
<text transform="translate(579.60 18.90)" font-size="11.5" fill="#1c1c1c">o</text>
<text transform="translate(587.00 24.10)" font-size="12.3" fill="#1c1c1c">E</text>
<line x1="677" y1="36.8" x2="684" y2="36.8" stroke="#8c8c8c" stroke-width="1.3"/>
<text transform="translate(654.40 42.90)" font-size="12.3" fill="#1c1c1c">4</text>
<text transform="translate(661.90 37.70)" font-size="11.5" fill="#1c1c1c">o</text>
<text transform="translate(667.90 42.90)" font-size="12.3" fill="#1c1c1c">N</text>
<line x1="677" y1="120.5" x2="684" y2="120.5" stroke="#8c8c8c" stroke-width="1.3"/>
<text transform="translate(654.40 126.60)" font-size="12.3" fill="#1c1c1c">3</text>
<text transform="translate(661.90 121.40)" font-size="11.5" fill="#1c1c1c">o</text>
<text transform="translate(667.90 126.60)" font-size="12.3" fill="#1c1c1c">N</text>
<line x1="677" y1="204.4" x2="684" y2="204.4" stroke="#8c8c8c" stroke-width="1.3"/>
<text transform="translate(654.40 210.50)" font-size="12.3" fill="#1c1c1c">2</text>
<text transform="translate(661.90 205.30)" font-size="11.5" fill="#1c1c1c">o</text>
<text transform="translate(667.90 210.50)" font-size="12.3" fill="#1c1c1c">N</text>
<circle cx="374.8" cy="34.8" r="13" fill="#000"/>
<text transform="translate(375.00 41.00)" font-size="17.5" font-weight="bold" text-anchor="middle" fill="#fff">b</text>
<text transform="translate(362.16 261.00) scale(1.100 1)" font-size="14.5" font-style="italic" fill="#1c1c1c">Indian Ocean</text>
<text transform="translate(362.39 301.60) scale(1.055 1)" font-size="13.5" fill="#1c1c1c">Coulomb stress change (bar)</text>
<rect x="364" y="308" width="80.5" height="11" fill="url(#gb)"/>
<rect x="444.5" y="308" width="4" height="11" fill="url(#gw1)"/>
<rect x="453.5" y="308" width="4.5" height="11" fill="url(#gw2)"/>
<rect x="458" y="308" width="80" height="11" fill="url(#gr)"/>
<text transform="translate(359.60 329.40) scale(1.100 1)" font-size="9.0" font-weight="bold" fill="#1c1c1c">-1</text>
<text transform="translate(398.80 329.40) scale(1.100 1)" font-size="9.0" font-weight="bold" fill="#1c1c1c">-0.5</text>
<text transform="translate(447.40 329.40) scale(1.100 1)" font-size="9.0" font-weight="bold" fill="#1c1c1c">0</text>
<text transform="translate(486.30 329.40) scale(1.100 1)" font-size="9.0" font-weight="bold" fill="#1c1c1c">0.5</text>
<text transform="translate(534.10 329.40) scale(1.100 1)" font-size="9.0" font-weight="bold" fill="#1c1c1c">1</text>
<text transform="translate(640.96 284.20) scale(0.920 1)" font-size="8.5" font-weight="bold" fill="#1c1c1c">N</text>
<path d="M643.7 286.3L638.1 304.7L643.7 298.5Z" fill="#111"/>
<path d="M643.7 286.3L649.6 304.7L643.7 298.5Z" fill="#fff" stroke="#111" stroke-width="0.8"/>
<path d="M614.6 315.4V324.8H674.6V315.4" fill="none" stroke="#333" stroke-width="1.5"/>
<text transform="translate(624.80 320.50) scale(1.155 1)" font-size="9.9" font-weight="bold" fill="#1c1c1c">100 km</text>
<circle class="dt" cx="510.3" cy="114.3" r="3.1"/>
<circle class="dt" cx="486.3" cy="120.4" r="3.1"/>
<circle class="dt" cx="485.5" cy="124.1" r="3.1"/>
<circle class="dt" cx="512.3" cy="128.9" r="3.1"/>
<circle class="dt" cx="524.2" cy="131.5" r="3.1"/>
<circle class="dt" cx="526.8" cy="137.1" r="3.1"/>
<circle class="dt" cx="556.4" cy="130.2" r="3.1"/>
<circle class="dt" cx="562.0" cy="141.6" r="3.1"/>
<circle class="dt" cx="534.3" cy="143.8" r="3.1"/>
<circle class="dt" cx="471.6" cy="142.4" r="3.1"/>
<circle class="dt" cx="508.2" cy="138.6" r="3.1"/>
<circle class="dt" cx="504.3" cy="140.7" r="3.1"/>
<circle class="dt" cx="500.8" cy="143.6" r="3.1"/>
<circle class="dt" cx="493.6" cy="146.2" r="3.1"/>
<circle class="dt" cx="476.0" cy="148.3" r="3.1"/>
<circle class="dt" cx="473.8" cy="150.9" r="3.1"/>
<circle class="dt" cx="481.6" cy="154.4" r="3.1"/>
<circle class="dt" cx="467.2" cy="155.5" r="3.1"/>
<circle class="dt" cx="463.6" cy="160.4" r="3.1"/>
<circle class="dt" cx="494.9" cy="158.7" r="3.1"/>
<circle class="dt" cx="499.7" cy="158.2" r="3.1"/>
<circle class="dt" cx="498.2" cy="152.2" r="3.1"/>
<circle class="dt" cx="504.9" cy="153.1" r="3.1"/>
<circle class="dt" cx="473.8" cy="164.3" r="3.1"/>
<circle class="dt" cx="464.1" cy="166.3" r="3.1"/>
<circle class="dt" cx="463.2" cy="169.5" r="3.1"/>
<circle class="dt" cx="487.9" cy="166.5" r="3.1"/>
<circle class="dt" cx="490.9" cy="164.7" r="3.1"/>
<circle class="dt" cx="499.6" cy="166.3" r="3.1"/>
<circle class="dt" cx="505.8" cy="162.9" r="3.1"/>
<circle class="dt" cx="469.0" cy="174.3" r="3.1"/>
<circle class="dt" cx="464.9" cy="177.7" r="3.1"/>
<circle class="dt" cx="492.1" cy="172.8" r="3.1"/>
<circle class="dt" cx="497.5" cy="173.3" r="3.1"/>
<circle class="dt" cx="505.5" cy="174.0" r="3.1"/>
<circle class="dt" cx="496.9" cy="178.9" r="3.1"/>
<circle class="dt" cx="500.8" cy="179.8" r="3.1"/>
<circle class="dt" cx="512.9" cy="176.0" r="3.1"/>
<circle class="dt" cx="466.2" cy="187.7" r="3.1"/>
<circle class="dt" cx="524.8" cy="172.1" r="3.1"/>
<circle class="dt" cx="532.7" cy="170.3" r="3.1"/>
<circle class="dt" cx="540.3" cy="162.4" r="3.1"/>
<circle class="dt" cx="517.0" cy="183.0" r="3.1"/>
<circle class="dt" cx="520.3" cy="190.0" r="3.1"/>
<circle class="dt" cx="518.9" cy="195.9" r="3.1"/>
<circle class="dt" cx="528.8" cy="191.1" r="3.1"/>
<circle class="dt" cx="532.7" cy="192.0" r="3.1"/>
<circle class="dt" cx="513.7" cy="202.0" r="3.1"/>
<circle class="dt" cx="488.2" cy="196.3" r="3.1"/>
<circle class="dt" cx="506.3" cy="198.4" r="3.1"/>
<circle class="dt" cx="498.1" cy="208.7" r="3.1"/>
<circle class="dt" cx="498.8" cy="220.4" r="3.1"/>
<circle class="dt" cx="527.1" cy="206.4" r="3.1"/>
<circle class="dt" cx="552.5" cy="182.4" r="3.1"/>
<circle class="dt" cx="548.4" cy="190.6" r="3.1"/>
<circle class="dt" cx="557.0" cy="191.9" r="3.1"/>
<circle class="dt" cx="543.5" cy="197.6" r="3.1"/>
<circle class="dt" cx="547.9" cy="196.0" r="3.1"/>
<circle class="dt" cx="539.4" cy="203.6" r="3.1"/>
<circle class="dt" cx="544.4" cy="203.4" r="3.1"/>
<circle class="dt" cx="547.2" cy="207.3" r="3.1"/>
<circle class="dt" cx="553.2" cy="203.2" r="3.1"/>
<circle class="dt" cx="545.6" cy="215.6" r="3.1"/>
<circle class="dt" cx="502.9" cy="177.3" r="3.1"/>
<polygon points="516.20,156.00 518.85,163.56 526.85,163.74 520.48,168.59 522.78,176.26 516.20,171.70 509.62,176.26 511.92,168.59 505.55,163.74 513.55,163.56" fill="#000"/>
<text transform="translate(520.77 159.00) scale(1.150 1)" font-size="14.0" font-weight="bold" fill="#0d0d0d">M7.2 (2012)</text>
<line x1="67" y1="336" x2="67" y2="344" stroke="#8c8c8c" stroke-width="1.3"/>
<text transform="translate(52.40 360.10)" font-size="12.3" fill="#1c1c1c">92</text>
<text transform="translate(65.30 354.90)" font-size="11.5" fill="#1c1c1c">o</text>
<text transform="translate(72.70 360.10)" font-size="12.3" fill="#1c1c1c">E</text>
<line x1="150" y1="336" x2="150" y2="344" stroke="#8c8c8c" stroke-width="1.3"/>
<text transform="translate(135.40 360.10)" font-size="12.3" fill="#1c1c1c">93</text>
<text transform="translate(148.30 354.90)" font-size="11.5" fill="#1c1c1c">o</text>
<text transform="translate(155.70 360.10)" font-size="12.3" fill="#1c1c1c">E</text>
<line x1="233.3" y1="336" x2="233.3" y2="344" stroke="#8c8c8c" stroke-width="1.3"/>
<text transform="translate(218.70 360.10)" font-size="12.3" fill="#1c1c1c">94</text>
<text transform="translate(231.60 354.90)" font-size="11.5" fill="#1c1c1c">o</text>
<text transform="translate(239.00 360.10)" font-size="12.3" fill="#1c1c1c">E</text>
<line x1="329" y1="372.8" x2="336" y2="372.8" stroke="#8c8c8c" stroke-width="1.3"/>
<text transform="translate(306.40 378.90)" font-size="12.3" fill="#1c1c1c">4</text>
<text transform="translate(313.90 373.70)" font-size="11.5" fill="#1c1c1c">o</text>
<text transform="translate(319.90 378.90)" font-size="12.3" fill="#1c1c1c">N</text>
<line x1="329" y1="456.5" x2="336" y2="456.5" stroke="#8c8c8c" stroke-width="1.3"/>
<text transform="translate(306.40 462.60)" font-size="12.3" fill="#1c1c1c">3</text>
<text transform="translate(313.90 457.40)" font-size="11.5" fill="#1c1c1c">o</text>
<text transform="translate(319.90 462.60)" font-size="12.3" fill="#1c1c1c">N</text>
<line x1="329" y1="540.4" x2="336" y2="540.4" stroke="#8c8c8c" stroke-width="1.3"/>
<text transform="translate(306.40 546.50)" font-size="12.3" fill="#1c1c1c">2</text>
<text transform="translate(313.90 541.30)" font-size="11.5" fill="#1c1c1c">o</text>
<text transform="translate(319.90 546.50)" font-size="12.3" fill="#1c1c1c">N</text>
<circle cx="26.8" cy="370.8" r="13" fill="#000"/>
<text transform="translate(27.00 377.00)" font-size="17.5" font-weight="bold" text-anchor="middle" fill="#fff">c</text>
<text transform="translate(14.16 597.00) scale(1.100 1)" font-size="14.5" font-style="italic" fill="#1c1c1c">Indian Ocean</text>
<text transform="translate(14.39 637.60) scale(1.055 1)" font-size="13.5" fill="#1c1c1c">Coulomb stress change (bar)</text>
<rect x="16" y="644" width="80.5" height="11" fill="url(#gb)"/>
<rect x="96.5" y="644" width="4" height="11" fill="url(#gw1)"/>
<rect x="105.5" y="644" width="4.5" height="11" fill="url(#gw2)"/>
<rect x="110" y="644" width="80" height="11" fill="url(#gr)"/>
<text transform="translate(11.60 665.40) scale(1.100 1)" font-size="9.0" font-weight="bold" fill="#1c1c1c">-1</text>
<text transform="translate(50.80 665.40) scale(1.100 1)" font-size="9.0" font-weight="bold" fill="#1c1c1c">-0.5</text>
<text transform="translate(99.40 665.40) scale(1.100 1)" font-size="9.0" font-weight="bold" fill="#1c1c1c">0</text>
<text transform="translate(138.30 665.40) scale(1.100 1)" font-size="9.0" font-weight="bold" fill="#1c1c1c">0.5</text>
<text transform="translate(186.10 665.40) scale(1.100 1)" font-size="9.0" font-weight="bold" fill="#1c1c1c">1</text>
<text transform="translate(292.96 620.20) scale(0.920 1)" font-size="8.5" font-weight="bold" fill="#1c1c1c">N</text>
<path d="M295.7 622.3L290.1 640.7L295.7 634.5Z" fill="#111"/>
<path d="M295.7 622.3L301.6 640.7L295.7 634.5Z" fill="#fff" stroke="#111" stroke-width="0.8"/>
<path d="M266.6 651.4V660.8H326.6V651.4" fill="none" stroke="#333" stroke-width="1.5"/>
<text transform="translate(276.80 656.50) scale(1.155 1)" font-size="9.9" font-weight="bold" fill="#1c1c1c">100 km</text>
<circle class="dt" cx="162.3" cy="450.3" r="3.1"/>
<circle class="dt" cx="138.3" cy="456.4" r="3.1"/>
<circle class="dt" cx="137.5" cy="460.1" r="3.1"/>
<circle class="dt" cx="164.3" cy="464.9" r="3.1"/>
<circle class="dt" cx="176.2" cy="467.5" r="3.1"/>
<circle class="dt" cx="178.8" cy="473.1" r="3.1"/>
<circle class="dt" cx="208.4" cy="466.2" r="3.1"/>
<circle class="dt" cx="214.0" cy="477.6" r="3.1"/>
<circle class="dt" cx="186.3" cy="479.8" r="3.1"/>
<circle class="dt" cx="123.6" cy="478.4" r="3.1"/>
<circle class="dt" cx="160.2" cy="474.6" r="3.1"/>
<circle class="dt" cx="156.3" cy="476.7" r="3.1"/>
<circle class="dt" cx="152.8" cy="479.6" r="3.1"/>
<circle class="dt" cx="145.6" cy="482.2" r="3.1"/>
<circle class="dt" cx="128.0" cy="484.3" r="3.1"/>
<circle class="dt" cx="125.8" cy="486.9" r="3.1"/>
<circle class="dt" cx="133.6" cy="490.4" r="3.1"/>
<circle class="dt" cx="119.2" cy="491.5" r="3.1"/>
<circle class="dt" cx="115.6" cy="496.4" r="3.1"/>
<circle class="dt" cx="146.9" cy="494.7" r="3.1"/>
<circle class="dt" cx="151.7" cy="494.2" r="3.1"/>
<circle class="dt" cx="150.2" cy="488.2" r="3.1"/>
<circle class="dt" cx="156.9" cy="489.1" r="3.1"/>
<circle class="dt" cx="125.8" cy="500.3" r="3.1"/>
<circle class="dt" cx="116.1" cy="502.3" r="3.1"/>
<circle class="dt" cx="115.2" cy="505.5" r="3.1"/>
<circle class="dt" cx="139.9" cy="502.5" r="3.1"/>
<circle class="dt" cx="142.9" cy="500.7" r="3.1"/>
<circle class="dt" cx="151.6" cy="502.3" r="3.1"/>
<circle class="dt" cx="157.8" cy="498.9" r="3.1"/>
<circle class="dt" cx="121.0" cy="510.3" r="3.1"/>
<circle class="dt" cx="116.9" cy="513.7" r="3.1"/>
<circle class="dt" cx="144.1" cy="508.8" r="3.1"/>
<circle class="dt" cx="149.5" cy="509.3" r="3.1"/>
<circle class="dt" cx="157.5" cy="510.0" r="3.1"/>
<circle class="dt" cx="148.9" cy="514.9" r="3.1"/>
<circle class="dt" cx="152.8" cy="515.8" r="3.1"/>
<circle class="dt" cx="164.9" cy="512.0" r="3.1"/>
<circle class="dt" cx="118.2" cy="523.7" r="3.1"/>
<circle class="dt" cx="176.8" cy="508.1" r="3.1"/>
<circle class="dt" cx="184.7" cy="506.3" r="3.1"/>
<circle class="dt" cx="192.3" cy="498.4" r="3.1"/>
<circle class="dt" cx="169.0" cy="519.0" r="3.1"/>
<circle class="dt" cx="172.3" cy="526.0" r="3.1"/>
<circle class="dt" cx="170.9" cy="531.9" r="3.1"/>
<circle class="dt" cx="180.8" cy="527.1" r="3.1"/>
<circle class="dt" cx="184.7" cy="528.0" r="3.1"/>
<circle class="dt" cx="165.7" cy="538.0" r="3.1"/>
<circle class="dt" cx="140.2" cy="532.3" r="3.1"/>
<circle class="dt" cx="158.3" cy="534.4" r="3.1"/>
<circle class="dt" cx="150.1" cy="544.7" r="3.1"/>
<circle class="dt" cx="150.8" cy="556.4" r="3.1"/>
<circle class="dt" cx="179.1" cy="542.4" r="3.1"/>
<circle class="dt" cx="204.5" cy="518.4" r="3.1"/>
<circle class="dt" cx="200.4" cy="526.6" r="3.1"/>
<circle class="dt" cx="209.0" cy="527.9" r="3.1"/>
<circle class="dt" cx="195.5" cy="533.6" r="3.1"/>
<circle class="dt" cx="199.9" cy="532.0" r="3.1"/>
<circle class="dt" cx="191.4" cy="539.6" r="3.1"/>
<circle class="dt" cx="196.4" cy="539.4" r="3.1"/>
<circle class="dt" cx="199.2" cy="543.3" r="3.1"/>
<circle class="dt" cx="205.2" cy="539.2" r="3.1"/>
<circle class="dt" cx="197.6" cy="551.6" r="3.1"/>
<circle class="dt" cx="154.9" cy="513.3" r="3.1"/>
<polygon points="168.20,492.00 170.85,499.56 178.85,499.74 172.48,504.59 174.78,512.26 168.20,507.70 161.62,512.26 163.92,504.59 157.55,499.74 165.55,499.56" fill="#000"/>
<text transform="translate(172.77 495.00) scale(1.150 1)" font-size="14.0" font-weight="bold" fill="#0d0d0d">M7.2 (2012)</text>
<line x1="415" y1="336" x2="415" y2="344" stroke="#8c8c8c" stroke-width="1.3"/>
<text transform="translate(400.40 360.10)" font-size="12.3" fill="#1c1c1c">92</text>
<text transform="translate(413.30 354.90)" font-size="11.5" fill="#1c1c1c">o</text>
<text transform="translate(420.70 360.10)" font-size="12.3" fill="#1c1c1c">E</text>
<line x1="498" y1="336" x2="498" y2="344" stroke="#8c8c8c" stroke-width="1.3"/>
<text transform="translate(483.40 360.10)" font-size="12.3" fill="#1c1c1c">93</text>
<text transform="translate(496.30 354.90)" font-size="11.5" fill="#1c1c1c">o</text>
<text transform="translate(503.70 360.10)" font-size="12.3" fill="#1c1c1c">E</text>
<line x1="581.3" y1="336" x2="581.3" y2="344" stroke="#8c8c8c" stroke-width="1.3"/>
<text transform="translate(566.70 360.10)" font-size="12.3" fill="#1c1c1c">94</text>
<text transform="translate(579.60 354.90)" font-size="11.5" fill="#1c1c1c">o</text>
<text transform="translate(587.00 360.10)" font-size="12.3" fill="#1c1c1c">E</text>
<line x1="677" y1="372.8" x2="684" y2="372.8" stroke="#8c8c8c" stroke-width="1.3"/>
<text transform="translate(654.40 378.90)" font-size="12.3" fill="#1c1c1c">4</text>
<text transform="translate(661.90 373.70)" font-size="11.5" fill="#1c1c1c">o</text>
<text transform="translate(667.90 378.90)" font-size="12.3" fill="#1c1c1c">N</text>
<line x1="677" y1="456.5" x2="684" y2="456.5" stroke="#8c8c8c" stroke-width="1.3"/>
<text transform="translate(654.40 462.60)" font-size="12.3" fill="#1c1c1c">3</text>
<text transform="translate(661.90 457.40)" font-size="11.5" fill="#1c1c1c">o</text>
<text transform="translate(667.90 462.60)" font-size="12.3" fill="#1c1c1c">N</text>
<line x1="677" y1="540.4" x2="684" y2="540.4" stroke="#8c8c8c" stroke-width="1.3"/>
<text transform="translate(654.40 546.50)" font-size="12.3" fill="#1c1c1c">2</text>
<text transform="translate(661.90 541.30)" font-size="11.5" fill="#1c1c1c">o</text>
<text transform="translate(667.90 546.50)" font-size="12.3" fill="#1c1c1c">N</text>
<circle cx="374.8" cy="370.8" r="13" fill="#000"/>
<text transform="translate(375.00 377.00)" font-size="17.5" font-weight="bold" text-anchor="middle" fill="#fff">d</text>
<text transform="translate(362.16 597.00) scale(1.100 1)" font-size="14.5" font-style="italic" fill="#1c1c1c">Indian Ocean</text>
<text transform="translate(362.39 637.60) scale(1.055 1)" font-size="13.5" fill="#1c1c1c">Coulomb stress change (bar)</text>
<rect x="364" y="644" width="80.5" height="11" fill="url(#gb)"/>
<rect x="444.5" y="644" width="4" height="11" fill="url(#gw1)"/>
<rect x="453.5" y="644" width="4.5" height="11" fill="url(#gw2)"/>
<rect x="458" y="644" width="80" height="11" fill="url(#gr)"/>
<text transform="translate(359.60 665.40) scale(1.100 1)" font-size="9.0" font-weight="bold" fill="#1c1c1c">-1</text>
<text transform="translate(398.80 665.40) scale(1.100 1)" font-size="9.0" font-weight="bold" fill="#1c1c1c">-0.5</text>
<text transform="translate(447.40 665.40) scale(1.100 1)" font-size="9.0" font-weight="bold" fill="#1c1c1c">0</text>
<text transform="translate(486.30 665.40) scale(1.100 1)" font-size="9.0" font-weight="bold" fill="#1c1c1c">0.5</text>
<text transform="translate(534.10 665.40) scale(1.100 1)" font-size="9.0" font-weight="bold" fill="#1c1c1c">1</text>
<text transform="translate(640.96 620.20) scale(0.920 1)" font-size="8.5" font-weight="bold" fill="#1c1c1c">N</text>
<path d="M643.7 622.3L638.1 640.7L643.7 634.5Z" fill="#111"/>
<path d="M643.7 622.3L649.6 640.7L643.7 634.5Z" fill="#fff" stroke="#111" stroke-width="0.8"/>
<path d="M614.6 651.4V660.8H674.6V651.4" fill="none" stroke="#333" stroke-width="1.5"/>
<text transform="translate(624.80 656.50) scale(1.155 1)" font-size="9.9" font-weight="bold" fill="#1c1c1c">100 km</text>
<circle class="dt" cx="510.3" cy="450.3" r="3.1"/>
<circle class="dt" cx="486.3" cy="456.4" r="3.1"/>
<circle class="dt" cx="485.5" cy="460.1" r="3.1"/>
<circle class="dt" cx="512.3" cy="464.9" r="3.1"/>
<circle class="dt" cx="524.2" cy="467.5" r="3.1"/>
<circle class="dt" cx="526.8" cy="473.1" r="3.1"/>
<circle class="dt" cx="556.4" cy="466.2" r="3.1"/>
<circle class="dt" cx="562.0" cy="477.6" r="3.1"/>
<circle class="dt" cx="534.3" cy="479.8" r="3.1"/>
<circle class="dt" cx="471.6" cy="478.4" r="3.1"/>
<circle class="dt" cx="508.2" cy="474.6" r="3.1"/>
<circle class="dt" cx="504.3" cy="476.7" r="3.1"/>
<circle class="dt" cx="500.8" cy="479.6" r="3.1"/>
<circle class="dt" cx="493.6" cy="482.2" r="3.1"/>
<circle class="dt" cx="476.0" cy="484.3" r="3.1"/>
<circle class="dt" cx="473.8" cy="486.9" r="3.1"/>
<circle class="dt" cx="481.6" cy="490.4" r="3.1"/>
<circle class="dt" cx="467.2" cy="491.5" r="3.1"/>
<circle class="dt" cx="463.6" cy="496.4" r="3.1"/>
<circle class="dt" cx="494.9" cy="494.7" r="3.1"/>
<circle class="dt" cx="499.7" cy="494.2" r="3.1"/>
<circle class="dt" cx="498.2" cy="488.2" r="3.1"/>
<circle class="dt" cx="504.9" cy="489.1" r="3.1"/>
<circle class="dt" cx="473.8" cy="500.3" r="3.1"/>
<circle class="dt" cx="464.1" cy="502.3" r="3.1"/>
<circle class="dt" cx="463.2" cy="505.5" r="3.1"/>
<circle class="dt" cx="487.9" cy="502.5" r="3.1"/>
<circle class="dt" cx="490.9" cy="500.7" r="3.1"/>
<circle class="dt" cx="499.6" cy="502.3" r="3.1"/>
<circle class="dt" cx="505.8" cy="498.9" r="3.1"/>
<circle class="dt" cx="469.0" cy="510.3" r="3.1"/>
<circle class="dt" cx="464.9" cy="513.7" r="3.1"/>
<circle class="dt" cx="492.1" cy="508.8" r="3.1"/>
<circle class="dt" cx="497.5" cy="509.3" r="3.1"/>
<circle class="dt" cx="505.5" cy="510.0" r="3.1"/>
<circle class="dt" cx="496.9" cy="514.9" r="3.1"/>
<circle class="dt" cx="500.8" cy="515.8" r="3.1"/>
<circle class="dt" cx="512.9" cy="512.0" r="3.1"/>
<circle class="dt" cx="466.2" cy="523.7" r="3.1"/>
<circle class="dt" cx="524.8" cy="508.1" r="3.1"/>
<circle class="dt" cx="532.7" cy="506.3" r="3.1"/>
<circle class="dt" cx="540.3" cy="498.4" r="3.1"/>
<circle class="dt" cx="517.0" cy="519.0" r="3.1"/>
<circle class="dt" cx="520.3" cy="526.0" r="3.1"/>
<circle class="dt" cx="518.9" cy="531.9" r="3.1"/>
<circle class="dt" cx="528.8" cy="527.1" r="3.1"/>
<circle class="dt" cx="532.7" cy="528.0" r="3.1"/>
<circle class="dt" cx="513.7" cy="538.0" r="3.1"/>
<circle class="dt" cx="488.2" cy="532.3" r="3.1"/>
<circle class="dt" cx="506.3" cy="534.4" r="3.1"/>
<circle class="dt" cx="498.1" cy="544.7" r="3.1"/>
<circle class="dt" cx="498.8" cy="556.4" r="3.1"/>
<circle class="dt" cx="527.1" cy="542.4" r="3.1"/>
<circle class="dt" cx="552.5" cy="518.4" r="3.1"/>
<circle class="dt" cx="548.4" cy="526.6" r="3.1"/>
<circle class="dt" cx="557.0" cy="527.9" r="3.1"/>
<circle class="dt" cx="543.5" cy="533.6" r="3.1"/>
<circle class="dt" cx="547.9" cy="532.0" r="3.1"/>
<circle class="dt" cx="539.4" cy="539.6" r="3.1"/>
<circle class="dt" cx="544.4" cy="539.4" r="3.1"/>
<circle class="dt" cx="547.2" cy="543.3" r="3.1"/>
<circle class="dt" cx="553.2" cy="539.2" r="3.1"/>
<circle class="dt" cx="545.6" cy="551.6" r="3.1"/>
<circle class="dt" cx="502.9" cy="513.3" r="3.1"/>
<polygon points="516.20,492.00 518.85,499.56 526.85,499.74 520.48,504.59 522.78,512.26 516.20,507.70 509.62,512.26 511.92,504.59 505.55,499.74 513.55,499.56" fill="#000"/>
<text transform="translate(520.77 495.00) scale(1.150 1)" font-size="14.0" font-weight="bold" fill="#0d0d0d">M7.2 (2012)</text>

<rect x="0.5" y="0.5" width="684" height="671.5" fill="none" stroke="#7a7a7a" stroke-width="1"/>
<line x1="336.5" y1="0" x2="336.5" y2="673" stroke="#333" stroke-width="1.3"/>
<line x1="348.2" y1="0" x2="348.2" y2="673" stroke="#444" stroke-width="1.3"/>
<rect x="337.2" y="0" width="10.3" height="673" fill="#fff"/>
<line x1="0" y1="336" x2="337" y2="336" stroke="#333" stroke-width="2"/>
<line x1="348" y1="336" x2="685" y2="336" stroke="#333" stroke-width="2"/>
<line x1="684.5" y1="0" x2="684.5" y2="673" stroke="#333" stroke-width="1.2"/>

</g>
</svg>
</body></html>
